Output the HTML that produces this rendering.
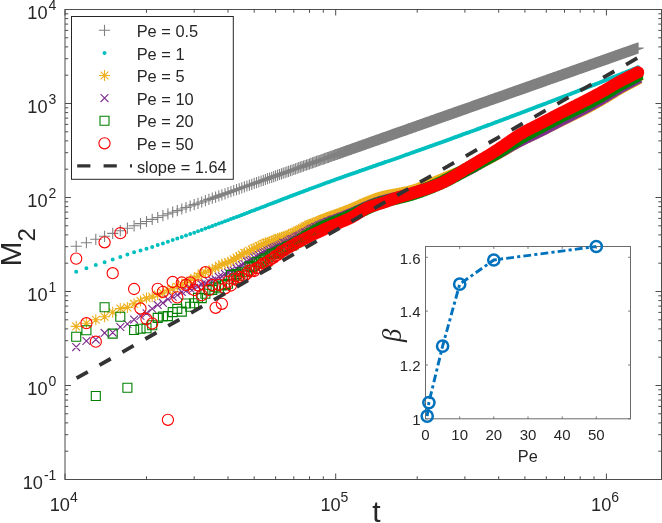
<!DOCTYPE html>
<html><head><meta charset="utf-8"><title>M2 vs t</title><style>html,body{margin:0;padding:0;background:#fff;width:662px;height:523px;overflow:hidden}svg{display:block;filter:blur(0.45px)}</style></head><body><svg width="662" height="523" viewBox="0 0 662 523"><defs><marker id="mb" markerUnits="userSpaceOnUse" markerWidth="16" markerHeight="16" refX="8" refY="8" overflow="visible"><circle cx="8" cy="8" r="5.6" stroke="#0072bd" stroke-width="2.5" fill="#fff" fill-opacity="0"/></marker></defs><rect x="0" y="0" width="662" height="523" fill="#fff"/><path fill="none" stroke="#808080" stroke-width="1.1" d="M70.6 246.3h11.2M76.2 240.7v11.2M80.8 242.7h11.2M86.4 237.1v11.2M90.2 239.3h11.2M95.8 233.7v11.2M99 236.3h11.2M104.6 230.7v11.2M107.1 233.4h11.2M112.7 227.8v11.2M114.7 230.7h11.2M120.3 225.1v11.2M121.8 228.2h11.2M127.4 222.6v11.2M128.5 225.8h11.2M134.1 220.2v11.2M134.9 223.6h11.2M140.5 218v11.2M140.9 221.5h11.2M146.5 215.9v11.2M146.6 219.4h11.2M152.2 213.8v11.2M152.1 217.5h11.2M157.7 211.9v11.2M157.3 215.7h11.2M162.9 210.1v11.2M162.3 213.9h11.2M167.9 208.3v11.2M167.1 212.2h11.2M172.7 206.6v11.2M171.7 210.6h11.2M177.3 205v11.2M176.2 209h11.2M181.8 203.4v11.2M180.4 207.5h11.2M186 201.9v11.2M184.6 206h11.2M190.2 200.4v11.2M188.6 204.6h11.2M194.2 199v11.2M192.4 203.3h11.2M198 197.7v11.2M196.1 202h11.2M201.7 196.4v11.2M199.8 200.7h11.2M205.4 195.1v11.2M203.3 199.4h11.2M208.9 193.8v11.2M206.7 198.2h11.2M212.3 192.6v11.2M210 197.1h11.2M215.6 191.5v11.2M213.2 195.9h11.2M218.8 190.3v11.2M216.3 194.8h11.2M221.9 189.2v11.2M219.4 193.8h11.2M225 188.2v11.2M222.4 192.7h11.2M228 187.1v11.2M225.3 191.7h11.2M230.9 186.1v11.2M228.1 190.7h11.2M233.7 185.1v11.2M230.9 189.7h11.2M236.5 184.1v11.2M233.6 188.8h11.2M239.2 183.2v11.2M236.2 187.8h11.2M241.8 182.2v11.2M238.8 186.9h11.2M244.4 181.3v11.2M241.3 186h11.2M246.9 180.4v11.2M243.8 185.1h11.2M249.4 179.5v11.2M246.2 184.3h11.2M251.8 178.7v11.2M248.6 183.4h11.2M254.2 177.8v11.2M250.9 182.6h11.2M256.5 177v11.2M253.2 181.8h11.2M258.8 176.2v11.2M255.5 181h11.2M261.1 175.4v11.2M257.7 180.3h11.2M263.3 174.7v11.2M259.8 179.5h11.2M265.4 173.9v11.2M261.9 178.7h11.2M267.5 173.1v11.2M264 178h11.2M269.6 172.4v11.2M266.1 177.3h11.2M271.7 171.7v11.2M268.1 176.6h11.2M273.7 171v11.2M270 175.9h11.2M275.6 170.3v11.2M272 175.2h11.2M277.6 169.6v11.2M273.9 174.5h11.2M279.5 168.9v11.2M275.8 173.9h11.2M281.4 168.3v11.2M277.6 173.2h11.2M283.2 167.6v11.2M279.5 172.6h11.2M285.1 167v11.2M281.3 171.9h11.2M286.9 166.3v11.2M283 171.3h11.2M288.6 165.7v11.2M284.8 170.7h11.2M290.4 165.1v11.2M286.5 170.1h11.2M292.1 164.5v11.2M288.2 169.5h11.2M293.8 163.9v11.2M289.8 168.9h11.2M295.4 163.3v11.2M291.5 168.3h11.2M297.1 162.7v11.2M293.1 167.7h11.2M298.7 162.1v11.2M294.7 167.2h11.2M300.3 161.6v11.2M296.3 166.6h11.2M301.9 161v11.2M297.8 166.1h11.2M303.4 160.5v11.2M299.4 165.5h11.2M305 159.9v11.2M300.9 165h11.2M306.5 159.4v11.2M302.4 164.5h11.2M308 158.9v11.2M303.9 164h11.2M309.5 158.4v11.2M305.3 163.4h11.2M310.9 157.8v11.2M306.8 162.9h11.2M312.4 157.3v11.2M308.2 162.4h11.2M313.8 156.8v11.2M309.6 161.9h11.2M315.2 156.3v11.2M311 161.4h11.2M316.6 155.8v11.2M312.4 160.9h11.2M318 155.3v11.2M313.7 160.5h11.2M319.3 154.9v11.2M315.1 160h11.2M320.7 154.4v11.2M316.4 159.5h11.2M322 153.9v11.2M317.7 159.1h11.2M323.3 153.5v11.2M319 158.6h11.2M324.6 153v11.2M320.3 158.2h11.2M325.9 152.6v11.2M321.6 157.7h11.2M327.2 152.1v11.2M322.8 157.3h11.2M328.4 151.7v11.2M324.1 156.8h11.2M329.7 151.2v11.2M325.3 156.4h11.2M330.9 150.8v11.2M326.5 156h11.2M332.1 150.4v11.2M327.7 155.5h11.2M333.3 149.9v11.2M328.9 155.1h11.2M334.5 149.5v11.2M330.1 154.7h11.2M335.7 149.1v11.2M331.3 154.3h11.2M336.9 148.7v11.2M332.4 153.9h11.2M338 148.3v11.2M333.6 153.5h11.2M339.2 147.9v11.2M334.7 153.1h11.2M340.3 147.5v11.2M335.8 152.7h11.2M341.4 147.1v11.2M337 152.3h11.2M342.6 146.7v11.2M338.1 151.9h11.2M343.7 146.3v11.2M339.1 151.5h11.2M344.7 145.9v11.2M340.2 151.1h11.2M345.8 145.5v11.2M341.3 150.7h11.2M346.9 145.1v11.2M342.4 150.4h11.2M348 144.8v11.2M343.4 150h11.2M349 144.4v11.2M344.5 149.6h11.2M350.1 144v11.2M345.5 149.3h11.2M351.1 143.7v11.2M346.5 148.9h11.2M352.1 143.3v11.2M347.5 148.5h11.2M353.1 142.9v11.2M348.6 148.2h11.2M354.2 142.6v11.2M349.6 147.8h11.2M355.2 142.2v11.2M350.6 147.5h11.2M356.2 141.9v11.2M351.5 147.1h11.2M357.1 141.5v11.2M352.5 146.8h11.2M358.1 141.2v11.2M353.5 146.4h11.2M359.1 140.8v11.2M354.4 146.1h11.2M360 140.5v11.2M355.4 145.8h11.2M361 140.2v11.2M356.3 145.4h11.2M361.9 139.8v11.2M357.3 145.1h11.2M362.9 139.5v11.2M358.2 144.8h11.2M363.8 139.2v11.2M359.1 144.5h11.2M364.7 138.9v11.2M360 144.1h11.2M365.6 138.5v11.2M360.9 143.8h11.2M366.5 138.2v11.2M361.8 143.5h11.2M367.4 137.9v11.2M362.7 143.2h11.2M368.3 137.6v11.2M363.6 142.9h11.2M369.2 137.3v11.2M364.5 142.6h11.2M370.1 137v11.2M365.4 142.2h11.2M371 136.6v11.2M366.2 141.9h11.2M371.8 136.3v11.2M367.1 141.6h11.2M372.7 136v11.2M368 141.3h11.2M373.6 135.7v11.2M368.8 141h11.2M374.4 135.4v11.2M369.7 140.7h11.2M375.3 135.1v11.2M370.5 140.4h11.2M376.1 134.8v11.2M371.3 140.1h11.2M376.9 134.5v11.2M372.1 139.9h11.2M377.7 134.3v11.2M373 139.6h11.2M378.6 134v11.2M373.8 139.3h11.2M379.4 133.7v11.2M374.6 139h11.2M380.2 133.4v11.2M375.4 138.7h11.2M381 133.1v11.2M376.2 138.4h11.2M381.8 132.8v11.2M377 138.1h11.2M382.6 132.5v11.2M377.8 137.9h11.2M383.4 132.3v11.2M378.5 137.6h11.2M384.1 132v11.2M379.3 137.3h11.2M384.9 131.7v11.2M380.1 137.1h11.2M385.7 131.5v11.2M380.9 136.8h11.2M386.5 131.2v11.2M381.6 136.5h11.2M387.2 130.9v11.2M382.4 136.2h11.2M388 130.6v11.2M383.1 136h11.2M388.7 130.4v11.2M383.9 135.7h11.2M389.5 130.1v11.2M384.6 135.5h11.2M390.2 129.9v11.2M385.4 135.2h11.2M391 129.6v11.2M386.1 134.9h11.2M391.7 129.3v11.2M386.8 134.7h11.2M392.4 129.1v11.2M387.5 134.4h11.2M393.1 128.8v11.2M388.3 134.2h11.2M393.9 128.6v11.2M389 133.9h11.2M394.6 128.3v11.2M389.7 133.7h11.2M395.3 128.1v11.2M390.4 133.4h11.2M396 127.8v11.2M391.1 133.2h11.2M396.7 127.6v11.2M391.8 132.9h11.2M397.4 127.3v11.2M392.5 132.7h11.2M398.1 127.1v11.2M393.2 132.4h11.2M398.8 126.8v11.2M393.9 132.2h11.2M399.5 126.6v11.2M394.5 132h11.2M400.1 126.4v11.2M395.2 131.7h11.2M400.8 126.1v11.2M395.9 131.5h11.2M401.5 125.9v11.2M396.6 131.2h11.2M402.2 125.6v11.2M397.2 131h11.2M402.8 125.4v11.2M397.9 130.8h11.2M403.5 125.2v11.2M398.5 130.5h11.2M404.1 124.9v11.2M399.2 130.3h11.2M404.8 124.7v11.2M399.9 130.1h11.2M405.5 124.5v11.2M400.5 129.8h11.2M406.1 124.2v11.2M401.1 129.6h11.2M406.7 124v11.2M401.8 129.4h11.2M407.4 123.8v11.2M402.4 129.2h11.2M408 123.6v11.2M403.1 128.9h11.2M408.7 123.3v11.2M403.7 128.7h11.2M409.3 123.1v11.2M404.3 128.5h11.2M409.9 122.9v11.2M404.9 128.3h11.2M410.5 122.7v11.2M405.6 128.1h11.2M411.2 122.5v11.2M406.2 127.8h11.2M411.8 122.2v11.2M406.8 127.6h11.2M412.4 122v11.2M407.4 127.4h11.2M413 121.8v11.2M408 127.2h11.2M413.6 121.6v11.2M408.6 127h11.2M414.2 121.4v11.2M409.2 126.8h11.2M414.8 121.2v11.2M409.8 126.6h11.2M415.4 121v11.2M410.4 126.4h11.2M416 120.8v11.2M411 126.1h11.2M416.6 120.5v11.2M411.6 125.9h11.2M417.2 120.3v11.2M412.2 125.7h11.2M417.8 120.1v11.2M412.8 125.5h11.2M418.4 119.9v11.2M413.3 125.3h11.2M418.9 119.7v11.2M413.9 125.1h11.2M419.5 119.5v11.2M414.5 124.9h11.2M420.1 119.3v11.2M415.1 124.7h11.2M420.7 119.1v11.2M415.6 124.5h11.2M421.2 118.9v11.2M416.2 124.3h11.2M421.8 118.7v11.2M416.8 124.1h11.2M422.4 118.5v11.2M417.3 123.9h11.2M422.9 118.3v11.2M417.9 123.7h11.2M423.5 118.1v11.2M418.4 123.5h11.2M424 117.9v11.2M419 123.3h11.2M424.6 117.7v11.2M419.5 123.1h11.2M425.1 117.5v11.2M420.1 122.9h11.2M425.7 117.3v11.2M420.6 122.7h11.2M426.2 117.1v11.2M421.2 122.6h11.2M426.8 117v11.2M421.7 122.4h11.2M427.3 116.8v11.2M422.3 122.2h11.2M427.9 116.6v11.2M422.8 122h11.2M428.4 116.4v11.2M423.3 121.8h11.2M428.9 116.2v11.2M423.9 121.6h11.2M429.5 116v11.2M424.4 121.4h11.2M430 115.8v11.2M424.9 121.2h11.2M430.5 115.6v11.2M425.4 121.1h11.2M431 115.5v11.2M426 120.9h11.2M431.6 115.3v11.2M426.5 120.7h11.2M432.1 115.1v11.2M427 120.5h11.2M432.6 114.9v11.2M427.5 120.3h11.2M433.1 114.7v11.2M428 120.1h11.2M433.6 114.5v11.2M428.5 120h11.2M434.1 114.4v11.2M429 119.8h11.2M434.6 114.2v11.2M429.5 119.6h11.2M435.1 114v11.2M430 119.4h11.2M435.6 113.8v11.2M430.5 119.2h11.2M436.1 113.6v11.2M431 119.1h11.2M436.6 113.5v11.2M431.5 118.9h11.2M437.1 113.3v11.2M432 118.7h11.2M437.6 113.1v11.2M432.5 118.5h11.2M438.1 112.9v11.2M433 118.4h11.2M438.6 112.8v11.2M433.5 118.2h11.2M439.1 112.6v11.2M434 118h11.2M439.6 112.4v11.2M434.5 117.9h11.2M440.1 112.3v11.2M435 117.7h11.2M440.6 112.1v11.2M435.4 117.5h11.2M441 111.9v11.2M435.9 117.3h11.2M441.5 111.7v11.2M436.4 117.2h11.2M442 111.6v11.2M436.9 117h11.2M442.5 111.4v11.2M437.4 116.8h11.2M443 111.2v11.2M437.8 116.7h11.2M443.4 111.1v11.2M438.3 116.5h11.2M443.9 110.9v11.2M438.8 116.3h11.2M444.4 110.7v11.2M439.2 116.2h11.2M444.8 110.6v11.2M439.7 116h11.2M445.3 110.4v11.2M440.2 115.9h11.2M445.8 110.3v11.2M440.6 115.7h11.2M446.2 110.1v11.2M441.1 115.5h11.2M446.7 109.9v11.2M441.5 115.4h11.2M447.1 109.8v11.2M442 115.2h11.2M447.6 109.6v11.2M442.4 115.1h11.2M448 109.5v11.2M442.9 114.9h11.2M448.5 109.3v11.2M443.3 114.7h11.2M448.9 109.1v11.2M443.8 114.6h11.2M449.4 109v11.2M444.2 114.4h11.2M449.8 108.8v11.2M444.7 114.3h11.2M450.3 108.7v11.2M445.1 114.1h11.2M450.7 108.5v11.2M445.6 114h11.2M451.2 108.4v11.2M446 113.8h11.2M451.6 108.2v11.2M446.4 113.6h11.2M452 108v11.2M446.9 113.5h11.2M452.5 107.9v11.2M447.3 113.3h11.2M452.9 107.7v11.2M447.7 113.2h11.2M453.3 107.6v11.2M448.2 113h11.2M453.8 107.4v11.2M448.6 112.9h11.2M454.2 107.3v11.2M449 112.7h11.2M454.6 107.1v11.2M449.5 112.6h11.2M455.1 107v11.2M449.9 112.4h11.2M455.5 106.8v11.2M450.3 112.3h11.2M455.9 106.7v11.2M450.7 112.1h11.2M456.3 106.5v11.2M451.1 112h11.2M456.7 106.4v11.2M451.6 111.8h11.2M457.2 106.2v11.2M452 111.7h11.2M457.6 106.1v11.2M452.4 111.5h11.2M458 105.9v11.2M452.8 111.4h11.2M458.4 105.8v11.2M453.2 111.2h11.2M458.8 105.6v11.2M453.6 111.1h11.2M459.2 105.5v11.2M454 111h11.2M459.6 105.4v11.2M454.5 110.8h11.2M460.1 105.2v11.2M454.9 110.7h11.2M460.5 105.1v11.2M455.3 110.5h11.2M460.9 104.9v11.2M455.7 110.4h11.2M461.3 104.8v11.2M456.1 110.2h11.2M461.7 104.6v11.2M456.5 110.1h11.2M462.1 104.5v11.2M456.9 110h11.2M462.5 104.4v11.2M457.7 109.7h11.2M463.3 104.1v11.2M458.5 109.4h11.2M464.1 103.8v11.2M459.3 109.1h11.2M464.9 103.5v11.2M460 108.8h11.2M465.6 103.2v11.2M460.8 108.6h11.2M466.4 103v11.2M461.6 108.3h11.2M467.2 102.7v11.2M462.4 108h11.2M468 102.4v11.2M463.1 107.8h11.2M468.7 102.2v11.2M463.9 107.5h11.2M469.5 101.9v11.2M464.6 107.2h11.2M470.2 101.6v11.2M465.4 107h11.2M471 101.4v11.2M466.1 106.7h11.2M471.7 101.1v11.2M466.8 106.4h11.2M472.4 100.8v11.2M467.6 106.2h11.2M473.2 100.6v11.2M468.3 105.9h11.2M473.9 100.3v11.2M469 105.7h11.2M474.6 100.1v11.2M469.7 105.4h11.2M475.3 99.8v11.2M470.5 105.2h11.2M476.1 99.6v11.2M471.2 104.9h11.2M476.8 99.3v11.2M471.9 104.7h11.2M477.5 99.1v11.2M472.6 104.4h11.2M478.2 98.8v11.2M473.3 104.2h11.2M478.9 98.6v11.2M474 103.9h11.2M479.6 98.3v11.2M474.7 103.7h11.2M480.3 98.1v11.2M475.3 103.4h11.2M480.9 97.8v11.2M476 103.2h11.2M481.6 97.6v11.2M476.7 103h11.2M482.3 97.4v11.2M477.4 102.7h11.2M483 97.1v11.2M478 102.5h11.2M483.6 96.9v11.2M478.7 102.2h11.2M484.3 96.6v11.2M479.4 102h11.2M485 96.4v11.2M480 101.8h11.2M485.6 96.2v11.2M480.7 101.6h11.2M486.3 96v11.2M481.3 101.3h11.2M486.9 95.7v11.2M482 101.1h11.2M487.6 95.5v11.2M482.6 100.9h11.2M488.2 95.3v11.2M483.3 100.6h11.2M488.9 95v11.2M483.9 100.4h11.2M489.5 94.8v11.2M484.5 100.2h11.2M490.1 94.6v11.2M485.2 100h11.2M490.8 94.4v11.2M485.8 99.7h11.2M491.4 94.1v11.2M486.4 99.5h11.2M492 93.9v11.2M487 99.3h11.2M492.6 93.7v11.2M487.7 99.1h11.2M493.3 93.5v11.2M488.3 98.9h11.2M493.9 93.3v11.2M488.9 98.7h11.2M494.5 93.1v11.2M489.5 98.4h11.2M495.1 92.8v11.2M490.1 98.2h11.2M495.7 92.6v11.2M490.7 98h11.2M496.3 92.4v11.2M491.3 97.8h11.2M496.9 92.2v11.2M491.9 97.6h11.2M497.5 92v11.2M492.5 97.4h11.2M498.1 91.8v11.2M493.1 97.2h11.2M498.7 91.6v11.2M493.7 97h11.2M499.3 91.4v11.2M494.2 96.8h11.2M499.8 91.2v11.2M494.8 96.6h11.2M500.4 91v11.2M495.4 96.4h11.2M501 90.8v11.2M496 96.2h11.2M501.6 90.6v11.2M496.6 96h11.2M502.2 90.4v11.2M497.1 95.8h11.2M502.7 90.2v11.2M497.7 95.6h11.2M503.3 90v11.2M498.3 95.4h11.2M503.9 89.8v11.2M498.8 95.2h11.2M504.4 89.6v11.2M499.4 95h11.2M505 89.4v11.2M499.9 94.8h11.2M505.5 89.2v11.2M500.5 94.6h11.2M506.1 89v11.2M501 94.4h11.2M506.6 88.8v11.2M501.6 94.2h11.2M507.2 88.6v11.2M502.1 94h11.2M507.7 88.4v11.2M502.7 93.8h11.2M508.3 88.2v11.2M503.2 93.6h11.2M508.8 88v11.2M503.7 93.4h11.2M509.3 87.8v11.2M504.3 93.2h11.2M509.9 87.6v11.2M504.8 93h11.2M510.4 87.4v11.2M505.3 92.9h11.2M510.9 87.3v11.2M505.9 92.7h11.2M511.5 87.1v11.2M506.4 92.5h11.2M512 86.9v11.2M506.9 92.3h11.2M512.5 86.7v11.2M507.4 92.1h11.2M513 86.5v11.2M508 91.9h11.2M513.6 86.3v11.2M508.5 91.7h11.2M514.1 86.1v11.2M509 91.6h11.2M514.6 86v11.2M509.5 91.4h11.2M515.1 85.8v11.2M510 91.2h11.2M515.6 85.6v11.2M510.5 91h11.2M516.1 85.4v11.2M511 90.8h11.2M516.6 85.2v11.2M511.5 90.7h11.2M517.1 85.1v11.2M512 90.5h11.2M517.6 84.9v11.2M512.5 90.3h11.2M518.1 84.7v11.2M513 90.1h11.2M518.6 84.5v11.2M513.5 90h11.2M519.1 84.4v11.2M514 89.8h11.2M519.6 84.2v11.2M514.5 89.6h11.2M520.1 84v11.2M515 89.4h11.2M520.6 83.8v11.2M515.5 89.3h11.2M521.1 83.7v11.2M516 89.1h11.2M521.6 83.5v11.2M516.5 88.9h11.2M522.1 83.3v11.2M516.9 88.8h11.2M522.5 83.2v11.2M517.4 88.6h11.2M523 83v11.2M517.9 88.4h11.2M523.5 82.8v11.2M518.4 88.3h11.2M524 82.7v11.2M518.8 88.1h11.2M524.4 82.5v11.2M519.3 87.9h11.2M524.9 82.3v11.2M519.8 87.8h11.2M525.4 82.2v11.2M520.2 87.6h11.2M525.8 82v11.2M520.7 87.4h11.2M526.3 81.8v11.2M521.2 87.3h11.2M526.8 81.7v11.2M521.6 87.1h11.2M527.2 81.5v11.2M522.1 86.9h11.2M527.7 81.3v11.2M522.6 86.8h11.2M528.2 81.2v11.2M523 86.6h11.2M528.6 81v11.2M523.5 86.5h11.2M529.1 80.9v11.2M523.9 86.3h11.2M529.5 80.7v11.2M524.4 86.1h11.2M530 80.5v11.2M524.8 86h11.2M530.4 80.4v11.2M525.3 85.8h11.2M530.9 80.2v11.2M525.7 85.7h11.2M531.3 80.1v11.2M526.2 85.5h11.2M531.8 79.9v11.2M526.6 85.4h11.2M532.2 79.8v11.2M527 85.2h11.2M532.6 79.6v11.2M527.5 85h11.2M533.1 79.4v11.2M527.9 84.9h11.2M533.5 79.3v11.2M528.4 84.7h11.2M534 79.1v11.2M528.8 84.6h11.2M534.4 79v11.2M529.2 84.4h11.2M534.8 78.8v11.2M529.7 84.3h11.2M535.3 78.7v11.2M530.1 84.1h11.2M535.7 78.5v11.2M530.5 84h11.2M536.1 78.4v11.2M530.9 83.8h11.2M536.5 78.2v11.2M531.4 83.7h11.2M537 78.1v11.2M531.8 83.5h11.2M537.4 77.9v11.2M532.2 83.4h11.2M537.8 77.8v11.2M532.6 83.2h11.2M538.2 77.6v11.2M533.1 83.1h11.2M538.7 77.5v11.2M533.5 82.9h11.2M539.1 77.3v11.2M533.9 82.8h11.2M539.5 77.2v11.2M534.3 82.6h11.2M539.9 77v11.2M534.7 82.5h11.2M540.3 76.9v11.2M535.1 82.3h11.2M540.7 76.7v11.2M535.5 82.2h11.2M541.1 76.6v11.2M535.9 82.1h11.2M541.5 76.5v11.2M536.4 81.9h11.2M542 76.3v11.2M536.8 81.8h11.2M542.4 76.2v11.2M537.2 81.6h11.2M542.8 76v11.2M537.6 81.5h11.2M543.2 75.9v11.2M538 81.3h11.2M543.6 75.7v11.2M538.4 81.2h11.2M544 75.6v11.2M539 81h11.2M544.6 75.4v11.2M539.6 80.8h11.2M545.2 75.2v11.2M540.2 80.6h11.2M545.8 75v11.2M540.7 80.4h11.2M546.3 74.8v11.2M541.3 80.2h11.2M546.9 74.6v11.2M541.9 79.9h11.2M547.5 74.3v11.2M542.5 79.7h11.2M548.1 74.1v11.2M543.1 79.5h11.2M548.7 73.9v11.2M543.6 79.3h11.2M549.2 73.7v11.2M544.2 79.1h11.2M549.8 73.5v11.2M544.8 78.9h11.2M550.4 73.3v11.2M545.4 78.7h11.2M551 73.1v11.2M545.9 78.5h11.2M551.5 72.9v11.2M546.5 78.3h11.2M552.1 72.7v11.2M547 78.1h11.2M552.6 72.5v11.2M547.6 77.9h11.2M553.2 72.3v11.2M548.1 77.7h11.2M553.7 72.1v11.2M548.7 77.6h11.2M554.3 72v11.2M549.2 77.4h11.2M554.8 71.8v11.2M549.8 77.2h11.2M555.4 71.6v11.2M550.3 77h11.2M555.9 71.4v11.2M550.9 76.8h11.2M556.5 71.2v11.2M551.4 76.6h11.2M557 71v11.2M552 76.4h11.2M557.6 70.8v11.2M552.5 76.2h11.2M558.1 70.6v11.2M553 76h11.2M558.6 70.4v11.2M553.5 75.8h11.2M559.1 70.2v11.2M554.1 75.7h11.2M559.7 70.1v11.2M554.6 75.5h11.2M560.2 69.9v11.2M555.1 75.3h11.2M560.7 69.7v11.2M555.6 75.1h11.2M561.2 69.5v11.2M556.1 74.9h11.2M561.7 69.3v11.2M556.7 74.7h11.2M562.3 69.1v11.2M557.2 74.6h11.2M562.8 69v11.2M557.7 74.4h11.2M563.3 68.8v11.2M558.2 74.2h11.2M563.8 68.6v11.2M558.7 74h11.2M564.3 68.4v11.2M559.2 73.8h11.2M564.8 68.2v11.2M559.7 73.7h11.2M565.3 68.1v11.2M560.2 73.5h11.2M565.8 67.9v11.2M560.7 73.3h11.2M566.3 67.7v11.2M561.2 73.1h11.2M566.8 67.5v11.2M561.7 73h11.2M567.3 67.4v11.2M562.2 72.8h11.2M567.8 67.2v11.2M562.7 72.6h11.2M568.3 67v11.2M563.2 72.5h11.2M568.8 66.9v11.2M563.6 72.3h11.2M569.2 66.7v11.2M564.1 72.1h11.2M569.7 66.5v11.2M564.6 71.9h11.2M570.2 66.3v11.2M565.1 71.8h11.2M570.7 66.2v11.2M565.6 71.6h11.2M571.2 66v11.2M566 71.4h11.2M571.6 65.8v11.2M566.5 71.3h11.2M572.1 65.7v11.2M567 71.1h11.2M572.6 65.5v11.2M567.4 70.9h11.2M573 65.3v11.2M567.9 70.8h11.2M573.5 65.2v11.2M568.4 70.6h11.2M574 65v11.2M568.8 70.4h11.2M574.4 64.8v11.2M569.3 70.3h11.2M574.9 64.7v11.2M569.8 70.1h11.2M575.4 64.5v11.2M570.2 70h11.2M575.8 64.4v11.2M570.7 69.8h11.2M576.3 64.2v11.2M571.1 69.6h11.2M576.7 64v11.2M571.6 69.5h11.2M577.2 63.9v11.2M572 69.3h11.2M577.6 63.7v11.2M572.5 69.2h11.2M578.1 63.6v11.2M572.9 69h11.2M578.5 63.4v11.2M573.4 68.8h11.2M579 63.2v11.2M573.8 68.7h11.2M579.4 63.1v11.2M574.3 68.5h11.2M579.9 62.9v11.2M574.7 68.4h11.2M580.3 62.8v11.2M575.2 68.2h11.2M580.8 62.6v11.2M575.6 68.1h11.2M581.2 62.5v11.2M576 67.9h11.2M581.6 62.3v11.2M576.5 67.8h11.2M582.1 62.2v11.2M576.9 67.6h11.2M582.5 62v11.2M577.3 67.5h11.2M582.9 61.9v11.2M577.8 67.3h11.2M583.4 61.7v11.2M578.2 67.1h11.2M583.8 61.5v11.2M578.6 67h11.2M584.2 61.4v11.2M579 66.8h11.2M584.6 61.2v11.2M579.5 66.7h11.2M585.1 61.1v11.2M579.9 66.6h11.2M585.5 61v11.2M580.3 66.4h11.2M585.9 60.8v11.2M580.7 66.3h11.2M586.3 60.7v11.2M581.1 66.1h11.2M586.7 60.5v11.2M581.6 66h11.2M587.2 60.4v11.2M582 65.8h11.2M587.6 60.2v11.2M582.4 65.7h11.2M588 60.1v11.2M582.8 65.5h11.2M588.4 59.9v11.2M583.2 65.4h11.2M588.8 59.8v11.2M583.6 65.2h11.2M589.2 59.6v11.2M584 65.1h11.2M589.6 59.5v11.2M584.4 64.9h11.2M590 59.3v11.2M584.8 64.8h11.2M590.4 59.2v11.2M585.2 64.7h11.2M590.8 59.1v11.2M585.6 64.5h11.2M591.2 58.9v11.2M586 64.4h11.2M591.6 58.8v11.2M586.6 64.2h11.2M592.2 58.6v11.2M587.1 64h11.2M592.7 58.4v11.2M587.6 63.8h11.2M593.2 58.2v11.2M588.2 63.6h11.2M593.8 58v11.2M588.7 63.4h11.2M594.3 57.8v11.2M589.2 63.3h11.2M594.8 57.7v11.2M589.7 63.1h11.2M595.3 57.5v11.2M590.2 62.9h11.2M595.8 57.3v11.2M590.7 62.7h11.2M596.3 57.1v11.2M591.3 62.5h11.2M596.9 56.9v11.2M591.8 62.4h11.2M597.4 56.8v11.2M592.3 62.2h11.2M597.9 56.6v11.2M592.8 62h11.2M598.4 56.4v11.2M593.3 61.8h11.2M598.9 56.2v11.2M593.8 61.6h11.2M599.4 56v11.2M594.3 61.5h11.2M599.9 55.9v11.2M594.8 61.3h11.2M600.4 55.7v11.2M595.3 61.1h11.2M600.9 55.5v11.2M595.8 60.9h11.2M601.4 55.3v11.2M596.2 60.8h11.2M601.8 55.2v11.2M596.7 60.6h11.2M602.3 55v11.2M597.2 60.4h11.2M602.8 54.8v11.2M597.7 60.3h11.2M603.3 54.7v11.2M598.2 60.1h11.2M603.8 54.5v11.2M598.7 59.9h11.2M604.3 54.3v11.2M599.1 59.8h11.2M604.7 54.2v11.2M599.6 59.6h11.2M605.2 54v11.2M600.1 59.4h11.2M605.7 53.8v11.2M600.6 59.3h11.2M606.2 53.7v11.2M601 59.1h11.2M606.6 53.5v11.2M601.5 58.9h11.2M607.1 53.3v11.2M602 58.8h11.2M607.6 53.2v11.2M602.4 58.6h11.2M608 53v11.2M602.9 58.4h11.2M608.5 52.8v11.2M603.4 58.3h11.2M609 52.7v11.2M603.8 58.1h11.2M609.4 52.5v11.2M604.3 57.9h11.2M609.9 52.3v11.2M604.7 57.8h11.2M610.3 52.2v11.2M605.2 57.6h11.2M610.8 52v11.2M605.6 57.5h11.2M611.2 51.9v11.2M606.1 57.3h11.2M611.7 51.7v11.2M606.5 57.1h11.2M612.1 51.5v11.2M607 57h11.2M612.6 51.4v11.2M607.4 56.8h11.2M613 51.2v11.2M607.9 56.7h11.2M613.5 51.1v11.2M608.3 56.5h11.2M613.9 50.9v11.2M608.8 56.4h11.2M614.4 50.8v11.2M609.2 56.2h11.2M614.8 50.6v11.2M609.6 56.1h11.2M615.2 50.5v11.2M610.1 55.9h11.2M615.7 50.3v11.2M610.5 55.7h11.2M616.1 50.1v11.2M610.9 55.6h11.2M616.5 50v11.2M611.4 55.4h11.2M617 49.8v11.2M611.8 55.3h11.2M617.4 49.7v11.2M612.2 55.1h11.2M617.8 49.5v11.2M612.6 55h11.2M618.2 49.4v11.2M613.1 54.8h11.2M618.7 49.2v11.2M613.5 54.7h11.2M619.1 49.1v11.2M613.9 54.5h11.2M619.5 48.9v11.2M614.3 54.4h11.2M619.9 48.8v11.2M614.8 54.2h11.2M620.4 48.6v11.2M615.2 54.1h11.2M620.8 48.5v11.2M615.6 54h11.2M621.2 48.4v11.2M616 53.8h11.2M621.6 48.2v11.2M616.4 53.7h11.2M622 48.1v11.2M616.8 53.5h11.2M622.4 47.9v11.2M617.2 53.4h11.2M622.8 47.8v11.2M617.6 53.2h11.2M623.2 47.6v11.2M618 53.1h11.2M623.6 47.5v11.2M618.5 52.9h11.2M624.1 47.3v11.2M618.9 52.8h11.2M624.5 47.2v11.2M619.3 52.7h11.2M624.9 47.1v11.2M619.7 52.5h11.2M625.3 46.9v11.2M620.2 52.3h11.2M625.8 46.7v11.2M620.7 52.2h11.2M626.3 46.6v11.2M621.2 52h11.2M626.8 46.4v11.2M621.6 51.8h11.2M627.2 46.2v11.2M622.1 51.6h11.2M627.7 46v11.2M622.6 51.5h11.2M628.2 45.9v11.2M623.1 51.3h11.2M628.7 45.7v11.2M623.6 51.1h11.2M629.2 45.5v11.2M624.1 51h11.2M629.7 45.4v11.2M624.6 50.8h11.2M630.2 45.2v11.2M625 50.6h11.2M630.6 45v11.2M625.5 50.4h11.2M631.1 44.8v11.2M626 50.3h11.2M631.6 44.7v11.2M626.5 50.1h11.2M632.1 44.5v11.2M626.9 49.9h11.2M632.5 44.3v11.2M627.4 49.8h11.2M633 44.2v11.2M627.9 49.6h11.2M633.5 44v11.2M628.3 49.4h11.2M633.9 43.8v11.2M628.8 49.3h11.2M634.4 43.7v11.2M629.3 49.1h11.2M634.9 43.5v11.2M629.7 49h11.2M635.3 43.4v11.2M630.2 48.8h11.2M635.8 43.2v11.2M630.6 48.6h11.2M636.2 43v11.2M631.1 48.5h11.2M636.7 42.9v11.2M631.6 48.3h11.2M637.2 42.7v11.2M632 48.2h11.2M637.6 42.6v11.2M632.5 48h11.2M638.1 42.4v11.2"/><path fill="none" stroke="#00bfbf" stroke-width="4.0" stroke-linecap="round" d="M76.2 271.8h0M86.4 268.2h0M95.8 265h0M104.6 262.2h0M112.7 259.5h0M120.3 256.9h0M127.4 254.5h0M134.1 252.3h0M140.5 250.5h0M146.5 248.7h0M152.2 246.9h0M157.7 245.1h0M162.9 243.4h0M167.9 241.8h0M172.7 240.1h0M177.3 238.6h0M181.8 237h0M186 235.5h0M190.2 234.1h0M194.2 232.7h0M198 231.3h0M201.7 229.9h0M205.4 228.6h0M208.9 227.3h0M212.3 226.1h0M215.6 224.8h0M218.8 223.6h0M221.9 222.4h0M225 221.3h0M228 220.2h0M230.9 219.1h0M233.7 218h0M236.5 217h0M239.2 215.9h0M241.8 214.9h0M244.4 213.9h0M246.9 213h0M249.4 212h0M251.8 211.1h0M254.2 210.2h0M256.5 209.3h0M258.8 208.4h0M261.1 207.5h0M263.3 206.7h0M265.4 205.9h0M267.5 205.1h0M269.6 204.3h0M271.7 203.5h0M273.7 202.7h0M275.6 201.9h0M277.6 201.2h0M279.5 200.5h0M281.4 199.7h0M283.2 199h0M285.1 198.3h0M286.9 197.7h0M288.6 197h0M290.4 196.3h0M292.1 195.7h0M293.8 195h0M295.4 194.4h0M297.1 193.8h0M298.7 193.2h0M300.3 192.6h0M301.9 192h0M303.4 191.4h0M305 190.8h0M306.5 190.2h0M308 189.7h0M309.5 189.1h0M310.9 188.6h0M312.4 188h0M313.8 187.5h0M315.2 187h0M316.6 186.5h0M318 186h0M319.3 185.5h0M320.7 185h0M322 184.5h0M323.3 184h0M324.6 183.5h0M325.9 183.1h0M327.2 182.6h0M328.4 182.2h0M329.7 181.7h0M330.9 181.3h0M332.1 180.8h0M333.3 180.4h0M334.5 180h0M335.7 179.6h0M336.9 179.1h0M338 178.7h0M339.2 178.3h0M340.3 177.9h0M341.4 177.5h0M342.6 177.1h0M343.7 176.7h0M344.7 176.3h0M345.8 176h0M346.9 175.6h0M348 175.2h0M349 174.8h0M350.1 174.5h0M351.1 174.1h0M352.1 173.8h0M353.1 173.4h0M354.2 173h0M355.2 172.7h0M356.2 172.4h0M357.1 172h0M358.1 171.7h0M359.1 171.3h0M360 171h0M361 170.7h0M361.9 170.3h0M362.9 170h0M363.8 169.7h0M364.7 169.4h0M365.6 169h0M366.5 168.7h0M367.4 168.4h0M368.3 168.1h0M369.2 167.8h0M370.1 167.5h0M371 167.2h0M371.8 166.9h0M372.7 166.6h0M373.6 166.3h0M374.4 166h0M375.3 165.7h0M376.1 165.4h0M376.9 165.1h0M377.7 164.8h0M378.6 164.5h0M379.4 164.3h0M380.2 164h0M381 163.7h0M381.8 163.4h0M382.6 163.1h0M383.4 162.9h0M384.1 162.6h0M384.9 162.3h0M385.7 162h0M386.5 161.8h0M387.2 161.5h0M388 161.2h0M388.7 161h0M389.5 160.7h0M390.2 160.5h0M391 160.2h0M391.7 159.9h0M392.4 159.7h0M393.1 159.4h0M393.9 159.2h0M394.6 158.9h0M395.3 158.7h0M396 158.4h0M396.7 158.2h0M397.4 157.9h0M398.1 157.7h0M398.8 157.4h0M399.5 157.2h0M400.1 157h0M400.8 156.7h0M401.5 156.5h0M402.2 156.2h0M402.8 156h0M403.5 155.8h0M404.1 155.5h0M404.8 155.3h0M405.5 155.1h0M406.1 154.8h0M406.7 154.6h0M407.4 154.4h0M408 154.2h0M408.7 153.9h0M409.3 153.7h0M409.9 153.5h0M410.5 153.3h0M411.2 153h0M411.8 152.8h0M412.4 152.6h0M413 152.4h0M413.6 152.2h0M414.2 152h0M414.8 151.7h0M415.4 151.5h0M416 151.3h0M416.6 151.1h0M417.2 150.9h0M417.8 150.7h0M418.4 150.5h0M418.9 150.3h0M419.5 150.1h0M420.1 149.9h0M420.7 149.7h0M421.2 149.5h0M421.8 149.3h0M422.4 149.1h0M422.9 148.9h0M423.5 148.7h0M424 148.5h0M424.6 148.3h0M425.1 148.1h0M425.7 147.9h0M426.2 147.7h0M426.8 147.5h0M427.3 147.3h0M427.9 147.1h0M428.4 146.9h0M428.9 146.7h0M429.5 146.5h0M430 146.3h0M430.5 146.2h0M431 146h0M431.6 145.8h0M432.1 145.6h0M432.6 145.4h0M433.1 145.2h0M433.6 145h0M434.1 144.9h0M434.6 144.7h0M435.1 144.5h0M435.6 144.3h0M436.1 144.1h0M436.6 144h0M437.1 143.8h0M437.6 143.6h0M438.1 143.4h0M438.6 143.3h0M439.1 143.1h0M439.6 142.9h0M440.1 142.7h0M440.6 142.6h0M441 142.4h0M441.5 142.2h0M442 142h0M442.5 141.9h0M443 141.7h0M443.4 141.5h0M443.9 141.4h0M444.4 141.2h0M444.8 141h0M445.3 140.9h0M445.8 140.7h0M446.2 140.5h0M446.7 140.4h0M447.1 140.2h0M447.6 140h0M448 139.9h0M448.5 139.7h0M448.9 139.5h0M449.4 139.4h0M449.8 139.2h0M450.3 139.1h0M450.7 138.9h0M451.2 138.7h0M451.6 138.6h0M452 138.4h0M452.5 138.3h0M452.9 138.1h0M453.3 138h0M453.8 137.8h0M454.2 137.6h0M454.6 137.5h0M455.1 137.3h0M455.5 137.2h0M455.9 137h0M456.3 136.9h0M456.7 136.7h0M457.2 136.6h0M457.6 136.4h0M458 136.3h0M458.4 136.1h0M458.8 136h0M459.2 135.8h0M459.6 135.7h0M460.1 135.5h0M460.5 135.4h0M460.9 135.2h0M461.3 135.1h0M461.7 134.9h0M462.1 134.8h0M462.5 134.6h0M463.3 134.3h0M464.1 134.1h0M464.9 133.8h0M465.6 133.5h0M466.4 133.2h0M467.2 132.9h0M468 132.6h0M468.7 132.4h0M469.5 132.1h0M470.2 131.8h0M471 131.5h0M471.7 131.3h0M472.4 131h0M473.2 130.7h0M473.9 130.5h0M474.6 130.2h0M475.3 129.9h0M476.1 129.7h0M476.8 129.4h0M477.5 129.1h0M478.2 128.9h0M478.9 128.6h0M479.6 128.4h0M480.3 128.1h0M480.9 127.8h0M481.6 127.6h0M482.3 127.3h0M483 127.1h0M483.6 126.8h0M484.3 126.6h0M485 126.4h0M485.6 126.1h0M486.3 125.9h0M486.9 125.6h0M487.6 125.4h0M488.2 125.1h0M488.9 124.9h0M489.5 124.7h0M490.1 124.4h0M490.8 124.2h0M491.4 124h0M492 123.7h0M492.6 123.5h0M493.3 123.3h0M493.9 123h0M494.5 122.8h0M495.1 122.6h0M495.7 122.4h0M496.3 122.1h0M496.9 121.9h0M497.5 121.7h0M498.1 121.5h0M498.7 121.2h0M499.3 121h0M499.8 120.8h0M500.4 120.6h0M501 120.4h0M501.6 120.2h0M502.2 119.9h0M502.7 119.7h0M503.3 119.5h0M503.9 119.3h0M504.4 119.1h0M505 118.9h0M505.5 118.7h0M506.1 118.5h0M506.6 118.3h0M507.2 118.1h0M507.7 117.9h0M508.3 117.7h0M508.8 117.4h0M509.3 117.2h0M509.9 117h0M510.4 116.8h0M510.9 116.6h0M511.5 116.4h0M512 116.2h0M512.5 116.1h0M513 115.9h0M513.6 115.7h0M514.1 115.5h0M514.6 115.3h0M515.1 115.1h0M515.6 114.9h0M516.1 114.7h0M516.6 114.5h0M517.1 114.3h0M517.6 114.1h0M518.1 113.9h0M518.6 113.8h0M519.1 113.6h0M519.6 113.4h0M520.1 113.2h0M520.6 113h0M521.1 112.8h0M521.6 112.6h0M522.1 112.5h0M522.5 112.3h0M523 112.1h0M523.5 111.9h0M524 111.7h0M524.4 111.6h0M524.9 111.4h0M525.4 111.2h0M525.8 111h0M526.3 110.8h0M526.8 110.7h0M527.2 110.5h0M527.7 110.3h0M528.2 110.1h0M528.6 110h0M529.1 109.8h0M529.5 109.6h0M530 109.5h0M530.4 109.3h0M530.9 109.1h0M531.3 109h0M531.8 108.8h0M532.2 108.6h0M532.6 108.4h0M533.1 108.3h0M533.5 108.1h0M534 107.9h0M534.4 107.8h0M534.8 107.6h0M535.3 107.5h0M535.7 107.3h0M536.1 107.1h0M536.5 107h0M537 106.8h0M537.4 106.6h0M537.8 106.5h0M538.2 106.3h0M538.7 106.2h0M539.1 106h0M539.5 105.8h0M539.9 105.7h0M540.3 105.5h0M540.7 105.4h0M541.1 105.2h0M541.5 105.1h0M542 104.9h0M542.4 104.7h0M542.8 104.6h0M543.2 104.4h0M543.6 104.3h0M544 104.1h0M544.6 103.9h0M545.2 103.7h0M545.8 103.5h0M546.3 103.2h0M546.9 103h0M547.5 102.8h0M548.1 102.6h0M548.7 102.3h0M549.2 102.1h0M549.8 101.9h0M550.4 101.7h0M551 101.5h0M551.5 101.2h0M552.1 101h0M552.6 100.8h0M553.2 100.6h0M553.7 100.4h0M554.3 100.2h0M554.8 100h0M555.4 99.8h0M555.9 99.5h0M556.5 99.3h0M557 99.1h0M557.6 98.9h0M558.1 98.7h0M558.6 98.5h0M559.1 98.3h0M559.7 98.1h0M560.2 97.9h0M560.7 97.7h0M561.2 97.5h0M561.7 97.3h0M562.3 97.1h0M562.8 96.9h0M563.3 96.7h0M563.8 96.5h0M564.3 96.3h0M564.8 96.1h0M565.3 95.9h0M565.8 95.7h0M566.3 95.6h0M566.8 95.4h0M567.3 95.2h0M567.8 95h0M568.3 94.8h0M568.8 94.6h0M569.2 94.4h0M569.7 94.2h0M570.2 94h0M570.7 93.9h0M571.2 93.7h0M571.6 93.5h0M572.1 93.3h0M572.6 93.1h0M573 92.9h0M573.5 92.8h0M574 92.6h0M574.4 92.4h0M574.9 92.2h0M575.4 92h0M575.8 91.9h0M576.3 91.7h0M576.7 91.5h0M577.2 91.3h0M577.6 91.2h0M578.1 91h0M578.5 90.8h0M579 90.6h0M579.4 90.5h0M579.9 90.3h0M580.3 90.1h0M580.8 90h0M581.2 89.8h0M581.6 89.6h0M582.1 89.4h0M582.5 89.3h0M582.9 89.1h0M583.4 88.9h0M583.8 88.8h0M584.2 88.6h0M584.6 88.4h0M585.1 88.3h0M585.5 88.1h0M585.9 87.9h0M586.3 87.8h0M586.7 87.6h0M587.2 87.5h0M587.6 87.3h0M588 87.1h0M588.4 87h0M588.8 86.8h0M589.2 86.6h0M589.6 86.5h0M590 86.3h0M590.4 86.2h0M590.8 86h0M591.2 85.9h0M591.6 85.7h0M592.2 85.5h0M592.7 85.3h0M593.2 85.1h0M593.8 84.9h0M594.3 84.7h0M594.8 84.5h0M595.3 84.3h0M595.8 84.1h0M596.3 83.9h0M596.9 83.7h0M597.4 83.5h0M597.9 83.3h0M598.4 83.1h0M598.9 82.9h0M599.4 82.7h0M599.9 82.5h0M600.4 82.3h0M600.9 82.1h0M601.4 81.9h0M601.8 81.7h0M602.3 81.5h0M602.8 81.3h0M603.3 81.1h0M603.8 80.9h0M604.3 80.7h0M604.7 80.5h0M605.2 80.4h0M605.7 80.2h0M606.2 80h0M606.6 79.8h0M607.1 79.6h0M607.6 79.4h0M608 79.2h0M608.5 79.1h0M609 78.9h0M609.4 78.7h0M609.9 78.5h0M610.3 78.3h0M610.8 78.2h0M611.2 78h0M611.7 77.8h0M612.1 77.6h0M612.6 77.4h0M613 77.3h0M613.5 77.1h0M613.9 76.9h0M614.4 76.7h0M614.8 76.6h0M615.2 76.4h0M615.7 76.2h0M616.1 76.1h0M616.5 75.9h0M617 75.7h0M617.4 75.5h0M617.8 75.4h0M618.2 75.2h0M618.7 75h0M619.1 74.9h0M619.5 74.7h0M619.9 74.5h0M620.4 74.4h0M620.8 74.2h0M621.2 74h0M621.6 73.9h0M622 73.7h0M622.4 73.5h0M622.8 73.4h0M623.2 73.2h0M623.6 73.1h0M624.1 72.9h0M624.5 72.7h0M624.9 72.6h0M625.3 72.4h0M625.8 72.2h0M626.3 72h0M626.8 71.8h0M627.2 71.6h0M627.7 71.4h0M628.2 71.2h0M628.7 71h0M629.2 70.8h0M629.7 70.6h0M630.2 70.4h0M630.6 70.3h0M631.1 70.1h0M631.6 69.9h0M632.1 69.7h0M632.5 69.5h0M633 69.3h0M633.5 69.1h0M633.9 68.9h0M634.4 68.7h0M634.9 68.6h0M635.3 68.4h0M635.8 68.2h0M636.2 68h0M636.7 67.8h0M637.2 67.6h0M637.6 67.5h0M638.1 67.3h0"/><path fill="none" stroke="#edb120" stroke-width="1.1" d="M70.7 326.4h11M76.2 320.9v11M72.3 322.5l7.8 7.8M72.3 330.3l7.8-7.8M80.9 323.3h11M86.4 317.8v11M82.5 319.4l7.8 7.8M82.5 327.2l7.8-7.8M90.3 319.8h11M95.8 314.3v11M91.9 315.9l7.8 7.8M91.9 323.7l7.8-7.8M99.1 316.8h11M104.6 311.3v11M100.7 312.9l7.8 7.8M100.7 320.7l7.8-7.8M107.2 312.2h11M112.7 306.7v11M108.8 308.3l7.8 7.8M108.8 316.1l7.8-7.8M114.8 308.6h11M120.3 303.1v11M116.4 304.7l7.8 7.8M116.4 312.5l7.8-7.8M121.9 307.4h11M127.4 301.9v11M123.5 303.5l7.8 7.8M123.5 311.3l7.8-7.8M128.6 303.9h11M134.1 298.4v11M130.2 300l7.8 7.8M130.2 307.8l7.8-7.8M135 300.9h11M140.5 295.4v11M136.6 297l7.8 7.8M136.6 304.8l7.8-7.8M141 298.1h11M146.5 292.6v11M142.6 294.2l7.8 7.8M142.6 302l7.8-7.8M146.7 296.7h11M152.2 291.2v11M148.3 292.8l7.8 7.8M148.3 300.6l7.8-7.8M152.2 294.6h11M157.7 289.1v11M153.8 290.7l7.8 7.8M153.8 298.5l7.8-7.8M157.4 293h11M162.9 287.5v11M159 289.1l7.8 7.8M159 296.9l7.8-7.8M162.4 290.1h11M167.9 284.6v11M164 286.2l7.8 7.8M164 294l7.8-7.8M167.2 288.8h11M172.7 283.3v11M168.8 284.9l7.8 7.8M168.8 292.7l7.8-7.8M171.8 286.7h11M177.3 281.2v11M173.4 282.8l7.8 7.8M173.4 290.6l7.8-7.8M176.3 284.3h11M181.8 278.8v11M177.9 280.4l7.8 7.8M177.9 288.2l7.8-7.8M180.5 282.9h11M186 277.4v11M182.1 279l7.8 7.8M182.1 286.8l7.8-7.8M184.7 280.5h11M190.2 275v11M186.3 276.6l7.8 7.8M186.3 284.4l7.8-7.8M188.7 278h11M194.2 272.5v11M190.3 274.1l7.8 7.8M190.3 281.9l7.8-7.8M192.5 276.1h11M198 270.6v11M194.1 272.2l7.8 7.8M194.1 280l7.8-7.8M196.2 273.4h11M201.7 267.9v11M197.8 269.5l7.8 7.8M197.8 277.3l7.8-7.8M199.9 272.3h11M205.4 266.8v11M201.5 268.4l7.8 7.8M201.5 276.2l7.8-7.8M203.4 270.8h11M208.9 265.3v11M205 266.9l7.8 7.8M205 274.7l7.8-7.8M206.8 269.2h11M212.3 263.7v11M208.4 265.3l7.8 7.8M208.4 273.1l7.8-7.8M210.1 268.1h11M215.6 262.6v11M211.7 264.2l7.8 7.8M211.7 272l7.8-7.8M213.3 265.8h11M218.8 260.3v11M214.9 261.9l7.8 7.8M214.9 269.7l7.8-7.8M216.4 264.3h11M221.9 258.8v11M218 260.4l7.8 7.8M218 268.2l7.8-7.8M219.5 263.6h11M225 258.1v11M221.1 259.7l7.8 7.8M221.1 267.5l7.8-7.8M222.5 262.2h11M228 256.7v11M224.1 258.3l7.8 7.8M224.1 266.1l7.8-7.8M225.4 261.4h11M230.9 255.9v11M227 257.5l7.8 7.8M227 265.3l7.8-7.8M228.2 259.4h11M233.7 253.9v11M229.8 255.5l7.8 7.8M229.8 263.3l7.8-7.8M231 257.5h11M236.5 252v11M232.6 253.6l7.8 7.8M232.6 261.4l7.8-7.8M233.7 256.6h11M239.2 251.1v11M235.3 252.7l7.8 7.8M235.3 260.5l7.8-7.8M236.3 254.6h11M241.8 249.1v11M237.9 250.7l7.8 7.8M237.9 258.5l7.8-7.8M238.9 252.9h11M244.4 247.4v11M240.5 249l7.8 7.8M240.5 256.8l7.8-7.8M241.4 252.9h11M246.9 247.4v11M243 249l7.8 7.8M243 256.8l7.8-7.8M243.9 250.8h11M249.4 245.3v11M245.5 246.9l7.8 7.8M245.5 254.7l7.8-7.8M246.3 249.6h11M251.8 244.1v11M247.9 245.7l7.8 7.8M247.9 253.5l7.8-7.8M248.7 248.3h11M254.2 242.8v11M250.3 244.4l7.8 7.8M250.3 252.2l7.8-7.8M251 247.6h11M256.5 242.1v11M252.6 243.7l7.8 7.8M252.6 251.5l7.8-7.8M253.3 246h11M258.8 240.5v11M254.9 242.1l7.8 7.8M254.9 249.9l7.8-7.8M255.6 245.3h11M261.1 239.8v11M257.2 241.4l7.8 7.8M257.2 249.2l7.8-7.8M257.8 243.7h11M263.3 238.2v11M259.4 239.8l7.8 7.8M259.4 247.6l7.8-7.8M259.9 242.7h11M265.4 237.2v11M261.5 238.8l7.8 7.8M261.5 246.6l7.8-7.8M262 242.7h11M267.5 237.2v11M263.6 238.8l7.8 7.8M263.6 246.6l7.8-7.8M264.1 241.9h11M269.6 236.4v11M265.7 238l7.8 7.8M265.7 245.8l7.8-7.8M266.2 240.9h11M271.7 235.4v11M267.8 237l7.8 7.8M267.8 244.8l7.8-7.8M268.2 240.1h11M273.7 234.6v11M269.8 236.2l7.8 7.8M269.8 244l7.8-7.8M270.1 239.3h11M275.6 233.8v11M271.7 235.4l7.8 7.8M271.7 243.2l7.8-7.8M272.1 238.4h11M277.6 232.9v11M273.7 234.5l7.8 7.8M273.7 242.3l7.8-7.8M274 238.3h11M279.5 232.8v11M275.6 234.4l7.8 7.8M275.6 242.2l7.8-7.8M275.9 237.4h11M281.4 231.9v11M277.5 233.5l7.8 7.8M277.5 241.3l7.8-7.8M277.7 236.6h11M283.2 231.1v11M279.3 232.7l7.8 7.8M279.3 240.5l7.8-7.8M279.6 235.9h11M285.1 230.4v11M281.2 232l7.8 7.8M281.2 239.8l7.8-7.8M281.4 235.4h11M286.9 229.9v11M283 231.5l7.8 7.8M283 239.3l7.8-7.8M283.1 234.5h11M288.6 229v11M284.7 230.6l7.8 7.8M284.7 238.4l7.8-7.8M284.9 233.9h11M290.4 228.4v11M286.5 230l7.8 7.8M286.5 237.8l7.8-7.8M286.6 232.7h11M292.1 227.2v11M288.2 228.8l7.8 7.8M288.2 236.6l7.8-7.8M288.3 232.3h11M293.8 226.8v11M289.9 228.4l7.8 7.8M289.9 236.2l7.8-7.8M289.9 231.9h11M295.4 226.4v11M291.5 228l7.8 7.8M291.5 235.8l7.8-7.8M291.6 230.5h11M297.1 225v11M293.2 226.6l7.8 7.8M293.2 234.4l7.8-7.8M293.2 229.7h11M298.7 224.2v11M294.8 225.8l7.8 7.8M294.8 233.6l7.8-7.8M294.8 229.1h11M300.3 223.6v11M296.4 225.2l7.8 7.8M296.4 233l7.8-7.8M296.4 228.3h11M301.9 222.8v11M298 224.4l7.8 7.8M298 232.2l7.8-7.8M297.9 227.4h11M303.4 221.9v11M299.5 223.5l7.8 7.8M299.5 231.3l7.8-7.8M299.5 226.2h11M305 220.7v11M301.1 222.3l7.8 7.8M301.1 230.1l7.8-7.8M301 225.9h11M306.5 220.4v11M302.6 222l7.8 7.8M302.6 229.8l7.8-7.8M302.5 224.9h11M308 219.4v11M304.1 221l7.8 7.8M304.1 228.8l7.8-7.8M304 224.3h11M309.5 218.8v11M305.6 220.4l7.8 7.8M305.6 228.2l7.8-7.8M305.4 223.9h11M310.9 218.4v11M307 220l7.8 7.8M307 227.8l7.8-7.8M306.9 223.2h11M312.4 217.7v11M308.5 219.3l7.8 7.8M308.5 227.1l7.8-7.8M308.3 222.8h11M313.8 217.3v11M309.9 218.9l7.8 7.8M309.9 226.7l7.8-7.8M309.7 222.7h11M315.2 217.2v11M311.3 218.8l7.8 7.8M311.3 226.6l7.8-7.8M311.1 221.8h11M316.6 216.3v11M312.7 217.9l7.8 7.8M312.7 225.7l7.8-7.8M312.5 221.3h11M318 215.8v11M314.1 217.4l7.8 7.8M314.1 225.2l7.8-7.8M313.8 220.5h11M319.3 215v11M315.4 216.6l7.8 7.8M315.4 224.4l7.8-7.8M315.2 220h11M320.7 214.5v11M316.8 216.1l7.8 7.8M316.8 223.9l7.8-7.8M316.5 219.4h11M322 213.9v11M318.1 215.5l7.8 7.8M318.1 223.3l7.8-7.8M317.8 219h11M323.3 213.5v11M319.4 215.1l7.8 7.8M319.4 222.9l7.8-7.8M319.1 218.4h11M324.6 212.9v11M320.7 214.5l7.8 7.8M320.7 222.3l7.8-7.8M320.4 218h11M325.9 212.5v11M322 214.1l7.8 7.8M322 221.9l7.8-7.8M321.7 217.6h11M327.2 212.1v11M323.3 213.7l7.8 7.8M323.3 221.5l7.8-7.8M322.9 217h11M328.4 211.5v11M324.5 213.1l7.8 7.8M324.5 220.9l7.8-7.8M324.2 216.4h11M329.7 210.9v11M325.8 212.5l7.8 7.8M325.8 220.3l7.8-7.8M325.4 216h11M330.9 210.5v11M327 212.1l7.8 7.8M327 219.9l7.8-7.8M326.6 215.8h11M332.1 210.3v11M328.2 211.9l7.8 7.8M328.2 219.7l7.8-7.8M327.8 215.3h11M333.3 209.8v11M329.4 211.4l7.8 7.8M329.4 219.2l7.8-7.8M329 215h11M334.5 209.5v11M330.6 211.1l7.8 7.8M330.6 218.9l7.8-7.8M330.2 214.5h11M335.7 209v11M331.8 210.6l7.8 7.8M331.8 218.4l7.8-7.8M331.4 213.9h11M336.9 208.4v11M333 210l7.8 7.8M333 217.8l7.8-7.8M332.5 213.7h11M338 208.2v11M334.1 209.8l7.8 7.8M334.1 217.6l7.8-7.8M333.7 213h11M339.2 207.5v11M335.3 209.1l7.8 7.8M335.3 216.9l7.8-7.8M334.8 213h11M340.3 207.5v11M336.4 209.1l7.8 7.8M336.4 216.9l7.8-7.8M335.9 212.5h11M341.4 207v11M337.5 208.6l7.8 7.8M337.5 216.4l7.8-7.8M337.1 211.9h11M342.6 206.4v11M338.7 208l7.8 7.8M338.7 215.8l7.8-7.8M338.2 211.4h11M343.7 205.9v11M339.8 207.5l7.8 7.8M339.8 215.3l7.8-7.8M339.2 211.2h11M344.7 205.7v11M340.8 207.3l7.8 7.8M340.8 215.1l7.8-7.8M340.3 210.5h11M345.8 205v11M341.9 206.6l7.8 7.8M341.9 214.4l7.8-7.8M341.4 210.2h11M346.9 204.7v11M343 206.3l7.8 7.8M343 214.1l7.8-7.8M342.5 210h11M348 204.5v11M344.1 206.1l7.8 7.8M344.1 213.9l7.8-7.8M343.5 209.5h11M349 204v11M345.1 205.6l7.8 7.8M345.1 213.4l7.8-7.8M344.6 209h11M350.1 203.5v11M346.2 205.1l7.8 7.8M346.2 212.9l7.8-7.8M345.6 208.8h11M351.1 203.3v11M347.2 204.9l7.8 7.8M347.2 212.7l7.8-7.8M346.6 208.1h11M352.1 202.6v11M348.2 204.2l7.8 7.8M348.2 212l7.8-7.8M347.6 207.8h11M353.1 202.3v11M349.2 203.9l7.8 7.8M349.2 211.7l7.8-7.8M348.7 207.3h11M354.2 201.8v11M350.3 203.4l7.8 7.8M350.3 211.2l7.8-7.8M349.7 206.9h11M355.2 201.4v11M351.3 203l7.8 7.8M351.3 210.8l7.8-7.8M350.7 206.6h11M356.2 201.1v11M352.3 202.7l7.8 7.8M352.3 210.5l7.8-7.8M351.6 206h11M357.1 200.5v11M353.2 202.1l7.8 7.8M353.2 209.9l7.8-7.8M352.6 205.8h11M358.1 200.3v11M354.2 201.9l7.8 7.8M354.2 209.7l7.8-7.8M353.6 205.2h11M359.1 199.7v11M355.2 201.3l7.8 7.8M355.2 209.1l7.8-7.8M354.5 205h11M360 199.5v11M356.1 201.1l7.8 7.8M356.1 208.9l7.8-7.8M355.5 204.3h11M361 198.8v11M357.1 200.4l7.8 7.8M357.1 208.2l7.8-7.8M356.4 204h11M361.9 198.5v11M358 200.1l7.8 7.8M358 207.9l7.8-7.8M357.4 203.4h11M362.9 197.9v11M359 199.5l7.8 7.8M359 207.3l7.8-7.8M358.3 203h11M363.8 197.5v11M359.9 199.1l7.8 7.8M359.9 206.9l7.8-7.8M359.2 202.7h11M364.7 197.2v11M360.8 198.8l7.8 7.8M360.8 206.6l7.8-7.8M360.1 202.4h11M365.6 196.9v11M361.7 198.5l7.8 7.8M361.7 206.3l7.8-7.8M361 201.8h11M366.5 196.3v11M362.6 197.9l7.8 7.8M362.6 205.7l7.8-7.8M361.9 201.7h11M367.4 196.2v11M363.5 197.8l7.8 7.8M363.5 205.6l7.8-7.8M362.8 201.1h11M368.3 195.6v11M364.4 197.2l7.8 7.8M364.4 205l7.8-7.8M363.7 200.9h11M369.2 195.4v11M365.3 197l7.8 7.8M365.3 204.8l7.8-7.8M364.6 200.5h11M370.1 195v11M366.2 196.6l7.8 7.8M366.2 204.4l7.8-7.8M365.5 200.2h11M371 194.7v11M367.1 196.3l7.8 7.8M367.1 204.1l7.8-7.8M366.3 199.7h11M371.8 194.2v11M367.9 195.8l7.8 7.8M367.9 203.6l7.8-7.8M367.2 199.6h11M372.7 194.1v11M368.8 195.7l7.8 7.8M368.8 203.5l7.8-7.8M368.1 199.2h11M373.6 193.7v11M369.7 195.3l7.8 7.8M369.7 203.1l7.8-7.8M368.9 198.8h11M374.4 193.3v11M370.5 194.9l7.8 7.8M370.5 202.7l7.8-7.8M369.8 198.5h11M375.3 193v11M371.4 194.6l7.8 7.8M371.4 202.4l7.8-7.8M370.6 198.2h11M376.1 192.7v11M372.2 194.3l7.8 7.8M372.2 202.1l7.8-7.8M371.4 197.9h11M376.9 192.4v11M373 194l7.8 7.8M373 201.8l7.8-7.8M372.2 197.8h11M377.7 192.3v11M373.8 193.9l7.8 7.8M373.8 201.7l7.8-7.8M373.1 197.5h11M378.6 192v11M374.7 193.6l7.8 7.8M374.7 201.4l7.8-7.8M373.9 197.2h11M379.4 191.7v11M375.5 193.3l7.8 7.8M375.5 201.1l7.8-7.8M374.7 197h11M380.2 191.5v11M376.3 193.1l7.8 7.8M376.3 200.9l7.8-7.8M375.5 196.9h11M381 191.4v11M377.1 193l7.8 7.8M377.1 200.8l7.8-7.8M376.3 196.6h11M381.8 191.1v11M377.9 192.7l7.8 7.8M377.9 200.5l7.8-7.8M377.1 196.4h11M382.6 190.9v11M378.7 192.5l7.8 7.8M378.7 200.3l7.8-7.8M377.9 196.3h11M383.4 190.8v11M379.5 192.4l7.8 7.8M379.5 200.2l7.8-7.8M378.6 196.1h11M384.1 190.6v11M380.2 192.2l7.8 7.8M380.2 200l7.8-7.8M379.4 195.9h11M384.9 190.4v11M381 192l7.8 7.8M381 199.8l7.8-7.8M380.2 195.7h11M385.7 190.2v11M381.8 191.8l7.8 7.8M381.8 199.6l7.8-7.8M381 195.5h11M386.5 190v11M382.6 191.6l7.8 7.8M382.6 199.4l7.8-7.8M381.7 195.3h11M387.2 189.8v11M383.3 191.4l7.8 7.8M383.3 199.2l7.8-7.8M382.5 195.2h11M388 189.7v11M384.1 191.3l7.8 7.8M384.1 199.1l7.8-7.8M383.2 195.1h11M388.7 189.6v11M384.8 191.2l7.8 7.8M384.8 199l7.8-7.8M384 195h11M389.5 189.5v11M385.6 191.1l7.8 7.8M385.6 198.9l7.8-7.8M384.7 194.8h11M390.2 189.3v11M386.3 190.9l7.8 7.8M386.3 198.7l7.8-7.8M385.5 194.7h11M391 189.2v11M387.1 190.8l7.8 7.8M387.1 198.6l7.8-7.8M386.2 194.5h11M391.7 189v11M387.8 190.6l7.8 7.8M387.8 198.4l7.8-7.8M386.9 194.4h11M392.4 188.9v11M388.5 190.5l7.8 7.8M388.5 198.3l7.8-7.8M387.6 194.2h11M393.1 188.7v11M389.2 190.3l7.8 7.8M389.2 198.1l7.8-7.8M388.4 194.1h11M393.9 188.6v11M390 190.2l7.8 7.8M390 198l7.8-7.8M389.1 194h11M394.6 188.5v11M390.7 190.1l7.8 7.8M390.7 197.9l7.8-7.8M389.8 193.9h11M395.3 188.4v11M391.4 190l7.8 7.8M391.4 197.8l7.8-7.8M390.5 193.7h11M396 188.2v11M392.1 189.8l7.8 7.8M392.1 197.6l7.8-7.8M391.2 193.6h11M396.7 188.1v11M392.8 189.7l7.8 7.8M392.8 197.5l7.8-7.8M391.9 193.5h11M397.4 188v11M393.5 189.6l7.8 7.8M393.5 197.4l7.8-7.8M392.6 193.4h11M398.1 187.9v11M394.2 189.5l7.8 7.8M394.2 197.3l7.8-7.8M393.3 193.3h11M398.8 187.8v11M394.9 189.4l7.8 7.8M394.9 197.2l7.8-7.8M394 193.1h11M399.5 187.6v11M395.6 189.2l7.8 7.8M395.6 197l7.8-7.8M394.6 193h11M400.1 187.5v11M396.2 189.1l7.8 7.8M396.2 196.9l7.8-7.8M395.3 192.9h11M400.8 187.4v11M396.9 189l7.8 7.8M396.9 196.8l7.8-7.8M396 192.7h11M401.5 187.2v11M397.6 188.8l7.8 7.8M397.6 196.6l7.8-7.8M396.7 192.6h11M402.2 187.1v11M398.3 188.7l7.8 7.8M398.3 196.5l7.8-7.8M397.3 192.5h11M402.8 187v11M398.9 188.6l7.8 7.8M398.9 196.4l7.8-7.8M398 192.3h11M403.5 186.8v11M399.6 188.4l7.8 7.8M399.6 196.2l7.8-7.8M398.6 192.2h11M404.1 186.7v11M400.2 188.3l7.8 7.8M400.2 196.1l7.8-7.8M399.3 192.1h11M404.8 186.6v11M400.9 188.2l7.8 7.8M400.9 196l7.8-7.8M400 192h11M405.5 186.5v11M401.6 188.1l7.8 7.8M401.6 195.9l7.8-7.8M400.6 191.7h11M406.1 186.2v11M402.2 187.8l7.8 7.8M402.2 195.6l7.8-7.8M401.2 191.7h11M406.7 186.2v11M402.8 187.8l7.8 7.8M402.8 195.6l7.8-7.8M401.9 191.5h11M407.4 186v11M403.5 187.6l7.8 7.8M403.5 195.4l7.8-7.8M402.5 191.3h11M408 185.8v11M404.1 187.4l7.8 7.8M404.1 195.2l7.8-7.8M403.2 191.1h11M408.7 185.6v11M404.8 187.2l7.8 7.8M404.8 195l7.8-7.8M403.8 191h11M409.3 185.5v11M405.4 187.1l7.8 7.8M405.4 194.9l7.8-7.8M404.4 190.8h11M409.9 185.3v11M406 186.9l7.8 7.8M406 194.7l7.8-7.8M405 190.6h11M410.5 185.1v11M406.6 186.7l7.8 7.8M406.6 194.5l7.8-7.8M405.7 190.5h11M411.2 185v11M407.3 186.6l7.8 7.8M407.3 194.4l7.8-7.8M406.3 190.3h11M411.8 184.8v11M407.9 186.4l7.8 7.8M407.9 194.2l7.8-7.8M406.9 190.1h11M412.4 184.6v11M408.5 186.2l7.8 7.8M408.5 194l7.8-7.8M407.5 190h11M413 184.5v11M409.1 186.1l7.8 7.8M409.1 193.9l7.8-7.8M408.1 189.8h11M413.6 184.3v11M409.7 185.9l7.8 7.8M409.7 193.7l7.8-7.8M408.7 189.6h11M414.2 184.1v11M410.3 185.7l7.8 7.8M410.3 193.5l7.8-7.8M409.3 189.3h11M414.8 183.8v11M410.9 185.4l7.8 7.8M410.9 193.2l7.8-7.8M409.9 189.2h11M415.4 183.7v11M411.5 185.3l7.8 7.8M411.5 193.1l7.8-7.8M410.5 189h11M416 183.5v11M412.1 185.1l7.8 7.8M412.1 192.9l7.8-7.8M411.1 188.8h11M416.6 183.3v11M412.7 184.9l7.8 7.8M412.7 192.7l7.8-7.8M411.7 188.5h11M417.2 183v11M413.3 184.6l7.8 7.8M413.3 192.4l7.8-7.8M412.3 188.3h11M417.8 182.8v11M413.9 184.4l7.8 7.8M413.9 192.2l7.8-7.8M412.9 188.1h11M418.4 182.6v11M414.5 184.2l7.8 7.8M414.5 192l7.8-7.8M413.4 187.9h11M418.9 182.4v11M415 184l7.8 7.8M415 191.8l7.8-7.8M414 187.7h11M419.5 182.2v11M415.6 183.8l7.8 7.8M415.6 191.6l7.8-7.8M414.6 187.5h11M420.1 182v11M416.2 183.6l7.8 7.8M416.2 191.4l7.8-7.8M415.2 187.3h11M420.7 181.8v11M416.8 183.4l7.8 7.8M416.8 191.2l7.8-7.8M415.7 187h11M421.2 181.5v11M417.3 183.1l7.8 7.8M417.3 190.9l7.8-7.8M416.3 186.9h11M421.8 181.4v11M417.9 183l7.8 7.8M417.9 190.8l7.8-7.8M416.9 186.6h11M422.4 181.1v11M418.5 182.7l7.8 7.8M418.5 190.5l7.8-7.8M417.4 186.4h11M422.9 180.9v11M419 182.5l7.8 7.8M419 190.3l7.8-7.8M418 186.2h11M423.5 180.7v11M419.6 182.3l7.8 7.8M419.6 190.1l7.8-7.8M418.5 185.9h11M424 180.4v11M420.1 182l7.8 7.8M420.1 189.8l7.8-7.8M419.1 185.8h11M424.6 180.3v11M420.7 181.9l7.8 7.8M420.7 189.7l7.8-7.8M419.6 185.5h11M425.1 180v11M421.2 181.6l7.8 7.8M421.2 189.4l7.8-7.8M420.2 185.3h11M425.7 179.8v11M421.8 181.4l7.8 7.8M421.8 189.2l7.8-7.8M420.7 185.1h11M426.2 179.6v11M422.3 181.2l7.8 7.8M422.3 189l7.8-7.8M421.3 184.9h11M426.8 179.4v11M422.9 181l7.8 7.8M422.9 188.8l7.8-7.8M421.8 184.6h11M427.3 179.1v11M423.4 180.7l7.8 7.8M423.4 188.5l7.8-7.8M422.4 184.3h11M427.9 178.8v11M424 180.4l7.8 7.8M424 188.2l7.8-7.8M422.9 184.1h11M428.4 178.6v11M424.5 180.2l7.8 7.8M424.5 188l7.8-7.8M423.4 183.9h11M428.9 178.4v11M425 180l7.8 7.8M425 187.8l7.8-7.8M424 183.7h11M429.5 178.2v11M425.6 179.8l7.8 7.8M425.6 187.6l7.8-7.8M424.5 183.5h11M430 178v11M426.1 179.6l7.8 7.8M426.1 187.4l7.8-7.8M425 183.3h11M430.5 177.8v11M426.6 179.4l7.8 7.8M426.6 187.2l7.8-7.8M425.5 183.1h11M431 177.6v11M427.1 179.2l7.8 7.8M427.1 187l7.8-7.8M426.1 182.9h11M431.6 177.4v11M427.7 179l7.8 7.8M427.7 186.8l7.8-7.8M426.6 182.6h11M432.1 177.1v11M428.2 178.7l7.8 7.8M428.2 186.5l7.8-7.8M427.1 182.4h11M432.6 176.9v11M428.7 178.5l7.8 7.8M428.7 186.3l7.8-7.8M427.6 182.2h11M433.1 176.7v11M429.2 178.3l7.8 7.8M429.2 186.1l7.8-7.8M428.1 182h11M433.6 176.5v11M429.7 178.1l7.8 7.8M429.7 185.9l7.8-7.8M428.6 181.8h11M434.1 176.3v11M430.2 177.9l7.8 7.8M430.2 185.7l7.8-7.8M429.1 181.6h11M434.6 176.1v11M430.7 177.7l7.8 7.8M430.7 185.5l7.8-7.8M429.6 181.4h11M435.1 175.9v11M431.2 177.5l7.8 7.8M431.2 185.3l7.8-7.8M430.1 181.2h11M435.6 175.7v11M431.7 177.3l7.8 7.8M431.7 185.1l7.8-7.8M430.6 180.9h11M436.1 175.4v11M432.2 177l7.8 7.8M432.2 184.8l7.8-7.8M431.1 180.7h11M436.6 175.2v11M432.7 176.8l7.8 7.8M432.7 184.6l7.8-7.8M431.6 180.5h11M437.1 175v11M433.2 176.6l7.8 7.8M433.2 184.4l7.8-7.8M432.1 180.4h11M437.6 174.9v11M433.7 176.5l7.8 7.8M433.7 184.3l7.8-7.8M432.6 180.1h11M438.1 174.6v11M434.2 176.2l7.8 7.8M434.2 184l7.8-7.8M433.1 179.9h11M438.6 174.4v11M434.7 176l7.8 7.8M434.7 183.8l7.8-7.8M433.6 179.7h11M439.1 174.2v11M435.2 175.8l7.8 7.8M435.2 183.6l7.8-7.8M434.1 179.5h11M439.6 174v11M435.7 175.6l7.8 7.8M435.7 183.4l7.8-7.8M434.6 179.4h11M440.1 173.9v11M436.2 175.5l7.8 7.8M436.2 183.3l7.8-7.8M435.1 179.2h11M440.6 173.7v11M436.7 175.3l7.8 7.8M436.7 183.1l7.8-7.8M435.5 179h11M441 173.5v11M437.1 175.1l7.8 7.8M437.1 182.9l7.8-7.8M436 178.8h11M441.5 173.3v11M437.6 174.9l7.8 7.8M437.6 182.7l7.8-7.8M436.5 178.6h11M442 173.1v11M438.1 174.7l7.8 7.8M438.1 182.5l7.8-7.8M437 178.4h11M442.5 172.9v11M438.6 174.5l7.8 7.8M438.6 182.3l7.8-7.8M437.5 178.2h11M443 172.7v11M439.1 174.3l7.8 7.8M439.1 182.1l7.8-7.8M437.9 178h11M443.4 172.5v11M439.5 174.1l7.8 7.8M439.5 181.9l7.8-7.8M438.4 177.8h11M443.9 172.3v11M440 173.9l7.8 7.8M440 181.7l7.8-7.8M438.9 177.6h11M444.4 172.1v11M440.5 173.7l7.8 7.8M440.5 181.5l7.8-7.8M439.3 177.4h11M444.8 171.9v11M440.9 173.5l7.8 7.8M440.9 181.3l7.8-7.8M439.8 177.2h11M445.3 171.7v11M441.4 173.3l7.8 7.8M441.4 181.1l7.8-7.8M440.3 177h11M445.8 171.5v11M441.9 173.1l7.8 7.8M441.9 180.9l7.8-7.8M440.7 176.8h11M446.2 171.3v11M442.3 172.9l7.8 7.8M442.3 180.7l7.8-7.8M441.2 176.6h11M446.7 171.1v11M442.8 172.7l7.8 7.8M442.8 180.5l7.8-7.8M441.6 176.4h11M447.1 170.9v11M443.2 172.5l7.8 7.8M443.2 180.3l7.8-7.8M442.1 176.2h11M447.6 170.7v11M443.7 172.3l7.8 7.8M443.7 180.1l7.8-7.8M442.5 176h11M448 170.5v11M444.1 172.1l7.8 7.8M444.1 179.9l7.8-7.8M443 175.8h11M448.5 170.3v11M444.6 171.9l7.8 7.8M444.6 179.7l7.8-7.8M443.4 175.6h11M448.9 170.1v11M445 171.7l7.8 7.8M445 179.5l7.8-7.8M443.9 175.5h11M449.4 170v11M445.5 171.6l7.8 7.8M445.5 179.4l7.8-7.8M444.3 175.3h11M449.8 169.8v11M445.9 171.4l7.8 7.8M445.9 179.2l7.8-7.8M444.8 175.1h11M450.3 169.6v11M446.4 171.2l7.8 7.8M446.4 179l7.8-7.8M445.2 174.9h11M450.7 169.4v11M446.8 171l7.8 7.8M446.8 178.8l7.8-7.8M445.7 174.7h11M451.2 169.2v11M447.3 170.8l7.8 7.8M447.3 178.6l7.8-7.8M446.1 174.6h11M451.6 169.1v11M447.7 170.7l7.8 7.8M447.7 178.5l7.8-7.8M446.5 174.4h11M452 168.9v11M448.1 170.5l7.8 7.8M448.1 178.3l7.8-7.8M447 174.2h11M452.5 168.7v11M448.6 170.3l7.8 7.8M448.6 178.1l7.8-7.8M447.4 174.1h11M452.9 168.6v11M449 170.2l7.8 7.8M449 178l7.8-7.8M447.8 173.9h11M453.3 168.4v11M449.4 170l7.8 7.8M449.4 177.8l7.8-7.8M448.3 173.7h11M453.8 168.2v11M449.9 169.8l7.8 7.8M449.9 177.6l7.8-7.8M448.7 173.6h11M454.2 168.1v11M450.3 169.7l7.8 7.8M450.3 177.5l7.8-7.8M449.1 173.4h11M454.6 167.9v11M450.7 169.5l7.8 7.8M450.7 177.3l7.8-7.8M449.6 173.3h11M455.1 167.8v11M451.2 169.4l7.8 7.8M451.2 177.2l7.8-7.8M450 173.1h11M455.5 167.6v11M451.6 169.2l7.8 7.8M451.6 177l7.8-7.8M450.4 173h11M455.9 167.5v11M452 169.1l7.8 7.8M452 176.9l7.8-7.8M450.8 172.9h11M456.3 167.4v11M452.4 169l7.8 7.8M452.4 176.8l7.8-7.8M451.2 172.7h11M456.7 167.2v11M452.8 168.8l7.8 7.8M452.8 176.6l7.8-7.8M451.7 172.6h11M457.2 167.1v11M453.3 168.7l7.8 7.8M453.3 176.5l7.8-7.8M452.1 172.5h11M457.6 167v11M453.7 168.6l7.8 7.8M453.7 176.4l7.8-7.8M452.5 172.4h11M458 166.9v11M454.1 168.5l7.8 7.8M454.1 176.3l7.8-7.8M452.9 172.3h11M458.4 166.8v11M454.5 168.4l7.8 7.8M454.5 176.2l7.8-7.8M453.3 172.1h11M458.8 166.6v11M454.9 168.2l7.8 7.8M454.9 176l7.8-7.8M453.7 172h11M459.2 166.5v11M455.3 168.1l7.8 7.8M455.3 175.9l7.8-7.8M454.1 171.9h11M459.6 166.4v11M455.7 168l7.8 7.8M455.7 175.8l7.8-7.8M454.6 171.8h11M460.1 166.3v11M456.2 167.9l7.8 7.8M456.2 175.7l7.8-7.8M455 171.7h11M460.5 166.2v11M456.6 167.8l7.8 7.8M456.6 175.6l7.8-7.8M455.4 171.6h11M460.9 166.1v11M457 167.7l7.8 7.8M457 175.5l7.8-7.8M455.8 171.5h11M461.3 166v11M457.4 167.6l7.8 7.8M457.4 175.4l7.8-7.8M456.2 171.4h11M461.7 165.9v11M457.8 167.5l7.8 7.8M457.8 175.3l7.8-7.8M456.6 171.3h11M462.1 165.8v11M458.2 167.4l7.8 7.8M458.2 175.2l7.8-7.8M457 171.2h11M462.5 165.7v11M458.6 167.3l7.8 7.8M458.6 175.1l7.8-7.8M457.8 171h11M463.3 165.5v11M459.4 167.1l7.8 7.8M459.4 174.9l7.8-7.8M458.6 170.8h11M464.1 165.3v11M460.2 166.9l7.8 7.8M460.2 174.7l7.8-7.8M459.4 170.6h11M464.9 165.1v11M461 166.7l7.8 7.8M461 174.5l7.8-7.8M460.1 170.3h11M465.6 164.8v11M461.7 166.4l7.8 7.8M461.7 174.2l7.8-7.8M460.9 170.1h11M466.4 164.6v11M462.5 166.2l7.8 7.8M462.5 174l7.8-7.8M461.7 169.9h11M467.2 164.4v11M463.3 166l7.8 7.8M463.3 173.8l7.8-7.8M462.5 169.6h11M468 164.1v11M464.1 165.7l7.8 7.8M464.1 173.5l7.8-7.8M463.2 169.4h11M468.7 163.9v11M464.8 165.5l7.8 7.8M464.8 173.3l7.8-7.8M464 169.1h11M469.5 163.6v11M465.6 165.2l7.8 7.8M465.6 173l7.8-7.8M464.7 168.8h11M470.2 163.3v11M466.3 164.9l7.8 7.8M466.3 172.7l7.8-7.8M465.5 168.5h11M471 163v11M467.1 164.6l7.8 7.8M467.1 172.4l7.8-7.8M466.2 168.2h11M471.7 162.7v11M467.8 164.3l7.8 7.8M467.8 172.1l7.8-7.8M466.9 167.8h11M472.4 162.3v11M468.5 163.9l7.8 7.8M468.5 171.7l7.8-7.8M467.7 167.4h11M473.2 161.9v11M469.3 163.5l7.8 7.8M469.3 171.3l7.8-7.8M468.4 167.1h11M473.9 161.6v11M470 163.2l7.8 7.8M470 171l7.8-7.8M469.1 166.7h11M474.6 161.2v11M470.7 162.8l7.8 7.8M470.7 170.6l7.8-7.8M469.8 166.2h11M475.3 160.7v11M471.4 162.3l7.8 7.8M471.4 170.1l7.8-7.8M470.6 165.8h11M476.1 160.3v11M472.2 161.9l7.8 7.8M472.2 169.7l7.8-7.8M471.3 165.4h11M476.8 159.9v11M472.9 161.5l7.8 7.8M472.9 169.3l7.8-7.8M472 165h11M477.5 159.5v11M473.6 161.1l7.8 7.8M473.6 168.9l7.8-7.8M472.7 164.6h11M478.2 159.1v11M474.3 160.7l7.8 7.8M474.3 168.5l7.8-7.8M473.4 164.3h11M478.9 158.8v11M475 160.4l7.8 7.8M475 168.2l7.8-7.8M474.1 163.9h11M479.6 158.4v11M475.7 160l7.8 7.8M475.7 167.8l7.8-7.8M474.8 163.5h11M480.3 158v11M476.4 159.6l7.8 7.8M476.4 167.4l7.8-7.8M475.4 163.2h11M480.9 157.7v11M477 159.3l7.8 7.8M477 167.1l7.8-7.8M476.1 162.8h11M481.6 157.3v11M477.7 158.9l7.8 7.8M477.7 166.7l7.8-7.8M476.8 162.5h11M482.3 157v11M478.4 158.6l7.8 7.8M478.4 166.4l7.8-7.8M477.5 162.1h11M483 156.6v11M479.1 158.2l7.8 7.8M479.1 166l7.8-7.8M478.1 161.8h11M483.6 156.3v11M479.7 157.9l7.8 7.8M479.7 165.7l7.8-7.8M478.8 161.4h11M484.3 155.9v11M480.4 157.5l7.8 7.8M480.4 165.3l7.8-7.8M479.5 161.1h11M485 155.6v11M481.1 157.2l7.8 7.8M481.1 165l7.8-7.8M480.1 160.8h11M485.6 155.3v11M481.7 156.9l7.8 7.8M481.7 164.7l7.8-7.8M480.8 160.4h11M486.3 154.9v11M482.4 156.5l7.8 7.8M482.4 164.3l7.8-7.8M481.4 160.1h11M486.9 154.6v11M483 156.2l7.8 7.8M483 164l7.8-7.8M482.1 159.8h11M487.6 154.3v11M483.7 155.9l7.8 7.8M483.7 163.7l7.8-7.8M482.7 159.4h11M488.2 153.9v11M484.3 155.5l7.8 7.8M484.3 163.3l7.8-7.8M483.4 159.1h11M488.9 153.6v11M485 155.2l7.8 7.8M485 163l7.8-7.8M484 158.8h11M489.5 153.3v11M485.6 154.9l7.8 7.8M485.6 162.7l7.8-7.8M484.6 158.4h11M490.1 152.9v11M486.2 154.5l7.8 7.8M486.2 162.3l7.8-7.8M485.3 158.1h11M490.8 152.6v11M486.9 154.2l7.8 7.8M486.9 162l7.8-7.8M485.9 157.8h11M491.4 152.3v11M487.5 153.9l7.8 7.8M487.5 161.7l7.8-7.8M486.5 157.4h11M492 151.9v11M488.1 153.5l7.8 7.8M488.1 161.3l7.8-7.8M487.1 157.1h11M492.6 151.6v11M488.7 153.2l7.8 7.8M488.7 161l7.8-7.8M487.8 156.7h11M493.3 151.2v11M489.4 152.8l7.8 7.8M489.4 160.6l7.8-7.8M488.4 156.4h11M493.9 150.9v11M490 152.5l7.8 7.8M490 160.3l7.8-7.8M489 156.1h11M494.5 150.6v11M490.6 152.2l7.8 7.8M490.6 160l7.8-7.8M489.6 155.7h11M495.1 150.2v11M491.2 151.8l7.8 7.8M491.2 159.6l7.8-7.8M490.2 155.4h11M495.7 149.9v11M491.8 151.5l7.8 7.8M491.8 159.3l7.8-7.8M490.8 155.1h11M496.3 149.6v11M492.4 151.2l7.8 7.8M492.4 159l7.8-7.8M491.4 154.7h11M496.9 149.2v11M493 150.8l7.8 7.8M493 158.6l7.8-7.8M492 154.4h11M497.5 148.9v11M493.6 150.5l7.8 7.8M493.6 158.3l7.8-7.8M492.6 154.1h11M498.1 148.6v11M494.2 150.2l7.8 7.8M494.2 158l7.8-7.8M493.2 153.7h11M498.7 148.2v11M494.8 149.8l7.8 7.8M494.8 157.6l7.8-7.8M493.8 153.4h11M499.3 147.9v11M495.4 149.5l7.8 7.8M495.4 157.3l7.8-7.8M494.3 153.1h11M499.8 147.6v11M495.9 149.2l7.8 7.8M495.9 157l7.8-7.8M494.9 152.8h11M500.4 147.3v11M496.5 148.9l7.8 7.8M496.5 156.7l7.8-7.8M495.5 152.4h11M501 146.9v11M497.1 148.5l7.8 7.8M497.1 156.3l7.8-7.8M496.1 152.1h11M501.6 146.6v11M497.7 148.2l7.8 7.8M497.7 156l7.8-7.8M496.7 151.7h11M502.2 146.2v11M498.3 147.8l7.8 7.8M498.3 155.6l7.8-7.8M497.2 151.4h11M502.7 145.9v11M498.8 147.5l7.8 7.8M498.8 155.3l7.8-7.8M497.8 151.1h11M503.3 145.6v11M499.4 147.2l7.8 7.8M499.4 155l7.8-7.8M498.4 150.7h11M503.9 145.2v11M500 146.8l7.8 7.8M500 154.6l7.8-7.8M498.9 150.4h11M504.4 144.9v11M500.5 146.5l7.8 7.8M500.5 154.3l7.8-7.8M499.5 150.1h11M505 144.6v11M501.1 146.2l7.8 7.8M501.1 154l7.8-7.8M500 149.7h11M505.5 144.2v11M501.6 145.8l7.8 7.8M501.6 153.6l7.8-7.8M500.6 149.4h11M506.1 143.9v11M502.2 145.5l7.8 7.8M502.2 153.3l7.8-7.8M501.1 149.1h11M506.6 143.6v11M502.7 145.2l7.8 7.8M502.7 153l7.8-7.8M501.7 148.7h11M507.2 143.2v11M503.3 144.8l7.8 7.8M503.3 152.6l7.8-7.8M502.2 148.4h11M507.7 142.9v11M503.8 144.5l7.8 7.8M503.8 152.3l7.8-7.8M502.8 148.1h11M508.3 142.6v11M504.4 144.2l7.8 7.8M504.4 152l7.8-7.8M503.3 147.8h11M508.8 142.3v11M504.9 143.9l7.8 7.8M504.9 151.7l7.8-7.8M503.8 147.5h11M509.3 142v11M505.4 143.6l7.8 7.8M505.4 151.4l7.8-7.8M504.4 147.2h11M509.9 141.7v11M506 143.3l7.8 7.8M506 151.1l7.8-7.8M504.9 146.8h11M510.4 141.3v11M506.5 142.9l7.8 7.8M506.5 150.7l7.8-7.8M505.4 146.5h11M510.9 141v11M507 142.6l7.8 7.8M507 150.4l7.8-7.8M506 146.2h11M511.5 140.7v11M507.6 142.3l7.8 7.8M507.6 150.1l7.8-7.8M506.5 145.9h11M512 140.4v11M508.1 142l7.8 7.8M508.1 149.8l7.8-7.8M507 145.6h11M512.5 140.1v11M508.6 141.7l7.8 7.8M508.6 149.5l7.8-7.8M507.5 145.3h11M513 139.8v11M509.1 141.4l7.8 7.8M509.1 149.2l7.8-7.8M508.1 145h11M513.6 139.5v11M509.7 141.1l7.8 7.8M509.7 148.9l7.8-7.8M508.6 144.7h11M514.1 139.2v11M510.2 140.8l7.8 7.8M510.2 148.6l7.8-7.8M509.1 144.5h11M514.6 139v11M510.7 140.6l7.8 7.8M510.7 148.4l7.8-7.8M509.6 144.2h11M515.1 138.7v11M511.2 140.3l7.8 7.8M511.2 148.1l7.8-7.8M510.1 143.9h11M515.6 138.4v11M511.7 140l7.8 7.8M511.7 147.8l7.8-7.8M510.6 143.6h11M516.1 138.1v11M512.2 139.7l7.8 7.8M512.2 147.5l7.8-7.8M511.1 143.3h11M516.6 137.8v11M512.7 139.4l7.8 7.8M512.7 147.2l7.8-7.8M511.6 143h11M517.1 137.5v11M513.2 139.1l7.8 7.8M513.2 146.9l7.8-7.8M512.1 142.8h11M517.6 137.3v11M513.7 138.9l7.8 7.8M513.7 146.7l7.8-7.8M512.6 142.5h11M518.1 137v11M514.2 138.6l7.8 7.8M514.2 146.4l7.8-7.8M513.1 142.2h11M518.6 136.7v11M514.7 138.3l7.8 7.8M514.7 146.1l7.8-7.8M513.6 142h11M519.1 136.5v11M515.2 138.1l7.8 7.8M515.2 145.9l7.8-7.8M514.1 141.7h11M519.6 136.2v11M515.7 137.8l7.8 7.8M515.7 145.6l7.8-7.8M514.6 141.4h11M520.1 135.9v11M516.2 137.5l7.8 7.8M516.2 145.3l7.8-7.8M515.1 141.2h11M520.6 135.7v11M516.7 137.3l7.8 7.8M516.7 145.1l7.8-7.8M515.6 140.9h11M521.1 135.4v11M517.2 137l7.8 7.8M517.2 144.8l7.8-7.8M516.1 140.7h11M521.6 135.2v11M517.7 136.8l7.8 7.8M517.7 144.6l7.8-7.8M516.6 140.4h11M522.1 134.9v11M518.2 136.5l7.8 7.8M518.2 144.3l7.8-7.8M517 140.2h11M522.5 134.7v11M518.6 136.3l7.8 7.8M518.6 144.1l7.8-7.8M517.5 140h11M523 134.5v11M519.1 136.1l7.8 7.8M519.1 143.9l7.8-7.8M518 139.7h11M523.5 134.2v11M519.6 135.8l7.8 7.8M519.6 143.6l7.8-7.8M518.5 139.5h11M524 134v11M520.1 135.6l7.8 7.8M520.1 143.4l7.8-7.8M518.9 139.3h11M524.4 133.8v11M520.5 135.4l7.8 7.8M520.5 143.2l7.8-7.8M519.4 139h11M524.9 133.5v11M521 135.1l7.8 7.8M521 142.9l7.8-7.8M519.9 138.8h11M525.4 133.3v11M521.5 134.9l7.8 7.8M521.5 142.7l7.8-7.8M520.3 138.6h11M525.8 133.1v11M521.9 134.7l7.8 7.8M521.9 142.5l7.8-7.8M520.8 138.4h11M526.3 132.9v11M522.4 134.5l7.8 7.8M522.4 142.3l7.8-7.8M521.3 138.1h11M526.8 132.6v11M522.9 134.2l7.8 7.8M522.9 142l7.8-7.8M521.7 137.9h11M527.2 132.4v11M523.3 134l7.8 7.8M523.3 141.8l7.8-7.8M522.2 137.7h11M527.7 132.2v11M523.8 133.8l7.8 7.8M523.8 141.6l7.8-7.8M522.7 137.5h11M528.2 132v11M524.3 133.6l7.8 7.8M524.3 141.4l7.8-7.8M523.1 137.3h11M528.6 131.8v11M524.7 133.4l7.8 7.8M524.7 141.2l7.8-7.8M523.6 137h11M529.1 131.5v11M525.2 133.1l7.8 7.8M525.2 140.9l7.8-7.8M524 136.8h11M529.5 131.3v11M525.6 132.9l7.8 7.8M525.6 140.7l7.8-7.8M524.5 136.6h11M530 131.1v11M526.1 132.7l7.8 7.8M526.1 140.5l7.8-7.8M524.9 136.4h11M530.4 130.9v11M526.5 132.5l7.8 7.8M526.5 140.3l7.8-7.8M525.4 136.2h11M530.9 130.7v11M527 132.3l7.8 7.8M527 140.1l7.8-7.8M525.8 136h11M531.3 130.5v11M527.4 132.1l7.8 7.8M527.4 139.9l7.8-7.8M526.3 135.7h11M531.8 130.2v11M527.9 131.8l7.8 7.8M527.9 139.6l7.8-7.8M526.7 135.5h11M532.2 130v11M528.3 131.6l7.8 7.8M528.3 139.4l7.8-7.8M527.1 135.3h11M532.6 129.8v11M528.7 131.4l7.8 7.8M528.7 139.2l7.8-7.8M527.6 135.1h11M533.1 129.6v11M529.2 131.2l7.8 7.8M529.2 139l7.8-7.8M528 134.9h11M533.5 129.4v11M529.6 131l7.8 7.8M529.6 138.8l7.8-7.8M528.5 134.7h11M534 129.2v11M530.1 130.8l7.8 7.8M530.1 138.6l7.8-7.8M528.9 134.5h11M534.4 129v11M530.5 130.6l7.8 7.8M530.5 138.4l7.8-7.8M529.3 134.3h11M534.8 128.8v11M530.9 130.4l7.8 7.8M530.9 138.2l7.8-7.8M529.8 134.1h11M535.3 128.6v11M531.4 130.2l7.8 7.8M531.4 138l7.8-7.8M530.2 133.8h11M535.7 128.3v11M531.8 129.9l7.8 7.8M531.8 137.7l7.8-7.8M530.6 133.6h11M536.1 128.1v11M532.2 129.7l7.8 7.8M532.2 137.5l7.8-7.8M531 133.4h11M536.5 127.9v11M532.6 129.5l7.8 7.8M532.6 137.3l7.8-7.8M531.5 133.2h11M537 127.7v11M533.1 129.3l7.8 7.8M533.1 137.1l7.8-7.8M531.9 133h11M537.4 127.5v11M533.5 129.1l7.8 7.8M533.5 136.9l7.8-7.8M532.3 132.8h11M537.8 127.3v11M533.9 128.9l7.8 7.8M533.9 136.7l7.8-7.8M532.7 132.6h11M538.2 127.1v11M534.3 128.7l7.8 7.8M534.3 136.5l7.8-7.8M533.2 132.4h11M538.7 126.9v11M534.8 128.5l7.8 7.8M534.8 136.3l7.8-7.8M533.6 132.2h11M539.1 126.7v11M535.2 128.3l7.8 7.8M535.2 136.1l7.8-7.8M534 132h11M539.5 126.5v11M535.6 128.1l7.8 7.8M535.6 135.9l7.8-7.8M534.4 131.8h11M539.9 126.3v11M536 127.9l7.8 7.8M536 135.7l7.8-7.8M534.8 131.6h11M540.3 126.1v11M536.4 127.7l7.8 7.8M536.4 135.5l7.8-7.8M535.2 131.4h11M540.7 125.9v11M536.8 127.5l7.8 7.8M536.8 135.3l7.8-7.8M535.6 131.2h11M541.1 125.7v11M537.2 127.3l7.8 7.8M537.2 135.1l7.8-7.8M536 131h11M541.5 125.5v11M537.6 127.1l7.8 7.8M537.6 134.9l7.8-7.8M536.5 130.8h11M542 125.3v11M538.1 126.9l7.8 7.8M538.1 134.7l7.8-7.8M536.9 130.6h11M542.4 125.1v11M538.5 126.7l7.8 7.8M538.5 134.5l7.8-7.8M537.3 130.4h11M542.8 124.9v11M538.9 126.5l7.8 7.8M538.9 134.3l7.8-7.8M537.7 130.2h11M543.2 124.7v11M539.3 126.3l7.8 7.8M539.3 134.1l7.8-7.8M538.1 130h11M543.6 124.5v11M539.7 126.1l7.8 7.8M539.7 133.9l7.8-7.8M538.5 129.8h11M544 124.3v11M540.1 125.9l7.8 7.8M540.1 133.7l7.8-7.8M539.1 129.5h11M544.6 124v11M540.7 125.6l7.8 7.8M540.7 133.4l7.8-7.8M539.7 129.2h11M545.2 123.7v11M541.3 125.3l7.8 7.8M541.3 133.1l7.8-7.8M540.3 128.9h11M545.8 123.4v11M541.9 125l7.8 7.8M541.9 132.8l7.8-7.8M540.8 128.6h11M546.3 123.1v11M542.4 124.7l7.8 7.8M542.4 132.5l7.8-7.8M541.4 128.3h11M546.9 122.8v11M543 124.4l7.8 7.8M543 132.2l7.8-7.8M542 128h11M547.5 122.5v11M543.6 124.1l7.8 7.8M543.6 131.9l7.8-7.8M542.6 127.7h11M548.1 122.2v11M544.2 123.8l7.8 7.8M544.2 131.6l7.8-7.8M543.2 127.4h11M548.7 121.9v11M544.8 123.5l7.8 7.8M544.8 131.3l7.8-7.8M543.7 127.1h11M549.2 121.6v11M545.3 123.2l7.8 7.8M545.3 131l7.8-7.8M544.3 126.8h11M549.8 121.3v11M545.9 122.9l7.8 7.8M545.9 130.7l7.8-7.8M544.9 126.6h11M550.4 121.1v11M546.5 122.7l7.8 7.8M546.5 130.5l7.8-7.8M545.5 126.3h11M551 120.8v11M547.1 122.4l7.8 7.8M547.1 130.2l7.8-7.8M546 126h11M551.5 120.5v11M547.6 122.1l7.8 7.8M547.6 129.9l7.8-7.8M546.6 125.7h11M552.1 120.2v11M548.2 121.8l7.8 7.8M548.2 129.6l7.8-7.8M547.1 125.4h11M552.6 119.9v11M548.7 121.5l7.8 7.8M548.7 129.3l7.8-7.8M547.7 125.1h11M553.2 119.6v11M549.3 121.2l7.8 7.8M549.3 129l7.8-7.8M548.2 124.9h11M553.7 119.4v11M549.8 121l7.8 7.8M549.8 128.8l7.8-7.8M548.8 124.6h11M554.3 119.1v11M550.4 120.7l7.8 7.8M550.4 128.5l7.8-7.8M549.3 124.3h11M554.8 118.8v11M550.9 120.4l7.8 7.8M550.9 128.2l7.8-7.8M549.9 124h11M555.4 118.5v11M551.5 120.1l7.8 7.8M551.5 127.9l7.8-7.8M550.4 123.8h11M555.9 118.3v11M552 119.9l7.8 7.8M552 127.7l7.8-7.8M551 123.5h11M556.5 118v11M552.6 119.6l7.8 7.8M552.6 127.4l7.8-7.8M551.5 123.2h11M557 117.7v11M553.1 119.3l7.8 7.8M553.1 127.1l7.8-7.8M552.1 122.9h11M557.6 117.4v11M553.7 119l7.8 7.8M553.7 126.8l7.8-7.8M552.6 122.7h11M558.1 117.2v11M554.2 118.8l7.8 7.8M554.2 126.6l7.8-7.8M553.1 122.4h11M558.6 116.9v11M554.7 118.5l7.8 7.8M554.7 126.3l7.8-7.8M553.6 122.1h11M559.1 116.6v11M555.2 118.2l7.8 7.8M555.2 126l7.8-7.8M554.2 121.9h11M559.7 116.4v11M555.8 118l7.8 7.8M555.8 125.8l7.8-7.8M554.7 121.6h11M560.2 116.1v11M556.3 117.7l7.8 7.8M556.3 125.5l7.8-7.8M555.2 121.4h11M560.7 115.9v11M556.8 117.5l7.8 7.8M556.8 125.3l7.8-7.8M555.7 121.1h11M561.2 115.6v11M557.3 117.2l7.8 7.8M557.3 125l7.8-7.8M556.2 120.9h11M561.7 115.4v11M557.8 117l7.8 7.8M557.8 124.8l7.8-7.8M556.8 120.6h11M562.3 115.1v11M558.4 116.7l7.8 7.8M558.4 124.5l7.8-7.8M557.3 120.4h11M562.8 114.9v11M558.9 116.5l7.8 7.8M558.9 124.3l7.8-7.8M557.8 120.1h11M563.3 114.6v11M559.4 116.2l7.8 7.8M559.4 124l7.8-7.8M558.3 119.9h11M563.8 114.4v11M559.9 116l7.8 7.8M559.9 123.8l7.8-7.8M558.8 119.6h11M564.3 114.1v11M560.4 115.7l7.8 7.8M560.4 123.5l7.8-7.8M559.3 119.4h11M564.8 113.9v11M560.9 115.5l7.8 7.8M560.9 123.3l7.8-7.8M559.8 119.1h11M565.3 113.6v11M561.4 115.2l7.8 7.8M561.4 123l7.8-7.8M560.3 118.9h11M565.8 113.4v11M561.9 115l7.8 7.8M561.9 122.8l7.8-7.8M560.8 118.7h11M566.3 113.2v11M562.4 114.8l7.8 7.8M562.4 122.6l7.8-7.8M561.3 118.4h11M566.8 112.9v11M562.9 114.5l7.8 7.8M562.9 122.3l7.8-7.8M561.8 118.2h11M567.3 112.7v11M563.4 114.3l7.8 7.8M563.4 122.1l7.8-7.8M562.3 118h11M567.8 112.5v11M563.9 114.1l7.8 7.8M563.9 121.9l7.8-7.8M562.8 117.7h11M568.3 112.2v11M564.4 113.8l7.8 7.8M564.4 121.6l7.8-7.8M563.3 117.5h11M568.8 112v11M564.9 113.6l7.8 7.8M564.9 121.4l7.8-7.8M563.7 117.2h11M569.2 111.7v11M565.3 113.3l7.8 7.8M565.3 121.1l7.8-7.8M564.2 117h11M569.7 111.5v11M565.8 113.1l7.8 7.8M565.8 120.9l7.8-7.8M564.7 116.8h11M570.2 111.3v11M566.3 112.9l7.8 7.8M566.3 120.7l7.8-7.8M565.2 116.5h11M570.7 111v11M566.8 112.6l7.8 7.8M566.8 120.4l7.8-7.8M565.7 116.3h11M571.2 110.8v11M567.3 112.4l7.8 7.8M567.3 120.2l7.8-7.8M566.1 116.1h11M571.6 110.6v11M567.7 112.2l7.8 7.8M567.7 120l7.8-7.8M566.6 115.9h11M572.1 110.4v11M568.2 112l7.8 7.8M568.2 119.8l7.8-7.8M567.1 115.6h11M572.6 110.1v11M568.7 111.7l7.8 7.8M568.7 119.5l7.8-7.8M567.5 115.4h11M573 109.9v11M569.1 111.5l7.8 7.8M569.1 119.3l7.8-7.8M568 115.2h11M573.5 109.7v11M569.6 111.3l7.8 7.8M569.6 119.1l7.8-7.8M568.5 115h11M574 109.5v11M570.1 111.1l7.8 7.8M570.1 118.9l7.8-7.8M568.9 114.7h11M574.4 109.2v11M570.5 110.8l7.8 7.8M570.5 118.6l7.8-7.8M569.4 114.5h11M574.9 109v11M571 110.6l7.8 7.8M571 118.4l7.8-7.8M569.9 114.3h11M575.4 108.8v11M571.5 110.4l7.8 7.8M571.5 118.2l7.8-7.8M570.3 114.1h11M575.8 108.6v11M571.9 110.2l7.8 7.8M571.9 118l7.8-7.8M570.8 113.9h11M576.3 108.4v11M572.4 110l7.8 7.8M572.4 117.8l7.8-7.8M571.2 113.6h11M576.7 108.1v11M572.8 109.7l7.8 7.8M572.8 117.5l7.8-7.8M571.7 113.4h11M577.2 107.9v11M573.3 109.5l7.8 7.8M573.3 117.3l7.8-7.8M572.1 113.2h11M577.6 107.7v11M573.7 109.3l7.8 7.8M573.7 117.1l7.8-7.8M572.6 113h11M578.1 107.5v11M574.2 109.1l7.8 7.8M574.2 116.9l7.8-7.8M573 112.8h11M578.5 107.3v11M574.6 108.9l7.8 7.8M574.6 116.7l7.8-7.8M573.5 112.5h11M579 107v11M575.1 108.6l7.8 7.8M575.1 116.4l7.8-7.8M573.9 112.3h11M579.4 106.8v11M575.5 108.4l7.8 7.8M575.5 116.2l7.8-7.8M574.4 112.1h11M579.9 106.6v11M576 108.2l7.8 7.8M576 116l7.8-7.8M574.8 111.9h11M580.3 106.4v11M576.4 108l7.8 7.8M576.4 115.8l7.8-7.8M575.3 111.6h11M580.8 106.1v11M576.9 107.7l7.8 7.8M576.9 115.5l7.8-7.8M575.7 111.4h11M581.2 105.9v11M577.3 107.5l7.8 7.8M577.3 115.3l7.8-7.8M576.1 111.2h11M581.6 105.7v11M577.7 107.3l7.8 7.8M577.7 115.1l7.8-7.8M576.6 111h11M582.1 105.5v11M578.2 107.1l7.8 7.8M578.2 114.9l7.8-7.8M577 110.8h11M582.5 105.3v11M578.6 106.9l7.8 7.8M578.6 114.7l7.8-7.8M577.4 110.5h11M582.9 105v11M579 106.6l7.8 7.8M579 114.4l7.8-7.8M577.9 110.3h11M583.4 104.8v11M579.5 106.4l7.8 7.8M579.5 114.2l7.8-7.8M578.3 110.1h11M583.8 104.6v11M579.9 106.2l7.8 7.8M579.9 114l7.8-7.8M578.7 109.9h11M584.2 104.4v11M580.3 106l7.8 7.8M580.3 113.8l7.8-7.8M579.1 109.7h11M584.6 104.2v11M580.7 105.8l7.8 7.8M580.7 113.6l7.8-7.8M579.6 109.4h11M585.1 103.9v11M581.2 105.5l7.8 7.8M581.2 113.3l7.8-7.8M580 109.2h11M585.5 103.7v11M581.6 105.3l7.8 7.8M581.6 113.1l7.8-7.8M580.4 109h11M585.9 103.5v11M582 105.1l7.8 7.8M582 112.9l7.8-7.8M580.8 108.8h11M586.3 103.3v11M582.4 104.9l7.8 7.8M582.4 112.7l7.8-7.8M581.2 108.6h11M586.7 103.1v11M582.8 104.7l7.8 7.8M582.8 112.5l7.8-7.8M581.7 108.3h11M587.2 102.8v11M583.3 104.4l7.8 7.8M583.3 112.2l7.8-7.8M582.1 108.1h11M587.6 102.6v11M583.7 104.2l7.8 7.8M583.7 112l7.8-7.8M582.5 107.9h11M588 102.4v11M584.1 104l7.8 7.8M584.1 111.8l7.8-7.8M582.9 107.7h11M588.4 102.2v11M584.5 103.8l7.8 7.8M584.5 111.6l7.8-7.8M583.3 107.5h11M588.8 102v11M584.9 103.6l7.8 7.8M584.9 111.4l7.8-7.8M583.7 107.2h11M589.2 101.7v11M585.3 103.3l7.8 7.8M585.3 111.1l7.8-7.8M584.1 107h11M589.6 101.5v11M585.7 103.1l7.8 7.8M585.7 110.9l7.8-7.8M584.5 106.8h11M590 101.3v11M586.1 102.9l7.8 7.8M586.1 110.7l7.8-7.8M584.9 106.6h11M590.4 101.1v11M586.5 102.7l7.8 7.8M586.5 110.5l7.8-7.8M585.3 106.4h11M590.8 100.9v11M586.9 102.5l7.8 7.8M586.9 110.3l7.8-7.8M585.7 106.1h11M591.2 100.6v11M587.3 102.2l7.8 7.8M587.3 110l7.8-7.8M586.1 105.9h11M591.6 100.4v11M587.7 102l7.8 7.8M587.7 109.8l7.8-7.8M586.7 105.6h11M592.2 100.1v11M588.3 101.7l7.8 7.8M588.3 109.5l7.8-7.8M587.2 105.3h11M592.7 99.8v11M588.8 101.4l7.8 7.8M588.8 109.2l7.8-7.8M587.7 105h11M593.2 99.5v11M589.3 101.1l7.8 7.8M589.3 108.9l7.8-7.8M588.3 104.8h11M593.8 99.3v11M589.9 100.9l7.8 7.8M589.9 108.7l7.8-7.8M588.8 104.5h11M594.3 99v11M590.4 100.6l7.8 7.8M590.4 108.4l7.8-7.8M589.3 104.2h11M594.8 98.7v11M590.9 100.3l7.8 7.8M590.9 108.1l7.8-7.8M589.8 103.9h11M595.3 98.4v11M591.4 100l7.8 7.8M591.4 107.8l7.8-7.8M590.3 103.6h11M595.8 98.1v11M591.9 99.7l7.8 7.8M591.9 107.5l7.8-7.8M590.8 103.3h11M596.3 97.8v11M592.4 99.4l7.8 7.8M592.4 107.2l7.8-7.8M591.4 103h11M596.9 97.5v11M593 99.1l7.8 7.8M593 106.9l7.8-7.8M591.9 102.7h11M597.4 97.2v11M593.5 98.8l7.8 7.8M593.5 106.6l7.8-7.8M592.4 102.4h11M597.9 96.9v11M594 98.5l7.8 7.8M594 106.3l7.8-7.8M592.9 102.1h11M598.4 96.6v11M594.5 98.2l7.8 7.8M594.5 106l7.8-7.8M593.4 101.9h11M598.9 96.4v11M595 98l7.8 7.8M595 105.8l7.8-7.8M593.9 101.6h11M599.4 96.1v11M595.5 97.7l7.8 7.8M595.5 105.5l7.8-7.8M594.4 101.3h11M599.9 95.8v11M596 97.4l7.8 7.8M596 105.2l7.8-7.8M594.9 101h11M600.4 95.5v11M596.5 97.1l7.8 7.8M596.5 104.9l7.8-7.8M595.4 100.7h11M600.9 95.2v11M597 96.8l7.8 7.8M597 104.6l7.8-7.8M595.9 100.4h11M601.4 94.9v11M597.5 96.5l7.8 7.8M597.5 104.3l7.8-7.8M596.3 100.1h11M601.8 94.6v11M597.9 96.2l7.8 7.8M597.9 104l7.8-7.8M596.8 99.8h11M602.3 94.3v11M598.4 95.9l7.8 7.8M598.4 103.7l7.8-7.8M597.3 99.5h11M602.8 94v11M598.9 95.6l7.8 7.8M598.9 103.4l7.8-7.8M597.8 99.2h11M603.3 93.7v11M599.4 95.3l7.8 7.8M599.4 103.1l7.8-7.8M598.3 98.9h11M603.8 93.4v11M599.9 95l7.8 7.8M599.9 102.8l7.8-7.8M598.8 98.7h11M604.3 93.2v11M600.4 94.8l7.8 7.8M600.4 102.6l7.8-7.8M599.2 98.4h11M604.7 92.9v11M600.8 94.5l7.8 7.8M600.8 102.3l7.8-7.8M599.7 98.1h11M605.2 92.6v11M601.3 94.2l7.8 7.8M601.3 102l7.8-7.8M600.2 97.8h11M605.7 92.3v11M601.8 93.9l7.8 7.8M601.8 101.7l7.8-7.8M600.7 97.5h11M606.2 92v11M602.3 93.6l7.8 7.8M602.3 101.4l7.8-7.8M601.1 97.2h11M606.6 91.7v11M602.7 93.3l7.8 7.8M602.7 101.1l7.8-7.8M601.6 96.9h11M607.1 91.4v11M603.2 93l7.8 7.8M603.2 100.8l7.8-7.8M602.1 96.6h11M607.6 91.1v11M603.7 92.7l7.8 7.8M603.7 100.5l7.8-7.8M602.5 96.4h11M608 90.9v11M604.1 92.5l7.8 7.8M604.1 100.3l7.8-7.8M603 96.1h11M608.5 90.6v11M604.6 92.2l7.8 7.8M604.6 100l7.8-7.8M603.5 95.8h11M609 90.3v11M605.1 91.9l7.8 7.8M605.1 99.7l7.8-7.8M603.9 95.5h11M609.4 90v11M605.5 91.6l7.8 7.8M605.5 99.4l7.8-7.8M604.4 95.2h11M609.9 89.7v11M606 91.3l7.8 7.8M606 99.1l7.8-7.8M604.8 95h11M610.3 89.5v11M606.4 91.1l7.8 7.8M606.4 98.9l7.8-7.8M605.3 94.7h11M610.8 89.2v11M606.9 90.8l7.8 7.8M606.9 98.6l7.8-7.8M605.7 94.4h11M611.2 88.9v11M607.3 90.5l7.8 7.8M607.3 98.3l7.8-7.8M606.2 94.1h11M611.7 88.6v11M607.8 90.2l7.8 7.8M607.8 98l7.8-7.8M606.6 93.9h11M612.1 88.4v11M608.2 90l7.8 7.8M608.2 97.8l7.8-7.8M607.1 93.6h11M612.6 88.1v11M608.7 89.7l7.8 7.8M608.7 97.5l7.8-7.8M607.5 93.3h11M613 87.8v11M609.1 89.4l7.8 7.8M609.1 97.2l7.8-7.8M608 93.1h11M613.5 87.6v11M609.6 89.2l7.8 7.8M609.6 97l7.8-7.8M608.4 92.8h11M613.9 87.3v11M610 88.9l7.8 7.8M610 96.7l7.8-7.8M608.9 92.5h11M614.4 87v11M610.5 88.6l7.8 7.8M610.5 96.4l7.8-7.8M609.3 92.3h11M614.8 86.8v11M610.9 88.4l7.8 7.8M610.9 96.2l7.8-7.8M609.7 92h11M615.2 86.5v11M611.3 88.1l7.8 7.8M611.3 95.9l7.8-7.8M610.2 91.7h11M615.7 86.2v11M611.8 87.8l7.8 7.8M611.8 95.6l7.8-7.8M610.6 91.5h11M616.1 86v11M612.2 87.6l7.8 7.8M612.2 95.4l7.8-7.8M611 91.2h11M616.5 85.7v11M612.6 87.3l7.8 7.8M612.6 95.1l7.8-7.8M611.5 90.9h11M617 85.4v11M613.1 87l7.8 7.8M613.1 94.8l7.8-7.8M611.9 90.7h11M617.4 85.2v11M613.5 86.8l7.8 7.8M613.5 94.6l7.8-7.8M612.3 90.4h11M617.8 84.9v11M613.9 86.5l7.8 7.8M613.9 94.3l7.8-7.8M612.7 90.2h11M618.2 84.7v11M614.3 86.3l7.8 7.8M614.3 94.1l7.8-7.8M613.2 89.9h11M618.7 84.4v11M614.8 86l7.8 7.8M614.8 93.8l7.8-7.8M613.6 89.7h11M619.1 84.2v11M615.2 85.8l7.8 7.8M615.2 93.6l7.8-7.8M614 89.5h11M619.5 84v11M615.6 85.6l7.8 7.8M615.6 93.4l7.8-7.8M614.4 89.2h11M619.9 83.7v11M616 85.3l7.8 7.8M616 93.1l7.8-7.8M614.9 89h11M620.4 83.5v11M616.5 85.1l7.8 7.8M616.5 92.9l7.8-7.8M615.3 88.7h11M620.8 83.2v11M616.9 84.8l7.8 7.8M616.9 92.6l7.8-7.8M615.7 88.5h11M621.2 83v11M617.3 84.6l7.8 7.8M617.3 92.4l7.8-7.8M616.1 88.3h11M621.6 82.8v11M617.7 84.4l7.8 7.8M617.7 92.2l7.8-7.8M616.5 88.1h11M622 82.6v11M618.1 84.2l7.8 7.8M618.1 92l7.8-7.8M616.9 87.8h11M622.4 82.3v11M618.5 83.9l7.8 7.8M618.5 91.7l7.8-7.8M617.3 87.6h11M622.8 82.1v11M618.9 83.7l7.8 7.8M618.9 91.5l7.8-7.8M617.7 87.4h11M623.2 81.9v11M619.3 83.5l7.8 7.8M619.3 91.3l7.8-7.8M618.1 87.2h11M623.6 81.7v11M619.7 83.3l7.8 7.8M619.7 91.1l7.8-7.8M618.6 86.9h11M624.1 81.4v11M620.2 83l7.8 7.8M620.2 90.8l7.8-7.8M619 86.7h11M624.5 81.2v11M620.6 82.8l7.8 7.8M620.6 90.6l7.8-7.8M619.4 86.5h11M624.9 81v11M621 82.6l7.8 7.8M621 90.4l7.8-7.8M619.8 86.3h11M625.3 80.8v11M621.4 82.4l7.8 7.8M621.4 90.2l7.8-7.8M620.3 86h11M625.8 80.5v11M621.9 82.1l7.8 7.8M621.9 89.9l7.8-7.8M620.8 85.8h11M626.3 80.3v11M622.4 81.9l7.8 7.8M622.4 89.7l7.8-7.8M621.3 85.5h11M626.8 80v11M622.9 81.6l7.8 7.8M622.9 89.4l7.8-7.8M621.7 85.2h11M627.2 79.7v11M623.3 81.3l7.8 7.8M623.3 89.1l7.8-7.8M622.2 85h11M627.7 79.5v11M623.8 81.1l7.8 7.8M623.8 88.9l7.8-7.8M622.7 84.7h11M628.2 79.2v11M624.3 80.8l7.8 7.8M624.3 88.6l7.8-7.8M623.2 84.5h11M628.7 79v11M624.8 80.6l7.8 7.8M624.8 88.4l7.8-7.8M623.7 84.2h11M629.2 78.7v11M625.3 80.3l7.8 7.8M625.3 88.1l7.8-7.8M624.2 83.9h11M629.7 78.4v11M625.8 80l7.8 7.8M625.8 87.8l7.8-7.8M624.7 83.7h11M630.2 78.2v11M626.3 79.8l7.8 7.8M626.3 87.6l7.8-7.8M625.1 83.4h11M630.6 77.9v11M626.7 79.5l7.8 7.8M626.7 87.3l7.8-7.8M625.6 83.2h11M631.1 77.7v11M627.2 79.3l7.8 7.8M627.2 87.1l7.8-7.8M626.1 82.9h11M631.6 77.4v11M627.7 79l7.8 7.8M627.7 86.8l7.8-7.8M626.6 82.7h11M632.1 77.2v11M628.2 78.8l7.8 7.8M628.2 86.6l7.8-7.8M627 82.4h11M632.5 76.9v11M628.6 78.5l7.8 7.8M628.6 86.3l7.8-7.8M627.5 82.2h11M633 76.7v11M629.1 78.3l7.8 7.8M629.1 86.1l7.8-7.8M628 81.9h11M633.5 76.4v11M629.6 78l7.8 7.8M629.6 85.8l7.8-7.8M628.4 81.7h11M633.9 76.2v11M630 77.8l7.8 7.8M630 85.6l7.8-7.8M628.9 81.4h11M634.4 75.9v11M630.5 77.5l7.8 7.8M630.5 85.3l7.8-7.8M629.4 81.2h11M634.9 75.7v11M631 77.3l7.8 7.8M631 85.1l7.8-7.8M629.8 80.9h11M635.3 75.4v11M631.4 77l7.8 7.8M631.4 84.8l7.8-7.8M630.3 80.7h11M635.8 75.2v11M631.9 76.8l7.8 7.8M631.9 84.6l7.8-7.8M630.7 80.5h11M636.2 75v11M632.3 76.6l7.8 7.8M632.3 84.4l7.8-7.8M631.2 80.2h11M636.7 74.7v11M632.8 76.3l7.8 7.8M632.8 84.1l7.8-7.8M631.7 80h11M637.2 74.5v11M633.3 76.1l7.8 7.8M633.3 83.9l7.8-7.8M632.1 79.7h11M637.6 74.2v11M633.7 75.8l7.8 7.8M633.7 83.6l7.8-7.8M632.6 79.5h11M638.1 74v11M634.2 75.6l7.8 7.8M634.2 83.4l7.8-7.8"/><path fill="none" stroke="#7e2f8e" stroke-width="1.1" d="M72.3 343.2l7.8 7.8M72.3 351l7.8-7.8M82.5 337.1l7.8 7.8M82.5 344.9l7.8-7.8M91.9 335.7l7.8 7.8M91.9 343.5l7.8-7.8M100.7 329l7.8 7.8M100.7 336.8l7.8-7.8M108.8 328.7l7.8 7.8M108.8 336.5l7.8-7.8M116.4 323.1l7.8 7.8M116.4 330.9l7.8-7.8M123.5 320.1l7.8 7.8M123.5 327.9l7.8-7.8M130.2 315.7l7.8 7.8M130.2 323.5l7.8-7.8M136.6 312.1l7.8 7.8M136.6 319.9l7.8-7.8M142.6 309.4l7.8 7.8M142.6 317.2l7.8-7.8M148.3 304.8l7.8 7.8M148.3 312.6l7.8-7.8M153.8 301l7.8 7.8M153.8 308.8l7.8-7.8M159 299l7.8 7.8M159 306.8l7.8-7.8M164 295.3l7.8 7.8M164 303.1l7.8-7.8M168.8 292.9l7.8 7.8M168.8 300.7l7.8-7.8M173.4 291.1l7.8 7.8M173.4 298.9l7.8-7.8M177.9 288.1l7.8 7.8M177.9 295.9l7.8-7.8M182.1 286.9l7.8 7.8M182.1 294.7l7.8-7.8M186.3 284.6l7.8 7.8M186.3 292.4l7.8-7.8M190.3 284l7.8 7.8M190.3 291.8l7.8-7.8M194.1 282.6l7.8 7.8M194.1 290.4l7.8-7.8M197.8 280.5l7.8 7.8M197.8 288.3l7.8-7.8M201.5 279.3l7.8 7.8M201.5 287.1l7.8-7.8M205 277.6l7.8 7.8M205 285.4l7.8-7.8M208.4 276.6l7.8 7.8M208.4 284.4l7.8-7.8M211.7 275.5l7.8 7.8M211.7 283.3l7.8-7.8M214.9 273l7.8 7.8M214.9 280.8l7.8-7.8M218 272.4l7.8 7.8M218 280.2l7.8-7.8M221.1 270l7.8 7.8M221.1 277.8l7.8-7.8M224.1 268.7l7.8 7.8M224.1 276.5l7.8-7.8M227 266.8l7.8 7.8M227 274.6l7.8-7.8M229.8 266.7l7.8 7.8M229.8 274.5l7.8-7.8M232.6 264.5l7.8 7.8M232.6 272.3l7.8-7.8M235.3 263l7.8 7.8M235.3 270.8l7.8-7.8M237.9 261.1l7.8 7.8M237.9 268.9l7.8-7.8M240.5 260.1l7.8 7.8M240.5 267.9l7.8-7.8M243 257.5l7.8 7.8M243 265.3l7.8-7.8M245.5 256.6l7.8 7.8M245.5 264.4l7.8-7.8M247.9 255.8l7.8 7.8M247.9 263.6l7.8-7.8M250.3 253.6l7.8 7.8M250.3 261.4l7.8-7.8M252.6 252.3l7.8 7.8M252.6 260.1l7.8-7.8M254.9 251.2l7.8 7.8M254.9 259l7.8-7.8M257.2 249.6l7.8 7.8M257.2 257.4l7.8-7.8M259.4 248.7l7.8 7.8M259.4 256.5l7.8-7.8M261.5 247.9l7.8 7.8M261.5 255.7l7.8-7.8M263.6 246.7l7.8 7.8M263.6 254.5l7.8-7.8M265.7 245.8l7.8 7.8M265.7 253.6l7.8-7.8M267.8 244.6l7.8 7.8M267.8 252.4l7.8-7.8M269.8 243.9l7.8 7.8M269.8 251.7l7.8-7.8M271.7 242.9l7.8 7.8M271.7 250.7l7.8-7.8M273.7 242.4l7.8 7.8M273.7 250.2l7.8-7.8M275.6 241.4l7.8 7.8M275.6 249.2l7.8-7.8M277.5 240.3l7.8 7.8M277.5 248.1l7.8-7.8M279.3 238.9l7.8 7.8M279.3 246.7l7.8-7.8M281.2 238.8l7.8 7.8M281.2 246.6l7.8-7.8M283 238l7.8 7.8M283 245.8l7.8-7.8M284.7 236.8l7.8 7.8M284.7 244.6l7.8-7.8M286.5 235.7l7.8 7.8M286.5 243.5l7.8-7.8M288.2 235.1l7.8 7.8M288.2 242.9l7.8-7.8M289.9 234.7l7.8 7.8M289.9 242.5l7.8-7.8M291.5 233.4l7.8 7.8M291.5 241.2l7.8-7.8M293.2 232.7l7.8 7.8M293.2 240.5l7.8-7.8M294.8 232l7.8 7.8M294.8 239.8l7.8-7.8M296.4 231.4l7.8 7.8M296.4 239.2l7.8-7.8M298 230.3l7.8 7.8M298 238.1l7.8-7.8M299.5 229.4l7.8 7.8M299.5 237.2l7.8-7.8M301.1 228.5l7.8 7.8M301.1 236.3l7.8-7.8M302.6 228.1l7.8 7.8M302.6 235.9l7.8-7.8M304.1 227.2l7.8 7.8M304.1 235l7.8-7.8M305.6 226.2l7.8 7.8M305.6 234l7.8-7.8M307 225.2l7.8 7.8M307 233l7.8-7.8M308.5 224.6l7.8 7.8M308.5 232.4l7.8-7.8M309.9 224.1l7.8 7.8M309.9 231.9l7.8-7.8M311.3 223.2l7.8 7.8M311.3 231l7.8-7.8M312.7 222.8l7.8 7.8M312.7 230.6l7.8-7.8M314.1 222.1l7.8 7.8M314.1 229.9l7.8-7.8M315.4 221.4l7.8 7.8M315.4 229.2l7.8-7.8M316.8 220.9l7.8 7.8M316.8 228.7l7.8-7.8M318.1 220.3l7.8 7.8M318.1 228.1l7.8-7.8M319.4 219.6l7.8 7.8M319.4 227.4l7.8-7.8M320.7 219.1l7.8 7.8M320.7 226.9l7.8-7.8M322 219l7.8 7.8M322 226.8l7.8-7.8M323.3 218l7.8 7.8M323.3 225.8l7.8-7.8M324.5 217.6l7.8 7.8M324.5 225.4l7.8-7.8M325.8 217.3l7.8 7.8M325.8 225.1l7.8-7.8M327 216.7l7.8 7.8M327 224.5l7.8-7.8M328.2 216.1l7.8 7.8M328.2 223.9l7.8-7.8M329.4 215.6l7.8 7.8M329.4 223.4l7.8-7.8M330.6 215.5l7.8 7.8M330.6 223.3l7.8-7.8M331.8 215.1l7.8 7.8M331.8 222.9l7.8-7.8M333 214.7l7.8 7.8M333 222.5l7.8-7.8M334.1 214.1l7.8 7.8M334.1 221.9l7.8-7.8M335.3 213.8l7.8 7.8M335.3 221.6l7.8-7.8M336.4 213.1l7.8 7.8M336.4 220.9l7.8-7.8M337.5 212.9l7.8 7.8M337.5 220.7l7.8-7.8M338.7 212.4l7.8 7.8M338.7 220.2l7.8-7.8M339.8 212.1l7.8 7.8M339.8 219.9l7.8-7.8M340.8 211.7l7.8 7.8M340.8 219.5l7.8-7.8M341.9 211.3l7.8 7.8M341.9 219.1l7.8-7.8M343 210.7l7.8 7.8M343 218.5l7.8-7.8M344.1 210.5l7.8 7.8M344.1 218.3l7.8-7.8M345.1 209.9l7.8 7.8M345.1 217.7l7.8-7.8M346.2 209.5l7.8 7.8M346.2 217.3l7.8-7.8M347.2 209.1l7.8 7.8M347.2 216.9l7.8-7.8M348.2 208.6l7.8 7.8M348.2 216.4l7.8-7.8M349.2 208.3l7.8 7.8M349.2 216.1l7.8-7.8M350.3 207.9l7.8 7.8M350.3 215.7l7.8-7.8M351.3 207.4l7.8 7.8M351.3 215.2l7.8-7.8M352.3 207.1l7.8 7.8M352.3 214.9l7.8-7.8M353.2 206.6l7.8 7.8M353.2 214.4l7.8-7.8M354.2 206.1l7.8 7.8M354.2 213.9l7.8-7.8M355.2 205.6l7.8 7.8M355.2 213.4l7.8-7.8M356.1 205.3l7.8 7.8M356.1 213.1l7.8-7.8M357.1 204.8l7.8 7.8M357.1 212.6l7.8-7.8M358 204.4l7.8 7.8M358 212.2l7.8-7.8M359 204l7.8 7.8M359 211.8l7.8-7.8M359.9 203.6l7.8 7.8M359.9 211.4l7.8-7.8M360.8 203.1l7.8 7.8M360.8 210.9l7.8-7.8M361.7 202.7l7.8 7.8M361.7 210.5l7.8-7.8M362.6 202.4l7.8 7.8M362.6 210.2l7.8-7.8M363.5 202l7.8 7.8M363.5 209.8l7.8-7.8M364.4 201.6l7.8 7.8M364.4 209.4l7.8-7.8M365.3 201.3l7.8 7.8M365.3 209.1l7.8-7.8M366.2 201l7.8 7.8M366.2 208.8l7.8-7.8M367.1 200.5l7.8 7.8M367.1 208.3l7.8-7.8M367.9 200.1l7.8 7.8M367.9 207.9l7.8-7.8M368.8 199.7l7.8 7.8M368.8 207.5l7.8-7.8M369.7 199.4l7.8 7.8M369.7 207.2l7.8-7.8M370.5 199.1l7.8 7.8M370.5 206.9l7.8-7.8M371.4 198.8l7.8 7.8M371.4 206.6l7.8-7.8M372.2 198.5l7.8 7.8M372.2 206.3l7.8-7.8M373 198.2l7.8 7.8M373 206l7.8-7.8M373.8 197.9l7.8 7.8M373.8 205.7l7.8-7.8M374.7 197.6l7.8 7.8M374.7 205.4l7.8-7.8M375.5 197.3l7.8 7.8M375.5 205.1l7.8-7.8M376.3 197.1l7.8 7.8M376.3 204.9l7.8-7.8M377.1 196.8l7.8 7.8M377.1 204.6l7.8-7.8M377.9 196.5l7.8 7.8M377.9 204.3l7.8-7.8M378.7 196.2l7.8 7.8M378.7 204l7.8-7.8M379.5 196.1l7.8 7.8M379.5 203.9l7.8-7.8M380.2 195.9l7.8 7.8M380.2 203.7l7.8-7.8M381 195.6l7.8 7.8M381 203.4l7.8-7.8M381.8 195.4l7.8 7.8M381.8 203.2l7.8-7.8M382.6 195.3l7.8 7.8M382.6 203.1l7.8-7.8M383.3 194.9l7.8 7.8M383.3 202.7l7.8-7.8M384.1 194.8l7.8 7.8M384.1 202.6l7.8-7.8M384.8 194.6l7.8 7.8M384.8 202.4l7.8-7.8M385.6 194.3l7.8 7.8M385.6 202.1l7.8-7.8M386.3 194.2l7.8 7.8M386.3 202l7.8-7.8M387.1 194.1l7.8 7.8M387.1 201.9l7.8-7.8M387.8 193.9l7.8 7.8M387.8 201.7l7.8-7.8M388.5 193.7l7.8 7.8M388.5 201.5l7.8-7.8M389.2 193.5l7.8 7.8M389.2 201.3l7.8-7.8M390 193.3l7.8 7.8M390 201.1l7.8-7.8M390.7 193.2l7.8 7.8M390.7 201l7.8-7.8M391.4 192.9l7.8 7.8M391.4 200.7l7.8-7.8M392.1 192.8l7.8 7.8M392.1 200.6l7.8-7.8M392.8 192.6l7.8 7.8M392.8 200.4l7.8-7.8M393.5 192.5l7.8 7.8M393.5 200.3l7.8-7.8M394.2 192.3l7.8 7.8M394.2 200.1l7.8-7.8M394.9 192.1l7.8 7.8M394.9 199.9l7.8-7.8M395.6 191.8l7.8 7.8M395.6 199.6l7.8-7.8M396.2 191.8l7.8 7.8M396.2 199.6l7.8-7.8M396.9 191.7l7.8 7.8M396.9 199.5l7.8-7.8M397.6 191.5l7.8 7.8M397.6 199.3l7.8-7.8M398.3 191.2l7.8 7.8M398.3 199l7.8-7.8M398.9 191.1l7.8 7.8M398.9 198.9l7.8-7.8M399.6 190.9l7.8 7.8M399.6 198.7l7.8-7.8M400.2 190.7l7.8 7.8M400.2 198.5l7.8-7.8M400.9 190.6l7.8 7.8M400.9 198.4l7.8-7.8M401.6 190.4l7.8 7.8M401.6 198.2l7.8-7.8M402.2 190.3l7.8 7.8M402.2 198.1l7.8-7.8M402.8 190.1l7.8 7.8M402.8 197.9l7.8-7.8M403.5 189.8l7.8 7.8M403.5 197.6l7.8-7.8M404.1 189.7l7.8 7.8M404.1 197.5l7.8-7.8M404.8 189.5l7.8 7.8M404.8 197.3l7.8-7.8M405.4 189.3l7.8 7.8M405.4 197.1l7.8-7.8M406 189.1l7.8 7.8M406 196.9l7.8-7.8M406.6 188.9l7.8 7.8M406.6 196.7l7.8-7.8M407.3 188.8l7.8 7.8M407.3 196.6l7.8-7.8M407.9 188.5l7.8 7.8M407.9 196.3l7.8-7.8M408.5 188.4l7.8 7.8M408.5 196.2l7.8-7.8M409.1 188.2l7.8 7.8M409.1 196l7.8-7.8M409.7 188l7.8 7.8M409.7 195.8l7.8-7.8M410.3 187.8l7.8 7.8M410.3 195.6l7.8-7.8M410.9 187.6l7.8 7.8M410.9 195.4l7.8-7.8M411.5 187.4l7.8 7.8M411.5 195.2l7.8-7.8M412.1 187.2l7.8 7.8M412.1 195l7.8-7.8M412.7 187l7.8 7.8M412.7 194.8l7.8-7.8M413.3 186.8l7.8 7.8M413.3 194.6l7.8-7.8M413.9 186.7l7.8 7.8M413.9 194.5l7.8-7.8M414.5 186.5l7.8 7.8M414.5 194.3l7.8-7.8M415 186.3l7.8 7.8M415 194.1l7.8-7.8M415.6 186.1l7.8 7.8M415.6 193.9l7.8-7.8M416.2 185.8l7.8 7.8M416.2 193.6l7.8-7.8M416.8 185.6l7.8 7.8M416.8 193.4l7.8-7.8M417.3 185.5l7.8 7.8M417.3 193.3l7.8-7.8M417.9 185.3l7.8 7.8M417.9 193.1l7.8-7.8M418.5 185.1l7.8 7.8M418.5 192.9l7.8-7.8M419 184.9l7.8 7.8M419 192.7l7.8-7.8M419.6 184.7l7.8 7.8M419.6 192.5l7.8-7.8M420.1 184.5l7.8 7.8M420.1 192.3l7.8-7.8M420.7 184.3l7.8 7.8M420.7 192.1l7.8-7.8M421.2 184.1l7.8 7.8M421.2 191.9l7.8-7.8M421.8 183.9l7.8 7.8M421.8 191.7l7.8-7.8M422.3 183.8l7.8 7.8M422.3 191.6l7.8-7.8M422.9 183.5l7.8 7.8M422.9 191.3l7.8-7.8M423.4 183.4l7.8 7.8M423.4 191.2l7.8-7.8M424 183.2l7.8 7.8M424 191l7.8-7.8M424.5 183l7.8 7.8M424.5 190.8l7.8-7.8M425 182.8l7.8 7.8M425 190.6l7.8-7.8M425.6 182.6l7.8 7.8M425.6 190.4l7.8-7.8M426.1 182.4l7.8 7.8M426.1 190.2l7.8-7.8M426.6 182.2l7.8 7.8M426.6 190l7.8-7.8M427.1 182l7.8 7.8M427.1 189.8l7.8-7.8M427.7 181.8l7.8 7.8M427.7 189.6l7.8-7.8M428.2 181.6l7.8 7.8M428.2 189.4l7.8-7.8M428.7 181.4l7.8 7.8M428.7 189.2l7.8-7.8M429.2 181.2l7.8 7.8M429.2 189l7.8-7.8M429.7 181.1l7.8 7.8M429.7 188.9l7.8-7.8M430.2 180.8l7.8 7.8M430.2 188.6l7.8-7.8M430.7 180.6l7.8 7.8M430.7 188.4l7.8-7.8M431.2 180.5l7.8 7.8M431.2 188.3l7.8-7.8M431.7 180.3l7.8 7.8M431.7 188.1l7.8-7.8M432.2 180.1l7.8 7.8M432.2 187.9l7.8-7.8M432.7 179.9l7.8 7.8M432.7 187.7l7.8-7.8M433.2 179.7l7.8 7.8M433.2 187.5l7.8-7.8M433.7 179.5l7.8 7.8M433.7 187.3l7.8-7.8M434.2 179.3l7.8 7.8M434.2 187.1l7.8-7.8M434.7 179.2l7.8 7.8M434.7 187l7.8-7.8M435.2 178.9l7.8 7.8M435.2 186.7l7.8-7.8M435.7 178.8l7.8 7.8M435.7 186.6l7.8-7.8M436.2 178.6l7.8 7.8M436.2 186.4l7.8-7.8M436.7 178.4l7.8 7.8M436.7 186.2l7.8-7.8M437.1 178.2l7.8 7.8M437.1 186l7.8-7.8M437.6 178l7.8 7.8M437.6 185.8l7.8-7.8M438.1 177.8l7.8 7.8M438.1 185.6l7.8-7.8M438.6 177.6l7.8 7.8M438.6 185.4l7.8-7.8M439.1 177.4l7.8 7.8M439.1 185.2l7.8-7.8M439.5 177.3l7.8 7.8M439.5 185.1l7.8-7.8M440 177.1l7.8 7.8M440 184.9l7.8-7.8M440.5 176.9l7.8 7.8M440.5 184.7l7.8-7.8M440.9 176.7l7.8 7.8M440.9 184.5l7.8-7.8M441.4 176.5l7.8 7.8M441.4 184.3l7.8-7.8M441.9 176.3l7.8 7.8M441.9 184.1l7.8-7.8M442.3 176.2l7.8 7.8M442.3 184l7.8-7.8M442.8 176l7.8 7.8M442.8 183.8l7.8-7.8M443.2 175.8l7.8 7.8M443.2 183.6l7.8-7.8M443.7 175.6l7.8 7.8M443.7 183.4l7.8-7.8M444.1 175.4l7.8 7.8M444.1 183.2l7.8-7.8M444.6 175.2l7.8 7.8M444.6 183l7.8-7.8M445 175l7.8 7.8M445 182.8l7.8-7.8M445.5 174.9l7.8 7.8M445.5 182.7l7.8-7.8M445.9 174.7l7.8 7.8M445.9 182.5l7.8-7.8M446.4 174.5l7.8 7.8M446.4 182.3l7.8-7.8M446.8 174.3l7.8 7.8M446.8 182.1l7.8-7.8M447.3 174.1l7.8 7.8M447.3 181.9l7.8-7.8M447.7 173.9l7.8 7.8M447.7 181.7l7.8-7.8M448.1 173.8l7.8 7.8M448.1 181.6l7.8-7.8M448.6 173.6l7.8 7.8M448.6 181.4l7.8-7.8M449 173.4l7.8 7.8M449 181.2l7.8-7.8M449.4 173.2l7.8 7.8M449.4 181l7.8-7.8M449.9 173l7.8 7.8M449.9 180.8l7.8-7.8M450.3 172.8l7.8 7.8M450.3 180.6l7.8-7.8M450.7 172.7l7.8 7.8M450.7 180.5l7.8-7.8M451.2 172.5l7.8 7.8M451.2 180.3l7.8-7.8M451.6 172.3l7.8 7.8M451.6 180.1l7.8-7.8M452 172.1l7.8 7.8M452 179.9l7.8-7.8M452.4 171.9l7.8 7.8M452.4 179.7l7.8-7.8M452.8 171.7l7.8 7.8M452.8 179.5l7.8-7.8M453.3 171.6l7.8 7.8M453.3 179.4l7.8-7.8M453.7 171.4l7.8 7.8M453.7 179.2l7.8-7.8M454.1 171.2l7.8 7.8M454.1 179l7.8-7.8M454.5 171l7.8 7.8M454.5 178.8l7.8-7.8M454.9 170.8l7.8 7.8M454.9 178.6l7.8-7.8M455.3 170.6l7.8 7.8M455.3 178.4l7.8-7.8M455.7 170.5l7.8 7.8M455.7 178.3l7.8-7.8M456.2 170.3l7.8 7.8M456.2 178.1l7.8-7.8M456.6 170.1l7.8 7.8M456.6 177.9l7.8-7.8M457 169.9l7.8 7.8M457 177.7l7.8-7.8M457.4 169.7l7.8 7.8M457.4 177.5l7.8-7.8M457.8 169.5l7.8 7.8M457.8 177.3l7.8-7.8M458.2 169.3l7.8 7.8M458.2 177.1l7.8-7.8M458.6 169.2l7.8 7.8M458.6 177l7.8-7.8M459.4 168.8l7.8 7.8M459.4 176.6l7.8-7.8M460.2 168.4l7.8 7.8M460.2 176.2l7.8-7.8M461 168l7.8 7.8M461 175.8l7.8-7.8M461.7 167.7l7.8 7.8M461.7 175.5l7.8-7.8M462.5 167.3l7.8 7.8M462.5 175.1l7.8-7.8M463.3 166.9l7.8 7.8M463.3 174.7l7.8-7.8M464.1 166.5l7.8 7.8M464.1 174.3l7.8-7.8M464.8 166.2l7.8 7.8M464.8 174l7.8-7.8M465.6 165.8l7.8 7.8M465.6 173.6l7.8-7.8M466.3 165.4l7.8 7.8M466.3 173.2l7.8-7.8M467.1 165l7.8 7.8M467.1 172.8l7.8-7.8M467.8 164.6l7.8 7.8M467.8 172.4l7.8-7.8M468.5 164.2l7.8 7.8M468.5 172l7.8-7.8M469.3 163.8l7.8 7.8M469.3 171.6l7.8-7.8M470 163.3l7.8 7.8M470 171.1l7.8-7.8M470.7 162.9l7.8 7.8M470.7 170.7l7.8-7.8M471.4 162.5l7.8 7.8M471.4 170.3l7.8-7.8M472.2 162.1l7.8 7.8M472.2 169.9l7.8-7.8M472.9 161.6l7.8 7.8M472.9 169.4l7.8-7.8M473.6 161.2l7.8 7.8M473.6 169l7.8-7.8M474.3 160.8l7.8 7.8M474.3 168.6l7.8-7.8M475 160.4l7.8 7.8M475 168.2l7.8-7.8M475.7 160l7.8 7.8M475.7 167.8l7.8-7.8M476.4 159.6l7.8 7.8M476.4 167.4l7.8-7.8M477 159.2l7.8 7.8M477 167l7.8-7.8M477.7 158.8l7.8 7.8M477.7 166.6l7.8-7.8M478.4 158.4l7.8 7.8M478.4 166.2l7.8-7.8M479.1 158l7.8 7.8M479.1 165.8l7.8-7.8M479.7 157.7l7.8 7.8M479.7 165.5l7.8-7.8M480.4 157.3l7.8 7.8M480.4 165.1l7.8-7.8M481.1 156.9l7.8 7.8M481.1 164.7l7.8-7.8M481.7 156.5l7.8 7.8M481.7 164.3l7.8-7.8M482.4 156.2l7.8 7.8M482.4 164l7.8-7.8M483 155.8l7.8 7.8M483 163.6l7.8-7.8M483.7 155.4l7.8 7.8M483.7 163.2l7.8-7.8M484.3 155.1l7.8 7.8M484.3 162.9l7.8-7.8M485 154.7l7.8 7.8M485 162.5l7.8-7.8M485.6 154.4l7.8 7.8M485.6 162.2l7.8-7.8M486.2 154l7.8 7.8M486.2 161.8l7.8-7.8M486.9 153.7l7.8 7.8M486.9 161.5l7.8-7.8M487.5 153.3l7.8 7.8M487.5 161.1l7.8-7.8M488.1 153l7.8 7.8M488.1 160.8l7.8-7.8M488.7 152.7l7.8 7.8M488.7 160.5l7.8-7.8M489.4 152.3l7.8 7.8M489.4 160.1l7.8-7.8M490 152l7.8 7.8M490 159.8l7.8-7.8M490.6 151.7l7.8 7.8M490.6 159.5l7.8-7.8M491.2 151.4l7.8 7.8M491.2 159.2l7.8-7.8M491.8 151.1l7.8 7.8M491.8 158.9l7.8-7.8M492.4 150.7l7.8 7.8M492.4 158.5l7.8-7.8M493 150.4l7.8 7.8M493 158.2l7.8-7.8M493.6 150.1l7.8 7.8M493.6 157.9l7.8-7.8M494.2 149.8l7.8 7.8M494.2 157.6l7.8-7.8M494.8 149.5l7.8 7.8M494.8 157.3l7.8-7.8M495.4 149.1l7.8 7.8M495.4 156.9l7.8-7.8M495.9 148.8l7.8 7.8M495.9 156.6l7.8-7.8M496.5 148.5l7.8 7.8M496.5 156.3l7.8-7.8M497.1 148.2l7.8 7.8M497.1 156l7.8-7.8M497.7 147.9l7.8 7.8M497.7 155.7l7.8-7.8M498.3 147.5l7.8 7.8M498.3 155.3l7.8-7.8M498.8 147.2l7.8 7.8M498.8 155l7.8-7.8M499.4 146.9l7.8 7.8M499.4 154.7l7.8-7.8M500 146.5l7.8 7.8M500 154.3l7.8-7.8M500.5 146.2l7.8 7.8M500.5 154l7.8-7.8M501.1 145.9l7.8 7.8M501.1 153.7l7.8-7.8M501.6 145.6l7.8 7.8M501.6 153.4l7.8-7.8M502.2 145.2l7.8 7.8M502.2 153l7.8-7.8M502.7 144.9l7.8 7.8M502.7 152.7l7.8-7.8M503.3 144.6l7.8 7.8M503.3 152.4l7.8-7.8M503.8 144.3l7.8 7.8M503.8 152.1l7.8-7.8M504.4 144l7.8 7.8M504.4 151.8l7.8-7.8M504.9 143.6l7.8 7.8M504.9 151.4l7.8-7.8M505.4 143.3l7.8 7.8M505.4 151.1l7.8-7.8M506 143l7.8 7.8M506 150.8l7.8-7.8M506.5 142.7l7.8 7.8M506.5 150.5l7.8-7.8M507 142.4l7.8 7.8M507 150.2l7.8-7.8M507.6 142.1l7.8 7.8M507.6 149.9l7.8-7.8M508.1 141.9l7.8 7.8M508.1 149.7l7.8-7.8M508.6 141.6l7.8 7.8M508.6 149.4l7.8-7.8M509.1 141.3l7.8 7.8M509.1 149.1l7.8-7.8M509.7 141l7.8 7.8M509.7 148.8l7.8-7.8M510.2 140.7l7.8 7.8M510.2 148.5l7.8-7.8M510.7 140.4l7.8 7.8M510.7 148.2l7.8-7.8M511.2 140.1l7.8 7.8M511.2 147.9l7.8-7.8M511.7 139.9l7.8 7.8M511.7 147.7l7.8-7.8M512.2 139.6l7.8 7.8M512.2 147.4l7.8-7.8M512.7 139.3l7.8 7.8M512.7 147.1l7.8-7.8M513.2 139l7.8 7.8M513.2 146.8l7.8-7.8M513.7 138.8l7.8 7.8M513.7 146.6l7.8-7.8M514.2 138.5l7.8 7.8M514.2 146.3l7.8-7.8M514.7 138.2l7.8 7.8M514.7 146l7.8-7.8M515.2 138l7.8 7.8M515.2 145.8l7.8-7.8M515.7 137.7l7.8 7.8M515.7 145.5l7.8-7.8M516.2 137.5l7.8 7.8M516.2 145.3l7.8-7.8M516.7 137.2l7.8 7.8M516.7 145l7.8-7.8M517.2 137l7.8 7.8M517.2 144.8l7.8-7.8M517.7 136.7l7.8 7.8M517.7 144.5l7.8-7.8M518.2 136.5l7.8 7.8M518.2 144.3l7.8-7.8M518.6 136.3l7.8 7.8M518.6 144.1l7.8-7.8M519.1 136l7.8 7.8M519.1 143.8l7.8-7.8M519.6 135.8l7.8 7.8M519.6 143.6l7.8-7.8M520.1 135.6l7.8 7.8M520.1 143.4l7.8-7.8M520.5 135.3l7.8 7.8M520.5 143.1l7.8-7.8M521 135.1l7.8 7.8M521 142.9l7.8-7.8M521.5 134.9l7.8 7.8M521.5 142.7l7.8-7.8M521.9 134.7l7.8 7.8M521.9 142.5l7.8-7.8M522.4 134.5l7.8 7.8M522.4 142.3l7.8-7.8M522.9 134.2l7.8 7.8M522.9 142l7.8-7.8M523.3 134l7.8 7.8M523.3 141.8l7.8-7.8M523.8 133.8l7.8 7.8M523.8 141.6l7.8-7.8M524.3 133.6l7.8 7.8M524.3 141.4l7.8-7.8M524.7 133.4l7.8 7.8M524.7 141.2l7.8-7.8M525.2 133.1l7.8 7.8M525.2 140.9l7.8-7.8M525.6 132.9l7.8 7.8M525.6 140.7l7.8-7.8M526.1 132.7l7.8 7.8M526.1 140.5l7.8-7.8M526.5 132.5l7.8 7.8M526.5 140.3l7.8-7.8M527 132.3l7.8 7.8M527 140.1l7.8-7.8M527.4 132.1l7.8 7.8M527.4 139.9l7.8-7.8M527.9 131.8l7.8 7.8M527.9 139.6l7.8-7.8M528.3 131.6l7.8 7.8M528.3 139.4l7.8-7.8M528.7 131.4l7.8 7.8M528.7 139.2l7.8-7.8M529.2 131.2l7.8 7.8M529.2 139l7.8-7.8M529.6 131l7.8 7.8M529.6 138.8l7.8-7.8M530.1 130.8l7.8 7.8M530.1 138.6l7.8-7.8M530.5 130.6l7.8 7.8M530.5 138.4l7.8-7.8M530.9 130.4l7.8 7.8M530.9 138.2l7.8-7.8M531.4 130.2l7.8 7.8M531.4 138l7.8-7.8M531.8 130l7.8 7.8M531.8 137.8l7.8-7.8M532.2 129.7l7.8 7.8M532.2 137.5l7.8-7.8M532.6 129.5l7.8 7.8M532.6 137.3l7.8-7.8M533.1 129.3l7.8 7.8M533.1 137.1l7.8-7.8M533.5 129.1l7.8 7.8M533.5 136.9l7.8-7.8M533.9 128.9l7.8 7.8M533.9 136.7l7.8-7.8M534.3 128.7l7.8 7.8M534.3 136.5l7.8-7.8M534.8 128.5l7.8 7.8M534.8 136.3l7.8-7.8M535.2 128.3l7.8 7.8M535.2 136.1l7.8-7.8M535.6 128.1l7.8 7.8M535.6 135.9l7.8-7.8M536 127.9l7.8 7.8M536 135.7l7.8-7.8M536.4 127.7l7.8 7.8M536.4 135.5l7.8-7.8M536.8 127.5l7.8 7.8M536.8 135.3l7.8-7.8M537.2 127.3l7.8 7.8M537.2 135.1l7.8-7.8M537.6 127.1l7.8 7.8M537.6 134.9l7.8-7.8M538.1 126.9l7.8 7.8M538.1 134.7l7.8-7.8M538.5 126.7l7.8 7.8M538.5 134.5l7.8-7.8M538.9 126.5l7.8 7.8M538.9 134.3l7.8-7.8M539.3 126.3l7.8 7.8M539.3 134.1l7.8-7.8M539.7 126l7.8 7.8M539.7 133.8l7.8-7.8M540.1 125.8l7.8 7.8M540.1 133.6l7.8-7.8M540.7 125.5l7.8 7.8M540.7 133.3l7.8-7.8M541.3 125.2l7.8 7.8M541.3 133l7.8-7.8M541.9 124.9l7.8 7.8M541.9 132.7l7.8-7.8M542.4 124.6l7.8 7.8M542.4 132.4l7.8-7.8M543 124.3l7.8 7.8M543 132.1l7.8-7.8M543.6 124l7.8 7.8M543.6 131.8l7.8-7.8M544.2 123.7l7.8 7.8M544.2 131.5l7.8-7.8M544.8 123.4l7.8 7.8M544.8 131.2l7.8-7.8M545.3 123.1l7.8 7.8M545.3 130.9l7.8-7.8M545.9 122.8l7.8 7.8M545.9 130.6l7.8-7.8M546.5 122.5l7.8 7.8M546.5 130.3l7.8-7.8M547.1 122.2l7.8 7.8M547.1 130l7.8-7.8M547.6 121.9l7.8 7.8M547.6 129.7l7.8-7.8M548.2 121.6l7.8 7.8M548.2 129.4l7.8-7.8M548.7 121.3l7.8 7.8M548.7 129.1l7.8-7.8M549.3 121l7.8 7.8M549.3 128.8l7.8-7.8M549.8 120.8l7.8 7.8M549.8 128.6l7.8-7.8M550.4 120.5l7.8 7.8M550.4 128.3l7.8-7.8M550.9 120.2l7.8 7.8M550.9 128l7.8-7.8M551.5 119.9l7.8 7.8M551.5 127.7l7.8-7.8M552 119.6l7.8 7.8M552 127.4l7.8-7.8M552.6 119.3l7.8 7.8M552.6 127.1l7.8-7.8M553.1 119l7.8 7.8M553.1 126.8l7.8-7.8M553.7 118.7l7.8 7.8M553.7 126.5l7.8-7.8M554.2 118.5l7.8 7.8M554.2 126.3l7.8-7.8M554.7 118.2l7.8 7.8M554.7 126l7.8-7.8M555.2 117.9l7.8 7.8M555.2 125.7l7.8-7.8M555.8 117.6l7.8 7.8M555.8 125.4l7.8-7.8M556.3 117.4l7.8 7.8M556.3 125.2l7.8-7.8M556.8 117.1l7.8 7.8M556.8 124.9l7.8-7.8M557.3 116.8l7.8 7.8M557.3 124.6l7.8-7.8M557.8 116.5l7.8 7.8M557.8 124.3l7.8-7.8M558.4 116.3l7.8 7.8M558.4 124.1l7.8-7.8M558.9 116l7.8 7.8M558.9 123.8l7.8-7.8M559.4 115.8l7.8 7.8M559.4 123.6l7.8-7.8M559.9 115.5l7.8 7.8M559.9 123.3l7.8-7.8M560.4 115.2l7.8 7.8M560.4 123l7.8-7.8M560.9 115l7.8 7.8M560.9 122.8l7.8-7.8M561.4 114.7l7.8 7.8M561.4 122.5l7.8-7.8M561.9 114.5l7.8 7.8M561.9 122.3l7.8-7.8M562.4 114.2l7.8 7.8M562.4 122l7.8-7.8M562.9 114l7.8 7.8M562.9 121.8l7.8-7.8M563.4 113.7l7.8 7.8M563.4 121.5l7.8-7.8M563.9 113.5l7.8 7.8M563.9 121.3l7.8-7.8M564.4 113.2l7.8 7.8M564.4 121l7.8-7.8M564.9 113l7.8 7.8M564.9 120.8l7.8-7.8M565.3 112.7l7.8 7.8M565.3 120.5l7.8-7.8M565.8 112.5l7.8 7.8M565.8 120.3l7.8-7.8M566.3 112.3l7.8 7.8M566.3 120.1l7.8-7.8M566.8 112l7.8 7.8M566.8 119.8l7.8-7.8M567.3 111.8l7.8 7.8M567.3 119.6l7.8-7.8M567.7 111.5l7.8 7.8M567.7 119.3l7.8-7.8M568.2 111.3l7.8 7.8M568.2 119.1l7.8-7.8M568.7 111l7.8 7.8M568.7 118.8l7.8-7.8M569.1 110.8l7.8 7.8M569.1 118.6l7.8-7.8M569.6 110.6l7.8 7.8M569.6 118.4l7.8-7.8M570.1 110.3l7.8 7.8M570.1 118.1l7.8-7.8M570.5 110.1l7.8 7.8M570.5 117.9l7.8-7.8M571 109.9l7.8 7.8M571 117.7l7.8-7.8M571.5 109.6l7.8 7.8M571.5 117.4l7.8-7.8M571.9 109.4l7.8 7.8M571.9 117.2l7.8-7.8M572.4 109.2l7.8 7.8M572.4 117l7.8-7.8M572.8 108.9l7.8 7.8M572.8 116.7l7.8-7.8M573.3 108.7l7.8 7.8M573.3 116.5l7.8-7.8M573.7 108.5l7.8 7.8M573.7 116.3l7.8-7.8M574.2 108.2l7.8 7.8M574.2 116l7.8-7.8M574.6 108l7.8 7.8M574.6 115.8l7.8-7.8M575.1 107.8l7.8 7.8M575.1 115.6l7.8-7.8M575.5 107.5l7.8 7.8M575.5 115.3l7.8-7.8M576 107.3l7.8 7.8M576 115.1l7.8-7.8M576.4 107.1l7.8 7.8M576.4 114.9l7.8-7.8M576.9 106.9l7.8 7.8M576.9 114.7l7.8-7.8M577.3 106.6l7.8 7.8M577.3 114.4l7.8-7.8M577.7 106.4l7.8 7.8M577.7 114.2l7.8-7.8M578.2 106.2l7.8 7.8M578.2 114l7.8-7.8M578.6 105.9l7.8 7.8M578.6 113.7l7.8-7.8M579 105.7l7.8 7.8M579 113.5l7.8-7.8M579.5 105.5l7.8 7.8M579.5 113.3l7.8-7.8M579.9 105.3l7.8 7.8M579.9 113.1l7.8-7.8M580.3 105l7.8 7.8M580.3 112.8l7.8-7.8M580.7 104.8l7.8 7.8M580.7 112.6l7.8-7.8M581.2 104.6l7.8 7.8M581.2 112.4l7.8-7.8M581.6 104.4l7.8 7.8M581.6 112.2l7.8-7.8M582 104.1l7.8 7.8M582 111.9l7.8-7.8M582.4 103.9l7.8 7.8M582.4 111.7l7.8-7.8M582.8 103.7l7.8 7.8M582.8 111.5l7.8-7.8M583.3 103.5l7.8 7.8M583.3 111.3l7.8-7.8M583.7 103.2l7.8 7.8M583.7 111l7.8-7.8M584.1 103l7.8 7.8M584.1 110.8l7.8-7.8M584.5 102.8l7.8 7.8M584.5 110.6l7.8-7.8M584.9 102.6l7.8 7.8M584.9 110.4l7.8-7.8M585.3 102.3l7.8 7.8M585.3 110.1l7.8-7.8M585.7 102.1l7.8 7.8M585.7 109.9l7.8-7.8M586.1 101.9l7.8 7.8M586.1 109.7l7.8-7.8M586.5 101.7l7.8 7.8M586.5 109.5l7.8-7.8M586.9 101.5l7.8 7.8M586.9 109.3l7.8-7.8M587.3 101.2l7.8 7.8M587.3 109l7.8-7.8M587.7 101l7.8 7.8M587.7 108.8l7.8-7.8M588.3 100.7l7.8 7.8M588.3 108.5l7.8-7.8M588.8 100.4l7.8 7.8M588.8 108.2l7.8-7.8M589.3 100.1l7.8 7.8M589.3 107.9l7.8-7.8M589.9 99.8l7.8 7.8M589.9 107.6l7.8-7.8M590.4 99.6l7.8 7.8M590.4 107.4l7.8-7.8M590.9 99.3l7.8 7.8M590.9 107.1l7.8-7.8M591.4 99l7.8 7.8M591.4 106.8l7.8-7.8M591.9 98.7l7.8 7.8M591.9 106.5l7.8-7.8M592.4 98.4l7.8 7.8M592.4 106.2l7.8-7.8M593 98.1l7.8 7.8M593 105.9l7.8-7.8M593.5 97.8l7.8 7.8M593.5 105.6l7.8-7.8M594 97.5l7.8 7.8M594 105.3l7.8-7.8M594.5 97.2l7.8 7.8M594.5 105l7.8-7.8M595 97l7.8 7.8M595 104.8l7.8-7.8M595.5 96.7l7.8 7.8M595.5 104.5l7.8-7.8M596 96.4l7.8 7.8M596 104.2l7.8-7.8M596.5 96.1l7.8 7.8M596.5 103.9l7.8-7.8M597 95.8l7.8 7.8M597 103.6l7.8-7.8M597.5 95.5l7.8 7.8M597.5 103.3l7.8-7.8M597.9 95.2l7.8 7.8M597.9 103l7.8-7.8M598.4 94.9l7.8 7.8M598.4 102.7l7.8-7.8M598.9 94.6l7.8 7.8M598.9 102.4l7.8-7.8M599.4 94.3l7.8 7.8M599.4 102.1l7.8-7.8M599.9 94l7.8 7.8M599.9 101.8l7.8-7.8M600.4 93.8l7.8 7.8M600.4 101.6l7.8-7.8M600.8 93.5l7.8 7.8M600.8 101.3l7.8-7.8M601.3 93.2l7.8 7.8M601.3 101l7.8-7.8M601.8 92.9l7.8 7.8M601.8 100.7l7.8-7.8M602.3 92.6l7.8 7.8M602.3 100.4l7.8-7.8M602.7 92.3l7.8 7.8M602.7 100.1l7.8-7.8M603.2 92l7.8 7.8M603.2 99.8l7.8-7.8M603.7 91.7l7.8 7.8M603.7 99.5l7.8-7.8M604.1 91.5l7.8 7.8M604.1 99.3l7.8-7.8M604.6 91.2l7.8 7.8M604.6 99l7.8-7.8M605.1 90.9l7.8 7.8M605.1 98.7l7.8-7.8M605.5 90.6l7.8 7.8M605.5 98.4l7.8-7.8M606 90.3l7.8 7.8M606 98.1l7.8-7.8M606.4 90.1l7.8 7.8M606.4 97.9l7.8-7.8M606.9 89.8l7.8 7.8M606.9 97.6l7.8-7.8M607.3 89.5l7.8 7.8M607.3 97.3l7.8-7.8M607.8 89.2l7.8 7.8M607.8 97l7.8-7.8M608.2 89l7.8 7.8M608.2 96.8l7.8-7.8M608.7 88.7l7.8 7.8M608.7 96.5l7.8-7.8M609.1 88.4l7.8 7.8M609.1 96.2l7.8-7.8M609.6 88.2l7.8 7.8M609.6 96l7.8-7.8M610 87.9l7.8 7.8M610 95.7l7.8-7.8M610.5 87.6l7.8 7.8M610.5 95.4l7.8-7.8M610.9 87.4l7.8 7.8M610.9 95.2l7.8-7.8M611.3 87.1l7.8 7.8M611.3 94.9l7.8-7.8M611.8 86.8l7.8 7.8M611.8 94.6l7.8-7.8M612.2 86.6l7.8 7.8M612.2 94.4l7.8-7.8M612.6 86.3l7.8 7.8M612.6 94.1l7.8-7.8M613.1 86l7.8 7.8M613.1 93.8l7.8-7.8M613.5 85.8l7.8 7.8M613.5 93.6l7.8-7.8M613.9 85.5l7.8 7.8M613.9 93.3l7.8-7.8M614.3 85.3l7.8 7.8M614.3 93.1l7.8-7.8M614.8 85l7.8 7.8M614.8 92.8l7.8-7.8M615.2 84.8l7.8 7.8M615.2 92.6l7.8-7.8M615.6 84.6l7.8 7.8M615.6 92.4l7.8-7.8M616 84.3l7.8 7.8M616 92.1l7.8-7.8M616.5 84.1l7.8 7.8M616.5 91.9l7.8-7.8M616.9 83.8l7.8 7.8M616.9 91.6l7.8-7.8M617.3 83.6l7.8 7.8M617.3 91.4l7.8-7.8M617.7 83.4l7.8 7.8M617.7 91.2l7.8-7.8M618.1 83.2l7.8 7.8M618.1 91l7.8-7.8M618.5 82.9l7.8 7.8M618.5 90.7l7.8-7.8M618.9 82.7l7.8 7.8M618.9 90.5l7.8-7.8M619.3 82.5l7.8 7.8M619.3 90.3l7.8-7.8M619.7 82.3l7.8 7.8M619.7 90.1l7.8-7.8M620.2 82l7.8 7.8M620.2 89.8l7.8-7.8M620.6 81.8l7.8 7.8M620.6 89.6l7.8-7.8M621 81.6l7.8 7.8M621 89.4l7.8-7.8M621.4 81.4l7.8 7.8M621.4 89.2l7.8-7.8M621.9 81.1l7.8 7.8M621.9 88.9l7.8-7.8M622.4 80.9l7.8 7.8M622.4 88.7l7.8-7.8M622.9 80.6l7.8 7.8M622.9 88.4l7.8-7.8M623.3 80.3l7.8 7.8M623.3 88.1l7.8-7.8M623.8 80.1l7.8 7.8M623.8 87.9l7.8-7.8M624.3 79.8l7.8 7.8M624.3 87.6l7.8-7.8M624.8 79.6l7.8 7.8M624.8 87.4l7.8-7.8M625.3 79.3l7.8 7.8M625.3 87.1l7.8-7.8M625.8 79l7.8 7.8M625.8 86.8l7.8-7.8M626.3 78.8l7.8 7.8M626.3 86.6l7.8-7.8M626.7 78.5l7.8 7.8M626.7 86.3l7.8-7.8M627.2 78.3l7.8 7.8M627.2 86.1l7.8-7.8M627.7 78l7.8 7.8M627.7 85.8l7.8-7.8M628.2 77.8l7.8 7.8M628.2 85.6l7.8-7.8M628.6 77.5l7.8 7.8M628.6 85.3l7.8-7.8M629.1 77.3l7.8 7.8M629.1 85.1l7.8-7.8M629.6 77l7.8 7.8M629.6 84.8l7.8-7.8M630 76.8l7.8 7.8M630 84.6l7.8-7.8M630.5 76.5l7.8 7.8M630.5 84.3l7.8-7.8M631 76.3l7.8 7.8M631 84.1l7.8-7.8M631.4 76l7.8 7.8M631.4 83.8l7.8-7.8M631.9 75.8l7.8 7.8M631.9 83.6l7.8-7.8M632.3 75.6l7.8 7.8M632.3 83.4l7.8-7.8M632.8 75.3l7.8 7.8M632.8 83.1l7.8-7.8M633.3 75.1l7.8 7.8M633.3 82.9l7.8-7.8M633.7 74.8l7.8 7.8M633.7 82.6l7.8-7.8M634.2 74.6l7.8 7.8M634.2 82.4l7.8-7.8"/><path fill="none" stroke="#008000" stroke-width="1.1" d="M71.7 332.3h9v9h-9zM81.9 325.7h9v9h-9zM91.3 391.5h9v9h-9zM100.1 302.8h9v9h-9zM108.2 329.1h9v9h-9zM115.8 312.2h9v9h-9zM122.9 383.2h9v9h-9zM129.6 325.5h9v9h-9zM136 324.3h9v9h-9zM142 323.7h9v9h-9zM147.7 320.8h9v9h-9zM153.2 313.4h9v9h-9zM158.4 312h9v9h-9zM163.4 311.6h9v9h-9zM168.2 307.6h9v9h-9zM172.8 304.4h9v9h-9zM177.3 307.1h9v9h-9zM181.5 299h9v9h-9zM185.7 302.2h9v9h-9zM189.7 298.7h9v9h-9zM193.5 293.4h9v9h-9zM197.2 293.6h9v9h-9zM200.9 289.2h9v9h-9zM204.4 285.8h9v9h-9zM207.8 285.4h9v9h-9zM211.1 282.3h9v9h-9zM214.3 283.7h9v9h-9zM217.4 281h9v9h-9zM220.5 280.4h9v9h-9zM223.5 279.2h9v9h-9zM226.4 270.4h9v9h-9zM229.2 274.8h9v9h-9zM232 269.6h9v9h-9zM234.7 271.2h9v9h-9zM237.3 267.8h9v9h-9zM239.9 267.7h9v9h-9zM242.4 267.8h9v9h-9zM244.9 261.9h9v9h-9zM247.3 262.9h9v9h-9zM249.7 261.1h9v9h-9zM252 257.5h9v9h-9zM254.3 259.1h9v9h-9zM256.6 257.1h9v9h-9zM258.8 255.3h9v9h-9zM260.9 253.9h9v9h-9zM263 256.7h9v9h-9zM265.1 252h9v9h-9zM267.2 249.6h9v9h-9zM269.2 249.4h9v9h-9zM271.1 248.9h9v9h-9zM273.1 247.9h9v9h-9zM275 247.1h9v9h-9zM276.9 245.4h9v9h-9zM278.7 245.7h9v9h-9zM280.6 244h9v9h-9zM282.4 242.5h9v9h-9zM284.1 241.9h9v9h-9zM285.9 241.2h9v9h-9zM287.6 241h9v9h-9zM289.3 239.9h9v9h-9zM290.9 238.5h9v9h-9zM292.6 237.7h9v9h-9zM294.2 236.8h9v9h-9zM295.8 236.7h9v9h-9zM297.4 234.5h9v9h-9zM298.9 234h9v9h-9zM300.5 233.1h9v9h-9zM302 231.5h9v9h-9zM303.5 231h9v9h-9zM305 230.1h9v9h-9zM306.4 228.9h9v9h-9zM307.9 228.4h9v9h-9zM309.3 227.7h9v9h-9zM310.7 226.9h9v9h-9zM312.1 225.7h9v9h-9zM313.5 225.1h9v9h-9zM314.8 225h9v9h-9zM316.2 223.4h9v9h-9zM317.5 223.1h9v9h-9zM318.8 222.6h9v9h-9zM320.1 221.9h9v9h-9zM321.4 221.4h9v9h-9zM322.7 220.7h9v9h-9zM323.9 220.3h9v9h-9zM325.2 219.9h9v9h-9zM326.4 219.1h9v9h-9zM327.6 218.7h9v9h-9zM328.8 218.1h9v9h-9zM330 217.6h9v9h-9zM331.2 217.2h9v9h-9zM332.4 216.6h9v9h-9zM333.5 216.4h9v9h-9zM334.7 216.1h9v9h-9zM335.8 215.7h9v9h-9zM336.9 215.1h9v9h-9zM338.1 214.4h9v9h-9zM339.2 214.3h9v9h-9zM340.2 213.6h9v9h-9zM341.3 213.2h9v9h-9zM342.4 213h9v9h-9zM343.5 212.2h9v9h-9zM344.5 212h9v9h-9zM345.6 211.5h9v9h-9zM346.6 211h9v9h-9zM347.6 210.5h9v9h-9zM348.6 210.2h9v9h-9zM349.7 209.6h9v9h-9zM350.7 209.3h9v9h-9zM351.7 208.9h9v9h-9zM352.6 208.2h9v9h-9zM353.6 207.8h9v9h-9zM354.6 207.4h9v9h-9zM355.5 206.9h9v9h-9zM356.5 206.4h9v9h-9zM357.4 206.1h9v9h-9zM358.4 205.6h9v9h-9zM359.3 205.1h9v9h-9zM360.2 204.7h9v9h-9zM361.1 204.4h9v9h-9zM362 203.9h9v9h-9zM362.9 203.5h9v9h-9zM363.8 203.2h9v9h-9zM364.7 202.8h9v9h-9zM365.6 202.3h9v9h-9zM366.5 201.9h9v9h-9zM367.3 201.6h9v9h-9zM368.2 201.2h9v9h-9zM369.1 200.9h9v9h-9zM369.9 200.5h9v9h-9zM370.8 200.2h9v9h-9zM371.6 199.8h9v9h-9zM372.4 199.5h9v9h-9zM373.2 199.2h9v9h-9zM374.1 199h9v9h-9zM374.9 198.7h9v9h-9zM375.7 198.4h9v9h-9zM376.5 198.2h9v9h-9zM377.3 197.9h9v9h-9zM378.1 197.7h9v9h-9zM378.9 197.4h9v9h-9zM379.6 197.2h9v9h-9zM380.4 197h9v9h-9zM381.2 196.8h9v9h-9zM382 196.6h9v9h-9zM382.7 196.4h9v9h-9zM383.5 196.2h9v9h-9zM384.2 196h9v9h-9zM385 195.8h9v9h-9zM385.7 195.6h9v9h-9zM386.5 195.4h9v9h-9zM387.2 195.3h9v9h-9zM387.9 195.1h9v9h-9zM388.6 194.9h9v9h-9zM389.4 194.7h9v9h-9zM390.1 194.6h9v9h-9zM390.8 194.4h9v9h-9zM391.5 194.2h9v9h-9zM392.2 194h9v9h-9zM392.9 193.9h9v9h-9zM393.6 193.7h9v9h-9zM394.3 193.5h9v9h-9zM395 193.4h9v9h-9zM395.6 193.2h9v9h-9zM396.3 193h9v9h-9zM397 192.9h9v9h-9zM397.7 192.7h9v9h-9zM398.3 192.5h9v9h-9zM399 192.4h9v9h-9zM399.6 192.2h9v9h-9zM400.3 192h9v9h-9zM401 191.8h9v9h-9zM401.6 191.7h9v9h-9zM402.2 191.5h9v9h-9zM402.9 191.3h9v9h-9zM403.5 191.1h9v9h-9zM404.2 190.9h9v9h-9zM404.8 190.7h9v9h-9zM405.4 190.5h9v9h-9zM406 190.3h9v9h-9zM406.7 190.1h9v9h-9zM407.3 189.9h9v9h-9zM407.9 189.7h9v9h-9zM408.5 189.5h9v9h-9zM409.1 189.3h9v9h-9zM409.7 189.1h9v9h-9zM410.3 188.9h9v9h-9zM410.9 188.7h9v9h-9zM411.5 188.5h9v9h-9zM412.1 188.3h9v9h-9zM412.7 188.1h9v9h-9zM413.3 187.9h9v9h-9zM413.9 187.7h9v9h-9zM414.4 187.5h9v9h-9zM415 187.2h9v9h-9zM415.6 187h9v9h-9zM416.2 186.8h9v9h-9zM416.7 186.6h9v9h-9zM417.3 186.4h9v9h-9zM417.9 186.2h9v9h-9zM418.4 186h9v9h-9zM419 185.7h9v9h-9zM419.5 185.5h9v9h-9zM420.1 185.3h9v9h-9zM420.6 185.1h9v9h-9zM421.2 184.9h9v9h-9zM421.7 184.7h9v9h-9zM422.3 184.4h9v9h-9zM422.8 184.2h9v9h-9zM423.4 184h9v9h-9zM423.9 183.8h9v9h-9zM424.4 183.6h9v9h-9zM425 183.4h9v9h-9zM425.5 183.1h9v9h-9zM426 182.9h9v9h-9zM426.5 182.7h9v9h-9zM427.1 182.5h9v9h-9zM427.6 182.3h9v9h-9zM428.1 182h9v9h-9zM428.6 181.8h9v9h-9zM429.1 181.6h9v9h-9zM429.6 181.4h9v9h-9zM430.1 181.2h9v9h-9zM430.6 180.9h9v9h-9zM431.1 180.7h9v9h-9zM431.6 180.5h9v9h-9zM432.1 180.3h9v9h-9zM432.6 180.1h9v9h-9zM433.1 179.9h9v9h-9zM433.6 179.6h9v9h-9zM434.1 179.4h9v9h-9zM434.6 179.2h9v9h-9zM435.1 179h9v9h-9zM435.6 178.8h9v9h-9zM436.1 178.5h9v9h-9zM436.5 178.3h9v9h-9zM437 178.1h9v9h-9zM437.5 177.9h9v9h-9zM438 177.7h9v9h-9zM438.5 177.4h9v9h-9zM438.9 177.2h9v9h-9zM439.4 177h9v9h-9zM439.9 176.8h9v9h-9zM440.3 176.5h9v9h-9zM440.8 176.3h9v9h-9zM441.3 176.1h9v9h-9zM441.7 175.8h9v9h-9zM442.2 175.6h9v9h-9zM442.6 175.4h9v9h-9zM443.1 175.1h9v9h-9zM443.5 174.9h9v9h-9zM444 174.7h9v9h-9zM444.4 174.4h9v9h-9zM444.9 174.2h9v9h-9zM445.3 174h9v9h-9zM445.8 173.7h9v9h-9zM446.2 173.5h9v9h-9zM446.7 173.3h9v9h-9zM447.1 173h9v9h-9zM447.5 172.8h9v9h-9zM448 172.6h9v9h-9zM448.4 172.3h9v9h-9zM448.8 172.1h9v9h-9zM449.3 171.9h9v9h-9zM449.7 171.6h9v9h-9zM450.1 171.4h9v9h-9zM450.6 171.2h9v9h-9zM451 170.9h9v9h-9zM451.4 170.7h9v9h-9zM451.8 170.5h9v9h-9zM452.2 170.2h9v9h-9zM452.7 170h9v9h-9zM453.1 169.8h9v9h-9zM453.5 169.5h9v9h-9zM453.9 169.3h9v9h-9zM454.3 169.1h9v9h-9zM454.7 168.9h9v9h-9zM455.1 168.6h9v9h-9zM455.6 168.4h9v9h-9zM456 168.2h9v9h-9zM456.4 167.9h9v9h-9zM456.8 167.7h9v9h-9zM457.2 167.5h9v9h-9zM457.6 167.3h9v9h-9zM458 167h9v9h-9zM458.8 166.6h9v9h-9zM459.6 166.2h9v9h-9zM460.4 165.7h9v9h-9zM461.1 165.3h9v9h-9zM461.9 164.9h9v9h-9zM462.7 164.4h9v9h-9zM463.5 164h9v9h-9zM464.2 163.6h9v9h-9zM465 163.2h9v9h-9zM465.7 162.8h9v9h-9zM466.5 162.4h9v9h-9zM467.2 162h9v9h-9zM467.9 161.6h9v9h-9zM468.7 161.2h9v9h-9zM469.4 160.8h9v9h-9zM470.1 160.4h9v9h-9zM470.8 160h9v9h-9zM471.6 159.6h9v9h-9zM472.3 159.2h9v9h-9zM473 158.8h9v9h-9zM473.7 158.4h9v9h-9zM474.4 158h9v9h-9zM475.1 157.6h9v9h-9zM475.8 157.3h9v9h-9zM476.4 156.9h9v9h-9zM477.1 156.5h9v9h-9zM477.8 156.2h9v9h-9zM478.5 155.8h9v9h-9zM479.1 155.4h9v9h-9zM479.8 155.1h9v9h-9zM480.5 154.7h9v9h-9zM481.1 154.4h9v9h-9zM481.8 154h9v9h-9zM482.4 153.7h9v9h-9zM483.1 153.3h9v9h-9zM483.7 153h9v9h-9zM484.4 152.6h9v9h-9zM485 152.3h9v9h-9zM485.6 151.9h9v9h-9zM486.3 151.6h9v9h-9zM486.9 151.2h9v9h-9zM487.5 150.8h9v9h-9zM488.1 150.5h9v9h-9zM488.8 150.1h9v9h-9zM489.4 149.7h9v9h-9zM490 149.3h9v9h-9zM490.6 149h9v9h-9zM491.2 148.6h9v9h-9zM491.8 148.2h9v9h-9zM492.4 147.9h9v9h-9zM493 147.5h9v9h-9zM493.6 147.1h9v9h-9zM494.2 146.8h9v9h-9zM494.8 146.4h9v9h-9zM495.3 146h9v9h-9zM495.9 145.7h9v9h-9zM496.5 145.3h9v9h-9zM497.1 144.9h9v9h-9zM497.7 144.6h9v9h-9zM498.2 144.2h9v9h-9zM498.8 143.8h9v9h-9zM499.4 143.4h9v9h-9zM499.9 143.1h9v9h-9zM500.5 142.7h9v9h-9zM501 142.3h9v9h-9zM501.6 142h9v9h-9zM502.1 141.6h9v9h-9zM502.7 141.3h9v9h-9zM503.2 140.9h9v9h-9zM503.8 140.6h9v9h-9zM504.3 140.2h9v9h-9zM504.8 139.9h9v9h-9zM505.4 139.5h9v9h-9zM505.9 139.2h9v9h-9zM506.4 138.8h9v9h-9zM507 138.5h9v9h-9zM507.5 138.2h9v9h-9zM508 137.8h9v9h-9zM508.5 137.5h9v9h-9zM509.1 137.2h9v9h-9zM509.6 136.9h9v9h-9zM510.1 136.5h9v9h-9zM510.6 136.2h9v9h-9zM511.1 135.9h9v9h-9zM511.6 135.6h9v9h-9zM512.1 135.3h9v9h-9zM512.6 135h9v9h-9zM513.1 134.7h9v9h-9zM513.6 134.4h9v9h-9zM514.1 134.1h9v9h-9zM514.6 133.8h9v9h-9zM515.1 133.5h9v9h-9zM515.6 133.2h9v9h-9zM516.1 132.9h9v9h-9zM516.6 132.7h9v9h-9zM517.1 132.4h9v9h-9zM517.6 132.1h9v9h-9zM518 131.9h9v9h-9zM518.5 131.6h9v9h-9zM519 131.3h9v9h-9zM519.5 131.1h9v9h-9zM519.9 130.8h9v9h-9zM520.4 130.6h9v9h-9zM520.9 130.3h9v9h-9zM521.3 130.1h9v9h-9zM521.8 129.8h9v9h-9zM522.3 129.6h9v9h-9zM522.7 129.3h9v9h-9zM523.2 129.1h9v9h-9zM523.7 128.8h9v9h-9zM524.1 128.6h9v9h-9zM524.6 128.3h9v9h-9zM525 128.1h9v9h-9zM525.5 127.9h9v9h-9zM525.9 127.6h9v9h-9zM526.4 127.4h9v9h-9zM526.8 127.1h9v9h-9zM527.3 126.9h9v9h-9zM527.7 126.7h9v9h-9zM528.1 126.4h9v9h-9zM528.6 126.2h9v9h-9zM529 126h9v9h-9zM529.5 125.7h9v9h-9zM529.9 125.5h9v9h-9zM530.3 125.3h9v9h-9zM530.8 125h9v9h-9zM531.2 124.8h9v9h-9zM531.6 124.6h9v9h-9zM532 124.3h9v9h-9zM532.5 124.1h9v9h-9zM532.9 123.9h9v9h-9zM533.3 123.7h9v9h-9zM533.7 123.4h9v9h-9zM534.2 123.2h9v9h-9zM534.6 123h9v9h-9zM535 122.8h9v9h-9zM535.4 122.5h9v9h-9zM535.8 122.3h9v9h-9zM536.2 122.1h9v9h-9zM536.6 121.9h9v9h-9zM537 121.7h9v9h-9zM537.5 121.5h9v9h-9zM537.9 121.2h9v9h-9zM538.3 121h9v9h-9zM538.7 120.8h9v9h-9zM539.1 120.6h9v9h-9zM539.5 120.4h9v9h-9zM540.1 120.1h9v9h-9zM540.7 119.8h9v9h-9zM541.3 119.4h9v9h-9zM541.8 119.1h9v9h-9zM542.4 118.8h9v9h-9zM543 118.5h9v9h-9zM543.6 118.2h9v9h-9zM544.2 117.9h9v9h-9zM544.7 117.6h9v9h-9zM545.3 117.3h9v9h-9zM545.9 117h9v9h-9zM546.5 116.7h9v9h-9zM547 116.4h9v9h-9zM547.6 116.1h9v9h-9zM548.1 115.8h9v9h-9zM548.7 115.5h9v9h-9zM549.2 115.3h9v9h-9zM549.8 115h9v9h-9zM550.3 114.7h9v9h-9zM550.9 114.4h9v9h-9zM551.4 114.1h9v9h-9zM552 113.9h9v9h-9zM552.5 113.6h9v9h-9zM553.1 113.3h9v9h-9zM553.6 113h9v9h-9zM554.1 112.8h9v9h-9zM554.6 112.5h9v9h-9zM555.2 112.2h9v9h-9zM555.7 112h9v9h-9zM556.2 111.7h9v9h-9zM556.7 111.5h9v9h-9zM557.2 111.2h9v9h-9zM557.8 110.9h9v9h-9zM558.3 110.7h9v9h-9zM558.8 110.4h9v9h-9zM559.3 110.2h9v9h-9zM559.8 109.9h9v9h-9zM560.3 109.7h9v9h-9zM560.8 109.4h9v9h-9zM561.3 109.2h9v9h-9zM561.8 109h9v9h-9zM562.3 108.7h9v9h-9zM562.8 108.5h9v9h-9zM563.3 108.2h9v9h-9zM563.8 108h9v9h-9zM564.3 107.7h9v9h-9zM564.7 107.5h9v9h-9zM565.2 107.3h9v9h-9zM565.7 107h9v9h-9zM566.2 106.8h9v9h-9zM566.7 106.6h9v9h-9zM567.1 106.3h9v9h-9zM567.6 106.1h9v9h-9zM568.1 105.9h9v9h-9zM568.5 105.6h9v9h-9zM569 105.4h9v9h-9zM569.5 105.2h9v9h-9zM569.9 104.9h9v9h-9zM570.4 104.7h9v9h-9zM570.9 104.5h9v9h-9zM571.3 104.3h9v9h-9zM571.8 104h9v9h-9zM572.2 103.8h9v9h-9zM572.7 103.6h9v9h-9zM573.1 103.4h9v9h-9zM573.6 103.1h9v9h-9zM574 102.9h9v9h-9zM574.5 102.7h9v9h-9zM574.9 102.5h9v9h-9zM575.4 102.2h9v9h-9zM575.8 102h9v9h-9zM576.3 101.8h9v9h-9zM576.7 101.6h9v9h-9zM577.1 101.3h9v9h-9zM577.6 101.1h9v9h-9zM578 100.9h9v9h-9zM578.4 100.7h9v9h-9zM578.9 100.5h9v9h-9zM579.3 100.2h9v9h-9zM579.7 100h9v9h-9zM580.1 99.8h9v9h-9zM580.6 99.6h9v9h-9zM581 99.4h9v9h-9zM581.4 99.1h9v9h-9zM581.8 98.9h9v9h-9zM582.2 98.7h9v9h-9zM582.7 98.5h9v9h-9zM583.1 98.3h9v9h-9zM583.5 98h9v9h-9zM583.9 97.8h9v9h-9zM584.3 97.6h9v9h-9zM584.7 97.4h9v9h-9zM585.1 97.2h9v9h-9zM585.5 97h9v9h-9zM585.9 96.7h9v9h-9zM586.3 96.5h9v9h-9zM586.7 96.3h9v9h-9zM587.1 96.1h9v9h-9zM587.7 95.8h9v9h-9zM588.2 95.5h9v9h-9zM588.7 95.2h9v9h-9zM589.3 95h9v9h-9zM589.8 94.7h9v9h-9zM590.3 94.4h9v9h-9zM590.8 94.1h9v9h-9zM591.3 93.8h9v9h-9zM591.8 93.5h9v9h-9zM592.4 93.3h9v9h-9zM592.9 93h9v9h-9zM593.4 92.7h9v9h-9zM593.9 92.4h9v9h-9zM594.4 92.1h9v9h-9zM594.9 91.9h9v9h-9zM595.4 91.6h9v9h-9zM595.9 91.3h9v9h-9zM596.4 91h9v9h-9zM596.9 90.7h9v9h-9zM597.3 90.4h9v9h-9zM597.8 90.2h9v9h-9zM598.3 89.9h9v9h-9zM598.8 89.6h9v9h-9zM599.3 89.3h9v9h-9zM599.8 89h9v9h-9zM600.2 88.7h9v9h-9zM600.7 88.4h9v9h-9zM601.2 88.2h9v9h-9zM601.7 87.9h9v9h-9zM602.1 87.6h9v9h-9zM602.6 87.3h9v9h-9zM603.1 87h9v9h-9zM603.5 86.8h9v9h-9zM604 86.5h9v9h-9zM604.5 86.2h9v9h-9zM604.9 85.9h9v9h-9zM605.4 85.7h9v9h-9zM605.8 85.4h9v9h-9zM606.3 85.1h9v9h-9zM606.7 84.9h9v9h-9zM607.2 84.6h9v9h-9zM607.6 84.3h9v9h-9zM608.1 84.1h9v9h-9zM608.5 83.8h9v9h-9zM609 83.5h9v9h-9zM609.4 83.3h9v9h-9zM609.9 83h9v9h-9zM610.3 82.7h9v9h-9zM610.7 82.5h9v9h-9zM611.2 82.2h9v9h-9zM611.6 82h9v9h-9zM612 81.7h9v9h-9zM612.5 81.5h9v9h-9zM612.9 81.2h9v9h-9zM613.3 81h9v9h-9zM613.7 80.7h9v9h-9zM614.2 80.5h9v9h-9zM614.6 80.2h9v9h-9zM615 80h9v9h-9zM615.4 79.8h9v9h-9zM615.9 79.5h9v9h-9zM616.3 79.3h9v9h-9zM616.7 79.1h9v9h-9zM617.1 78.9h9v9h-9zM617.5 78.6h9v9h-9zM617.9 78.4h9v9h-9zM618.3 78.2h9v9h-9zM618.7 78h9v9h-9zM619.1 77.8h9v9h-9zM619.6 77.6h9v9h-9zM620 77.3h9v9h-9zM620.4 77.1h9v9h-9zM620.8 76.9h9v9h-9zM621.3 76.7h9v9h-9zM621.8 76.4h9v9h-9zM622.3 76.2h9v9h-9zM622.7 75.9h9v9h-9zM623.2 75.6h9v9h-9zM623.7 75.4h9v9h-9zM624.2 75.1h9v9h-9zM624.7 74.9h9v9h-9zM625.2 74.6h9v9h-9zM625.7 74.4h9v9h-9zM626.1 74.1h9v9h-9zM626.6 73.9h9v9h-9zM627.1 73.6h9v9h-9zM627.6 73.4h9v9h-9zM628 73.1h9v9h-9zM628.5 72.9h9v9h-9zM629 72.7h9v9h-9zM629.4 72.4h9v9h-9zM629.9 72.2h9v9h-9zM630.4 71.9h9v9h-9zM630.8 71.7h9v9h-9zM631.3 71.5h9v9h-9zM631.7 71.2h9v9h-9zM632.2 71h9v9h-9zM632.7 70.8h9v9h-9zM633.1 70.5h9v9h-9zM633.6 70.3h9v9h-9z"/><path fill="none" stroke="#ff0000" stroke-width="1.1" d="M70.6 258.6a5.6 5.6 0 1 0 11.2 0a5.6 5.6 0 1 0-11.2 0M80.8 323.2a5.6 5.6 0 1 0 11.2 0a5.6 5.6 0 1 0-11.2 0M90.2 341.7a5.6 5.6 0 1 0 11.2 0a5.6 5.6 0 1 0-11.2 0M99 242.3a5.6 5.6 0 1 0 11.2 0a5.6 5.6 0 1 0-11.2 0M107.1 273.2a5.6 5.6 0 1 0 11.2 0a5.6 5.6 0 1 0-11.2 0M114.7 233.2a5.6 5.6 0 1 0 11.2 0a5.6 5.6 0 1 0-11.2 0M121.8 168a5.6 5.6 0 1 0 11.2 0a5.6 5.6 0 1 0-11.2 0M128.5 289a5.6 5.6 0 1 0 11.2 0a5.6 5.6 0 1 0-11.2 0M134.9 308.5a5.6 5.6 0 1 0 11.2 0a5.6 5.6 0 1 0-11.2 0M140.9 319a5.6 5.6 0 1 0 11.2 0a5.6 5.6 0 1 0-11.2 0M146.6 323.5a5.6 5.6 0 1 0 11.2 0a5.6 5.6 0 1 0-11.2 0M152.1 288.8a5.6 5.6 0 1 0 11.2 0a5.6 5.6 0 1 0-11.2 0M157.3 291.8a5.6 5.6 0 1 0 11.2 0a5.6 5.6 0 1 0-11.2 0M162.3 419.8a5.6 5.6 0 1 0 11.2 0a5.6 5.6 0 1 0-11.2 0M167.1 282a5.6 5.6 0 1 0 11.2 0a5.6 5.6 0 1 0-11.2 0M171.7 297.4a5.6 5.6 0 1 0 11.2 0a5.6 5.6 0 1 0-11.2 0M176.2 282.5a5.6 5.6 0 1 0 11.2 0a5.6 5.6 0 1 0-11.2 0M180.4 284.8a5.6 5.6 0 1 0 11.2 0a5.6 5.6 0 1 0-11.2 0M184.6 282.5a5.6 5.6 0 1 0 11.2 0a5.6 5.6 0 1 0-11.2 0M188.6 290a5.6 5.6 0 1 0 11.2 0a5.6 5.6 0 1 0-11.2 0M192.4 285.4a5.6 5.6 0 1 0 11.2 0a5.6 5.6 0 1 0-11.2 0M196.1 295.2a5.6 5.6 0 1 0 11.2 0a5.6 5.6 0 1 0-11.2 0M199.8 272.2a5.6 5.6 0 1 0 11.2 0a5.6 5.6 0 1 0-11.2 0M203.3 290a5.6 5.6 0 1 0 11.2 0a5.6 5.6 0 1 0-11.2 0M206.7 285a5.6 5.6 0 1 0 11.2 0a5.6 5.6 0 1 0-11.2 0M210 307.8a5.6 5.6 0 1 0 11.2 0a5.6 5.6 0 1 0-11.2 0M213.2 284.8a5.6 5.6 0 1 0 11.2 0a5.6 5.6 0 1 0-11.2 0M216.3 303.8a5.6 5.6 0 1 0 11.2 0a5.6 5.6 0 1 0-11.2 0M219.4 288.3a5.6 5.6 0 1 0 11.2 0a5.6 5.6 0 1 0-11.2 0M222.4 281.6a5.6 5.6 0 1 0 11.2 0a5.6 5.6 0 1 0-11.2 0M225.3 285.5a5.6 5.6 0 1 0 11.2 0a5.6 5.6 0 1 0-11.2 0M228.1 278.9a5.6 5.6 0 1 0 11.2 0a5.6 5.6 0 1 0-11.2 0M230.9 279.8a5.6 5.6 0 1 0 11.2 0a5.6 5.6 0 1 0-11.2 0M233.6 277a5.6 5.6 0 1 0 11.2 0a5.6 5.6 0 1 0-11.2 0M236.2 277.8a5.6 5.6 0 1 0 11.2 0a5.6 5.6 0 1 0-11.2 0M238.8 275.9a5.6 5.6 0 1 0 11.2 0a5.6 5.6 0 1 0-11.2 0M241.3 273.6a5.6 5.6 0 1 0 11.2 0a5.6 5.6 0 1 0-11.2 0M243.8 270.5a5.6 5.6 0 1 0 11.2 0a5.6 5.6 0 1 0-11.2 0M246.2 270.6a5.6 5.6 0 1 0 11.2 0a5.6 5.6 0 1 0-11.2 0M248.6 271a5.6 5.6 0 1 0 11.2 0a5.6 5.6 0 1 0-11.2 0M250.9 268.2a5.6 5.6 0 1 0 11.2 0a5.6 5.6 0 1 0-11.2 0M253.2 267.7a5.6 5.6 0 1 0 11.2 0a5.6 5.6 0 1 0-11.2 0M255.5 265.5a5.6 5.6 0 1 0 11.2 0a5.6 5.6 0 1 0-11.2 0M257.7 263.3a5.6 5.6 0 1 0 11.2 0a5.6 5.6 0 1 0-11.2 0M259.8 263.4a5.6 5.6 0 1 0 11.2 0a5.6 5.6 0 1 0-11.2 0M261.9 262a5.6 5.6 0 1 0 11.2 0a5.6 5.6 0 1 0-11.2 0M264 260.1a5.6 5.6 0 1 0 11.2 0a5.6 5.6 0 1 0-11.2 0M266.1 258.8a5.6 5.6 0 1 0 11.2 0a5.6 5.6 0 1 0-11.2 0M268.1 257.7a5.6 5.6 0 1 0 11.2 0a5.6 5.6 0 1 0-11.2 0M270 255.9a5.6 5.6 0 1 0 11.2 0a5.6 5.6 0 1 0-11.2 0M272 254.9a5.6 5.6 0 1 0 11.2 0a5.6 5.6 0 1 0-11.2 0M273.9 253.4a5.6 5.6 0 1 0 11.2 0a5.6 5.6 0 1 0-11.2 0M275.8 251.4a5.6 5.6 0 1 0 11.2 0a5.6 5.6 0 1 0-11.2 0M277.6 250.9a5.6 5.6 0 1 0 11.2 0a5.6 5.6 0 1 0-11.2 0M279.5 249.6a5.6 5.6 0 1 0 11.2 0a5.6 5.6 0 1 0-11.2 0M281.3 248.4a5.6 5.6 0 1 0 11.2 0a5.6 5.6 0 1 0-11.2 0M283 247.6a5.6 5.6 0 1 0 11.2 0a5.6 5.6 0 1 0-11.2 0M284.8 246.4a5.6 5.6 0 1 0 11.2 0a5.6 5.6 0 1 0-11.2 0M286.5 245.6a5.6 5.6 0 1 0 11.2 0a5.6 5.6 0 1 0-11.2 0M288.2 244.8a5.6 5.6 0 1 0 11.2 0a5.6 5.6 0 1 0-11.2 0M289.8 243.7a5.6 5.6 0 1 0 11.2 0a5.6 5.6 0 1 0-11.2 0M291.5 242.5a5.6 5.6 0 1 0 11.2 0a5.6 5.6 0 1 0-11.2 0M293.1 241.8a5.6 5.6 0 1 0 11.2 0a5.6 5.6 0 1 0-11.2 0M294.7 241.2a5.6 5.6 0 1 0 11.2 0a5.6 5.6 0 1 0-11.2 0M296.3 240.2a5.6 5.6 0 1 0 11.2 0a5.6 5.6 0 1 0-11.2 0M297.8 239.3a5.6 5.6 0 1 0 11.2 0a5.6 5.6 0 1 0-11.2 0M299.4 238.6a5.6 5.6 0 1 0 11.2 0a5.6 5.6 0 1 0-11.2 0M300.9 237.9a5.6 5.6 0 1 0 11.2 0a5.6 5.6 0 1 0-11.2 0M302.4 237.1a5.6 5.6 0 1 0 11.2 0a5.6 5.6 0 1 0-11.2 0M303.9 236.4a5.6 5.6 0 1 0 11.2 0a5.6 5.6 0 1 0-11.2 0M305.3 235.6a5.6 5.6 0 1 0 11.2 0a5.6 5.6 0 1 0-11.2 0M306.8 234.9a5.6 5.6 0 1 0 11.2 0a5.6 5.6 0 1 0-11.2 0M308.2 234.2a5.6 5.6 0 1 0 11.2 0a5.6 5.6 0 1 0-11.2 0M309.6 233.6a5.6 5.6 0 1 0 11.2 0a5.6 5.6 0 1 0-11.2 0M311 232.8a5.6 5.6 0 1 0 11.2 0a5.6 5.6 0 1 0-11.2 0M312.4 232.3a5.6 5.6 0 1 0 11.2 0a5.6 5.6 0 1 0-11.2 0M313.7 231.6a5.6 5.6 0 1 0 11.2 0a5.6 5.6 0 1 0-11.2 0M315.1 231.1a5.6 5.6 0 1 0 11.2 0a5.6 5.6 0 1 0-11.2 0M316.4 230.4a5.6 5.6 0 1 0 11.2 0a5.6 5.6 0 1 0-11.2 0M317.7 229.8a5.6 5.6 0 1 0 11.2 0a5.6 5.6 0 1 0-11.2 0M319 229.2a5.6 5.6 0 1 0 11.2 0a5.6 5.6 0 1 0-11.2 0M320.3 228.6a5.6 5.6 0 1 0 11.2 0a5.6 5.6 0 1 0-11.2 0M321.6 228a5.6 5.6 0 1 0 11.2 0a5.6 5.6 0 1 0-11.2 0M322.8 227.4a5.6 5.6 0 1 0 11.2 0a5.6 5.6 0 1 0-11.2 0M324.1 226.9a5.6 5.6 0 1 0 11.2 0a5.6 5.6 0 1 0-11.2 0M325.3 226.3a5.6 5.6 0 1 0 11.2 0a5.6 5.6 0 1 0-11.2 0M326.5 225.7a5.6 5.6 0 1 0 11.2 0a5.6 5.6 0 1 0-11.2 0M327.7 225.3a5.6 5.6 0 1 0 11.2 0a5.6 5.6 0 1 0-11.2 0M328.9 224.8a5.6 5.6 0 1 0 11.2 0a5.6 5.6 0 1 0-11.2 0M330.1 224.3a5.6 5.6 0 1 0 11.2 0a5.6 5.6 0 1 0-11.2 0M331.3 223.8a5.6 5.6 0 1 0 11.2 0a5.6 5.6 0 1 0-11.2 0M332.4 223.4a5.6 5.6 0 1 0 11.2 0a5.6 5.6 0 1 0-11.2 0M333.6 222.8a5.6 5.6 0 1 0 11.2 0a5.6 5.6 0 1 0-11.2 0M334.7 222.4a5.6 5.6 0 1 0 11.2 0a5.6 5.6 0 1 0-11.2 0M335.8 221.9a5.6 5.6 0 1 0 11.2 0a5.6 5.6 0 1 0-11.2 0M337 221.5a5.6 5.6 0 1 0 11.2 0a5.6 5.6 0 1 0-11.2 0M338.1 221a5.6 5.6 0 1 0 11.2 0a5.6 5.6 0 1 0-11.2 0M339.1 220.6a5.6 5.6 0 1 0 11.2 0a5.6 5.6 0 1 0-11.2 0M340.2 220.1a5.6 5.6 0 1 0 11.2 0a5.6 5.6 0 1 0-11.2 0M341.3 219.6a5.6 5.6 0 1 0 11.2 0a5.6 5.6 0 1 0-11.2 0M342.4 219.2a5.6 5.6 0 1 0 11.2 0a5.6 5.6 0 1 0-11.2 0M343.4 218.7a5.6 5.6 0 1 0 11.2 0a5.6 5.6 0 1 0-11.2 0M344.5 218.2a5.6 5.6 0 1 0 11.2 0a5.6 5.6 0 1 0-11.2 0M345.5 217.6a5.6 5.6 0 1 0 11.2 0a5.6 5.6 0 1 0-11.2 0M346.5 217.1a5.6 5.6 0 1 0 11.2 0a5.6 5.6 0 1 0-11.2 0M347.5 216.5a5.6 5.6 0 1 0 11.2 0a5.6 5.6 0 1 0-11.2 0M348.6 215.9a5.6 5.6 0 1 0 11.2 0a5.6 5.6 0 1 0-11.2 0M349.6 215.3a5.6 5.6 0 1 0 11.2 0a5.6 5.6 0 1 0-11.2 0M350.6 214.7a5.6 5.6 0 1 0 11.2 0a5.6 5.6 0 1 0-11.2 0M351.5 214.1a5.6 5.6 0 1 0 11.2 0a5.6 5.6 0 1 0-11.2 0M352.5 213.5a5.6 5.6 0 1 0 11.2 0a5.6 5.6 0 1 0-11.2 0M353.5 212.8a5.6 5.6 0 1 0 11.2 0a5.6 5.6 0 1 0-11.2 0M354.4 212.2a5.6 5.6 0 1 0 11.2 0a5.6 5.6 0 1 0-11.2 0M355.4 211.6a5.6 5.6 0 1 0 11.2 0a5.6 5.6 0 1 0-11.2 0M356.3 211a5.6 5.6 0 1 0 11.2 0a5.6 5.6 0 1 0-11.2 0M357.3 210.5a5.6 5.6 0 1 0 11.2 0a5.6 5.6 0 1 0-11.2 0M358.2 209.9a5.6 5.6 0 1 0 11.2 0a5.6 5.6 0 1 0-11.2 0M359.1 209.4a5.6 5.6 0 1 0 11.2 0a5.6 5.6 0 1 0-11.2 0M360 208.9a5.6 5.6 0 1 0 11.2 0a5.6 5.6 0 1 0-11.2 0M360.9 208.4a5.6 5.6 0 1 0 11.2 0a5.6 5.6 0 1 0-11.2 0M361.8 207.9a5.6 5.6 0 1 0 11.2 0a5.6 5.6 0 1 0-11.2 0M362.7 207.5a5.6 5.6 0 1 0 11.2 0a5.6 5.6 0 1 0-11.2 0M363.6 207.1a5.6 5.6 0 1 0 11.2 0a5.6 5.6 0 1 0-11.2 0M364.5 206.8a5.6 5.6 0 1 0 11.2 0a5.6 5.6 0 1 0-11.2 0M365.4 206.4a5.6 5.6 0 1 0 11.2 0a5.6 5.6 0 1 0-11.2 0M366.2 206.1a5.6 5.6 0 1 0 11.2 0a5.6 5.6 0 1 0-11.2 0M367.1 205.9a5.6 5.6 0 1 0 11.2 0a5.6 5.6 0 1 0-11.2 0M368 205.6a5.6 5.6 0 1 0 11.2 0a5.6 5.6 0 1 0-11.2 0M368.8 205.3a5.6 5.6 0 1 0 11.2 0a5.6 5.6 0 1 0-11.2 0M369.7 205.1a5.6 5.6 0 1 0 11.2 0a5.6 5.6 0 1 0-11.2 0M370.5 204.9a5.6 5.6 0 1 0 11.2 0a5.6 5.6 0 1 0-11.2 0M371.3 204.6a5.6 5.6 0 1 0 11.2 0a5.6 5.6 0 1 0-11.2 0M372.1 204.4a5.6 5.6 0 1 0 11.2 0a5.6 5.6 0 1 0-11.2 0M373 204.2a5.6 5.6 0 1 0 11.2 0a5.6 5.6 0 1 0-11.2 0M373.8 203.9a5.6 5.6 0 1 0 11.2 0a5.6 5.6 0 1 0-11.2 0M374.6 203.7a5.6 5.6 0 1 0 11.2 0a5.6 5.6 0 1 0-11.2 0M375.4 203.5a5.6 5.6 0 1 0 11.2 0a5.6 5.6 0 1 0-11.2 0M376.2 203.2a5.6 5.6 0 1 0 11.2 0a5.6 5.6 0 1 0-11.2 0M377 203a5.6 5.6 0 1 0 11.2 0a5.6 5.6 0 1 0-11.2 0M377.8 202.7a5.6 5.6 0 1 0 11.2 0a5.6 5.6 0 1 0-11.2 0M378.5 202.4a5.6 5.6 0 1 0 11.2 0a5.6 5.6 0 1 0-11.2 0M379.3 202.1a5.6 5.6 0 1 0 11.2 0a5.6 5.6 0 1 0-11.2 0M380.1 201.9a5.6 5.6 0 1 0 11.2 0a5.6 5.6 0 1 0-11.2 0M380.9 201.6a5.6 5.6 0 1 0 11.2 0a5.6 5.6 0 1 0-11.2 0M381.6 201.3a5.6 5.6 0 1 0 11.2 0a5.6 5.6 0 1 0-11.2 0M382.4 201a5.6 5.6 0 1 0 11.2 0a5.6 5.6 0 1 0-11.2 0M383.1 200.7a5.6 5.6 0 1 0 11.2 0a5.6 5.6 0 1 0-11.2 0M383.9 200.4a5.6 5.6 0 1 0 11.2 0a5.6 5.6 0 1 0-11.2 0M384.6 200.1a5.6 5.6 0 1 0 11.2 0a5.6 5.6 0 1 0-11.2 0M385.4 199.8a5.6 5.6 0 1 0 11.2 0a5.6 5.6 0 1 0-11.2 0M386.1 199.6a5.6 5.6 0 1 0 11.2 0a5.6 5.6 0 1 0-11.2 0M386.8 199.3a5.6 5.6 0 1 0 11.2 0a5.6 5.6 0 1 0-11.2 0M387.5 199a5.6 5.6 0 1 0 11.2 0a5.6 5.6 0 1 0-11.2 0M388.3 198.8a5.6 5.6 0 1 0 11.2 0a5.6 5.6 0 1 0-11.2 0M389 198.5a5.6 5.6 0 1 0 11.2 0a5.6 5.6 0 1 0-11.2 0M389.7 198.3a5.6 5.6 0 1 0 11.2 0a5.6 5.6 0 1 0-11.2 0M390.4 198.1a5.6 5.6 0 1 0 11.2 0a5.6 5.6 0 1 0-11.2 0M391.1 197.9a5.6 5.6 0 1 0 11.2 0a5.6 5.6 0 1 0-11.2 0M391.8 197.6a5.6 5.6 0 1 0 11.2 0a5.6 5.6 0 1 0-11.2 0M392.5 197.4a5.6 5.6 0 1 0 11.2 0a5.6 5.6 0 1 0-11.2 0M393.2 197.2a5.6 5.6 0 1 0 11.2 0a5.6 5.6 0 1 0-11.2 0M393.9 197a5.6 5.6 0 1 0 11.2 0a5.6 5.6 0 1 0-11.2 0M394.5 196.8a5.6 5.6 0 1 0 11.2 0a5.6 5.6 0 1 0-11.2 0M395.2 196.6a5.6 5.6 0 1 0 11.2 0a5.6 5.6 0 1 0-11.2 0M395.9 196.5a5.6 5.6 0 1 0 11.2 0a5.6 5.6 0 1 0-11.2 0M396.6 196.3a5.6 5.6 0 1 0 11.2 0a5.6 5.6 0 1 0-11.2 0M397.2 196.1a5.6 5.6 0 1 0 11.2 0a5.6 5.6 0 1 0-11.2 0M397.9 195.9a5.6 5.6 0 1 0 11.2 0a5.6 5.6 0 1 0-11.2 0M398.5 195.7a5.6 5.6 0 1 0 11.2 0a5.6 5.6 0 1 0-11.2 0M399.2 195.5a5.6 5.6 0 1 0 11.2 0a5.6 5.6 0 1 0-11.2 0M399.9 195.3a5.6 5.6 0 1 0 11.2 0a5.6 5.6 0 1 0-11.2 0M400.5 195.2a5.6 5.6 0 1 0 11.2 0a5.6 5.6 0 1 0-11.2 0M401.1 195a5.6 5.6 0 1 0 11.2 0a5.6 5.6 0 1 0-11.2 0M401.8 194.8a5.6 5.6 0 1 0 11.2 0a5.6 5.6 0 1 0-11.2 0M402.4 194.6a5.6 5.6 0 1 0 11.2 0a5.6 5.6 0 1 0-11.2 0M403.1 194.4a5.6 5.6 0 1 0 11.2 0a5.6 5.6 0 1 0-11.2 0M403.7 194.2a5.6 5.6 0 1 0 11.2 0a5.6 5.6 0 1 0-11.2 0M404.3 194a5.6 5.6 0 1 0 11.2 0a5.6 5.6 0 1 0-11.2 0M404.9 193.8a5.6 5.6 0 1 0 11.2 0a5.6 5.6 0 1 0-11.2 0M405.6 193.6a5.6 5.6 0 1 0 11.2 0a5.6 5.6 0 1 0-11.2 0M406.2 193.4a5.6 5.6 0 1 0 11.2 0a5.6 5.6 0 1 0-11.2 0M406.8 193.3a5.6 5.6 0 1 0 11.2 0a5.6 5.6 0 1 0-11.2 0M407.4 193.1a5.6 5.6 0 1 0 11.2 0a5.6 5.6 0 1 0-11.2 0M408 192.9a5.6 5.6 0 1 0 11.2 0a5.6 5.6 0 1 0-11.2 0M408.6 192.7a5.6 5.6 0 1 0 11.2 0a5.6 5.6 0 1 0-11.2 0M409.2 192.5a5.6 5.6 0 1 0 11.2 0a5.6 5.6 0 1 0-11.2 0M409.8 192.3a5.6 5.6 0 1 0 11.2 0a5.6 5.6 0 1 0-11.2 0M410.4 192.1a5.6 5.6 0 1 0 11.2 0a5.6 5.6 0 1 0-11.2 0M411 192a5.6 5.6 0 1 0 11.2 0a5.6 5.6 0 1 0-11.2 0M411.6 191.8a5.6 5.6 0 1 0 11.2 0a5.6 5.6 0 1 0-11.2 0M412.2 191.6a5.6 5.6 0 1 0 11.2 0a5.6 5.6 0 1 0-11.2 0M412.8 191.4a5.6 5.6 0 1 0 11.2 0a5.6 5.6 0 1 0-11.2 0M413.3 191.2a5.6 5.6 0 1 0 11.2 0a5.6 5.6 0 1 0-11.2 0M413.9 191.1a5.6 5.6 0 1 0 11.2 0a5.6 5.6 0 1 0-11.2 0M414.5 190.9a5.6 5.6 0 1 0 11.2 0a5.6 5.6 0 1 0-11.2 0M415.1 190.7a5.6 5.6 0 1 0 11.2 0a5.6 5.6 0 1 0-11.2 0M415.6 190.5a5.6 5.6 0 1 0 11.2 0a5.6 5.6 0 1 0-11.2 0M416.2 190.4a5.6 5.6 0 1 0 11.2 0a5.6 5.6 0 1 0-11.2 0M416.8 190.2a5.6 5.6 0 1 0 11.2 0a5.6 5.6 0 1 0-11.2 0M417.3 190a5.6 5.6 0 1 0 11.2 0a5.6 5.6 0 1 0-11.2 0M417.9 189.8a5.6 5.6 0 1 0 11.2 0a5.6 5.6 0 1 0-11.2 0M418.4 189.6a5.6 5.6 0 1 0 11.2 0a5.6 5.6 0 1 0-11.2 0M419 189.5a5.6 5.6 0 1 0 11.2 0a5.6 5.6 0 1 0-11.2 0M419.5 189.3a5.6 5.6 0 1 0 11.2 0a5.6 5.6 0 1 0-11.2 0M420.1 189.1a5.6 5.6 0 1 0 11.2 0a5.6 5.6 0 1 0-11.2 0M420.6 188.9a5.6 5.6 0 1 0 11.2 0a5.6 5.6 0 1 0-11.2 0M421.2 188.8a5.6 5.6 0 1 0 11.2 0a5.6 5.6 0 1 0-11.2 0M421.7 188.6a5.6 5.6 0 1 0 11.2 0a5.6 5.6 0 1 0-11.2 0M422.3 188.4a5.6 5.6 0 1 0 11.2 0a5.6 5.6 0 1 0-11.2 0M422.8 188.2a5.6 5.6 0 1 0 11.2 0a5.6 5.6 0 1 0-11.2 0M423.3 188a5.6 5.6 0 1 0 11.2 0a5.6 5.6 0 1 0-11.2 0M423.9 187.8a5.6 5.6 0 1 0 11.2 0a5.6 5.6 0 1 0-11.2 0M424.4 187.7a5.6 5.6 0 1 0 11.2 0a5.6 5.6 0 1 0-11.2 0M424.9 187.5a5.6 5.6 0 1 0 11.2 0a5.6 5.6 0 1 0-11.2 0M425.4 187.3a5.6 5.6 0 1 0 11.2 0a5.6 5.6 0 1 0-11.2 0M426 187.1a5.6 5.6 0 1 0 11.2 0a5.6 5.6 0 1 0-11.2 0M426.5 186.9a5.6 5.6 0 1 0 11.2 0a5.6 5.6 0 1 0-11.2 0M427 186.7a5.6 5.6 0 1 0 11.2 0a5.6 5.6 0 1 0-11.2 0M427.5 186.5a5.6 5.6 0 1 0 11.2 0a5.6 5.6 0 1 0-11.2 0M428 186.3a5.6 5.6 0 1 0 11.2 0a5.6 5.6 0 1 0-11.2 0M428.5 186.2a5.6 5.6 0 1 0 11.2 0a5.6 5.6 0 1 0-11.2 0M429 186a5.6 5.6 0 1 0 11.2 0a5.6 5.6 0 1 0-11.2 0M429.5 185.8a5.6 5.6 0 1 0 11.2 0a5.6 5.6 0 1 0-11.2 0M430 185.6a5.6 5.6 0 1 0 11.2 0a5.6 5.6 0 1 0-11.2 0M430.5 185.4a5.6 5.6 0 1 0 11.2 0a5.6 5.6 0 1 0-11.2 0M431 185.2a5.6 5.6 0 1 0 11.2 0a5.6 5.6 0 1 0-11.2 0M431.5 185a5.6 5.6 0 1 0 11.2 0a5.6 5.6 0 1 0-11.2 0M432 184.8a5.6 5.6 0 1 0 11.2 0a5.6 5.6 0 1 0-11.2 0M432.5 184.6a5.6 5.6 0 1 0 11.2 0a5.6 5.6 0 1 0-11.2 0M433 184.4a5.6 5.6 0 1 0 11.2 0a5.6 5.6 0 1 0-11.2 0M433.5 184.2a5.6 5.6 0 1 0 11.2 0a5.6 5.6 0 1 0-11.2 0M434 184a5.6 5.6 0 1 0 11.2 0a5.6 5.6 0 1 0-11.2 0M434.5 183.8a5.6 5.6 0 1 0 11.2 0a5.6 5.6 0 1 0-11.2 0M435 183.6a5.6 5.6 0 1 0 11.2 0a5.6 5.6 0 1 0-11.2 0M435.4 183.3a5.6 5.6 0 1 0 11.2 0a5.6 5.6 0 1 0-11.2 0M435.9 183.1a5.6 5.6 0 1 0 11.2 0a5.6 5.6 0 1 0-11.2 0M436.4 182.9a5.6 5.6 0 1 0 11.2 0a5.6 5.6 0 1 0-11.2 0M436.9 182.7a5.6 5.6 0 1 0 11.2 0a5.6 5.6 0 1 0-11.2 0M437.4 182.5a5.6 5.6 0 1 0 11.2 0a5.6 5.6 0 1 0-11.2 0M437.8 182.2a5.6 5.6 0 1 0 11.2 0a5.6 5.6 0 1 0-11.2 0M438.3 182a5.6 5.6 0 1 0 11.2 0a5.6 5.6 0 1 0-11.2 0M438.8 181.8a5.6 5.6 0 1 0 11.2 0a5.6 5.6 0 1 0-11.2 0M439.2 181.5a5.6 5.6 0 1 0 11.2 0a5.6 5.6 0 1 0-11.2 0M439.7 181.3a5.6 5.6 0 1 0 11.2 0a5.6 5.6 0 1 0-11.2 0M440.2 181a5.6 5.6 0 1 0 11.2 0a5.6 5.6 0 1 0-11.2 0M440.6 180.8a5.6 5.6 0 1 0 11.2 0a5.6 5.6 0 1 0-11.2 0M441.1 180.6a5.6 5.6 0 1 0 11.2 0a5.6 5.6 0 1 0-11.2 0M441.5 180.3a5.6 5.6 0 1 0 11.2 0a5.6 5.6 0 1 0-11.2 0M442 180.1a5.6 5.6 0 1 0 11.2 0a5.6 5.6 0 1 0-11.2 0M442.4 179.8a5.6 5.6 0 1 0 11.2 0a5.6 5.6 0 1 0-11.2 0M442.9 179.6a5.6 5.6 0 1 0 11.2 0a5.6 5.6 0 1 0-11.2 0M443.3 179.3a5.6 5.6 0 1 0 11.2 0a5.6 5.6 0 1 0-11.2 0M443.8 179.1a5.6 5.6 0 1 0 11.2 0a5.6 5.6 0 1 0-11.2 0M444.2 178.8a5.6 5.6 0 1 0 11.2 0a5.6 5.6 0 1 0-11.2 0M444.7 178.5a5.6 5.6 0 1 0 11.2 0a5.6 5.6 0 1 0-11.2 0M445.1 178.3a5.6 5.6 0 1 0 11.2 0a5.6 5.6 0 1 0-11.2 0M445.6 178a5.6 5.6 0 1 0 11.2 0a5.6 5.6 0 1 0-11.2 0M446 177.8a5.6 5.6 0 1 0 11.2 0a5.6 5.6 0 1 0-11.2 0M446.4 177.5a5.6 5.6 0 1 0 11.2 0a5.6 5.6 0 1 0-11.2 0M446.9 177.2a5.6 5.6 0 1 0 11.2 0a5.6 5.6 0 1 0-11.2 0M447.3 177a5.6 5.6 0 1 0 11.2 0a5.6 5.6 0 1 0-11.2 0M447.7 176.7a5.6 5.6 0 1 0 11.2 0a5.6 5.6 0 1 0-11.2 0M448.2 176.5a5.6 5.6 0 1 0 11.2 0a5.6 5.6 0 1 0-11.2 0M448.6 176.2a5.6 5.6 0 1 0 11.2 0a5.6 5.6 0 1 0-11.2 0M449 175.9a5.6 5.6 0 1 0 11.2 0a5.6 5.6 0 1 0-11.2 0M449.5 175.7a5.6 5.6 0 1 0 11.2 0a5.6 5.6 0 1 0-11.2 0M449.9 175.4a5.6 5.6 0 1 0 11.2 0a5.6 5.6 0 1 0-11.2 0M450.3 175.2a5.6 5.6 0 1 0 11.2 0a5.6 5.6 0 1 0-11.2 0M450.7 174.9a5.6 5.6 0 1 0 11.2 0a5.6 5.6 0 1 0-11.2 0M451.1 174.6a5.6 5.6 0 1 0 11.2 0a5.6 5.6 0 1 0-11.2 0M451.6 174.4a5.6 5.6 0 1 0 11.2 0a5.6 5.6 0 1 0-11.2 0M452 174.1a5.6 5.6 0 1 0 11.2 0a5.6 5.6 0 1 0-11.2 0M452.4 173.8a5.6 5.6 0 1 0 11.2 0a5.6 5.6 0 1 0-11.2 0M452.8 173.6a5.6 5.6 0 1 0 11.2 0a5.6 5.6 0 1 0-11.2 0M453.2 173.3a5.6 5.6 0 1 0 11.2 0a5.6 5.6 0 1 0-11.2 0M453.6 173.1a5.6 5.6 0 1 0 11.2 0a5.6 5.6 0 1 0-11.2 0M454 172.8a5.6 5.6 0 1 0 11.2 0a5.6 5.6 0 1 0-11.2 0M454.5 172.6a5.6 5.6 0 1 0 11.2 0a5.6 5.6 0 1 0-11.2 0M454.9 172.3a5.6 5.6 0 1 0 11.2 0a5.6 5.6 0 1 0-11.2 0M455.3 172a5.6 5.6 0 1 0 11.2 0a5.6 5.6 0 1 0-11.2 0M455.7 171.8a5.6 5.6 0 1 0 11.2 0a5.6 5.6 0 1 0-11.2 0M456.1 171.5a5.6 5.6 0 1 0 11.2 0a5.6 5.6 0 1 0-11.2 0M456.5 171.3a5.6 5.6 0 1 0 11.2 0a5.6 5.6 0 1 0-11.2 0M456.9 171a5.6 5.6 0 1 0 11.2 0a5.6 5.6 0 1 0-11.2 0M457.7 170.5a5.6 5.6 0 1 0 11.2 0a5.6 5.6 0 1 0-11.2 0M458.5 170a5.6 5.6 0 1 0 11.2 0a5.6 5.6 0 1 0-11.2 0M459.3 169.5a5.6 5.6 0 1 0 11.2 0a5.6 5.6 0 1 0-11.2 0M460 169a5.6 5.6 0 1 0 11.2 0a5.6 5.6 0 1 0-11.2 0M460.8 168.6a5.6 5.6 0 1 0 11.2 0a5.6 5.6 0 1 0-11.2 0M461.6 168.1a5.6 5.6 0 1 0 11.2 0a5.6 5.6 0 1 0-11.2 0M462.4 167.6a5.6 5.6 0 1 0 11.2 0a5.6 5.6 0 1 0-11.2 0M463.1 167.2a5.6 5.6 0 1 0 11.2 0a5.6 5.6 0 1 0-11.2 0M463.9 166.7a5.6 5.6 0 1 0 11.2 0a5.6 5.6 0 1 0-11.2 0M464.6 166.3a5.6 5.6 0 1 0 11.2 0a5.6 5.6 0 1 0-11.2 0M465.4 165.8a5.6 5.6 0 1 0 11.2 0a5.6 5.6 0 1 0-11.2 0M466.1 165.4a5.6 5.6 0 1 0 11.2 0a5.6 5.6 0 1 0-11.2 0M466.8 164.9a5.6 5.6 0 1 0 11.2 0a5.6 5.6 0 1 0-11.2 0M467.6 164.5a5.6 5.6 0 1 0 11.2 0a5.6 5.6 0 1 0-11.2 0M468.3 164.1a5.6 5.6 0 1 0 11.2 0a5.6 5.6 0 1 0-11.2 0M469 163.6a5.6 5.6 0 1 0 11.2 0a5.6 5.6 0 1 0-11.2 0M469.7 163.2a5.6 5.6 0 1 0 11.2 0a5.6 5.6 0 1 0-11.2 0M470.5 162.8a5.6 5.6 0 1 0 11.2 0a5.6 5.6 0 1 0-11.2 0M471.2 162.3a5.6 5.6 0 1 0 11.2 0a5.6 5.6 0 1 0-11.2 0M471.9 161.9a5.6 5.6 0 1 0 11.2 0a5.6 5.6 0 1 0-11.2 0M472.6 161.5a5.6 5.6 0 1 0 11.2 0a5.6 5.6 0 1 0-11.2 0M473.3 161.1a5.6 5.6 0 1 0 11.2 0a5.6 5.6 0 1 0-11.2 0M474 160.7a5.6 5.6 0 1 0 11.2 0a5.6 5.6 0 1 0-11.2 0M474.7 160.2a5.6 5.6 0 1 0 11.2 0a5.6 5.6 0 1 0-11.2 0M475.3 159.8a5.6 5.6 0 1 0 11.2 0a5.6 5.6 0 1 0-11.2 0M476 159.4a5.6 5.6 0 1 0 11.2 0a5.6 5.6 0 1 0-11.2 0M476.7 159a5.6 5.6 0 1 0 11.2 0a5.6 5.6 0 1 0-11.2 0M477.4 158.7a5.6 5.6 0 1 0 11.2 0a5.6 5.6 0 1 0-11.2 0M478 158.3a5.6 5.6 0 1 0 11.2 0a5.6 5.6 0 1 0-11.2 0M478.7 157.9a5.6 5.6 0 1 0 11.2 0a5.6 5.6 0 1 0-11.2 0M479.4 157.5a5.6 5.6 0 1 0 11.2 0a5.6 5.6 0 1 0-11.2 0M480 157.1a5.6 5.6 0 1 0 11.2 0a5.6 5.6 0 1 0-11.2 0M480.7 156.7a5.6 5.6 0 1 0 11.2 0a5.6 5.6 0 1 0-11.2 0M481.3 156.3a5.6 5.6 0 1 0 11.2 0a5.6 5.6 0 1 0-11.2 0M482 156a5.6 5.6 0 1 0 11.2 0a5.6 5.6 0 1 0-11.2 0M482.6 155.6a5.6 5.6 0 1 0 11.2 0a5.6 5.6 0 1 0-11.2 0M483.3 155.2a5.6 5.6 0 1 0 11.2 0a5.6 5.6 0 1 0-11.2 0M483.9 154.8a5.6 5.6 0 1 0 11.2 0a5.6 5.6 0 1 0-11.2 0M484.5 154.4a5.6 5.6 0 1 0 11.2 0a5.6 5.6 0 1 0-11.2 0M485.2 154a5.6 5.6 0 1 0 11.2 0a5.6 5.6 0 1 0-11.2 0M485.8 153.6a5.6 5.6 0 1 0 11.2 0a5.6 5.6 0 1 0-11.2 0M486.4 153.2a5.6 5.6 0 1 0 11.2 0a5.6 5.6 0 1 0-11.2 0M487 152.8a5.6 5.6 0 1 0 11.2 0a5.6 5.6 0 1 0-11.2 0M487.7 152.4a5.6 5.6 0 1 0 11.2 0a5.6 5.6 0 1 0-11.2 0M488.3 152a5.6 5.6 0 1 0 11.2 0a5.6 5.6 0 1 0-11.2 0M488.9 151.6a5.6 5.6 0 1 0 11.2 0a5.6 5.6 0 1 0-11.2 0M489.5 151.2a5.6 5.6 0 1 0 11.2 0a5.6 5.6 0 1 0-11.2 0M490.1 150.8a5.6 5.6 0 1 0 11.2 0a5.6 5.6 0 1 0-11.2 0M490.7 150.4a5.6 5.6 0 1 0 11.2 0a5.6 5.6 0 1 0-11.2 0M491.3 150.1a5.6 5.6 0 1 0 11.2 0a5.6 5.6 0 1 0-11.2 0M491.9 149.7a5.6 5.6 0 1 0 11.2 0a5.6 5.6 0 1 0-11.2 0M492.5 149.3a5.6 5.6 0 1 0 11.2 0a5.6 5.6 0 1 0-11.2 0M493.1 148.9a5.6 5.6 0 1 0 11.2 0a5.6 5.6 0 1 0-11.2 0M493.7 148.5a5.6 5.6 0 1 0 11.2 0a5.6 5.6 0 1 0-11.2 0M494.2 148.1a5.6 5.6 0 1 0 11.2 0a5.6 5.6 0 1 0-11.2 0M494.8 147.7a5.6 5.6 0 1 0 11.2 0a5.6 5.6 0 1 0-11.2 0M495.4 147.3a5.6 5.6 0 1 0 11.2 0a5.6 5.6 0 1 0-11.2 0M496 146.9a5.6 5.6 0 1 0 11.2 0a5.6 5.6 0 1 0-11.2 0M496.6 146.6a5.6 5.6 0 1 0 11.2 0a5.6 5.6 0 1 0-11.2 0M497.1 146.2a5.6 5.6 0 1 0 11.2 0a5.6 5.6 0 1 0-11.2 0M497.7 145.8a5.6 5.6 0 1 0 11.2 0a5.6 5.6 0 1 0-11.2 0M498.3 145.4a5.6 5.6 0 1 0 11.2 0a5.6 5.6 0 1 0-11.2 0M498.8 145a5.6 5.6 0 1 0 11.2 0a5.6 5.6 0 1 0-11.2 0M499.4 144.6a5.6 5.6 0 1 0 11.2 0a5.6 5.6 0 1 0-11.2 0M499.9 144.2a5.6 5.6 0 1 0 11.2 0a5.6 5.6 0 1 0-11.2 0M500.5 143.8a5.6 5.6 0 1 0 11.2 0a5.6 5.6 0 1 0-11.2 0M501 143.4a5.6 5.6 0 1 0 11.2 0a5.6 5.6 0 1 0-11.2 0M501.6 143.1a5.6 5.6 0 1 0 11.2 0a5.6 5.6 0 1 0-11.2 0M502.1 142.7a5.6 5.6 0 1 0 11.2 0a5.6 5.6 0 1 0-11.2 0M502.7 142.3a5.6 5.6 0 1 0 11.2 0a5.6 5.6 0 1 0-11.2 0M503.2 141.9a5.6 5.6 0 1 0 11.2 0a5.6 5.6 0 1 0-11.2 0M503.7 141.5a5.6 5.6 0 1 0 11.2 0a5.6 5.6 0 1 0-11.2 0M504.3 141.2a5.6 5.6 0 1 0 11.2 0a5.6 5.6 0 1 0-11.2 0M504.8 140.8a5.6 5.6 0 1 0 11.2 0a5.6 5.6 0 1 0-11.2 0M505.3 140.4a5.6 5.6 0 1 0 11.2 0a5.6 5.6 0 1 0-11.2 0M505.9 140.1a5.6 5.6 0 1 0 11.2 0a5.6 5.6 0 1 0-11.2 0M506.4 139.7a5.6 5.6 0 1 0 11.2 0a5.6 5.6 0 1 0-11.2 0M506.9 139.3a5.6 5.6 0 1 0 11.2 0a5.6 5.6 0 1 0-11.2 0M507.4 139a5.6 5.6 0 1 0 11.2 0a5.6 5.6 0 1 0-11.2 0M508 138.6a5.6 5.6 0 1 0 11.2 0a5.6 5.6 0 1 0-11.2 0M508.5 138.3a5.6 5.6 0 1 0 11.2 0a5.6 5.6 0 1 0-11.2 0M509 137.9a5.6 5.6 0 1 0 11.2 0a5.6 5.6 0 1 0-11.2 0M509.5 137.6a5.6 5.6 0 1 0 11.2 0a5.6 5.6 0 1 0-11.2 0M510 137.3a5.6 5.6 0 1 0 11.2 0a5.6 5.6 0 1 0-11.2 0M510.5 136.9a5.6 5.6 0 1 0 11.2 0a5.6 5.6 0 1 0-11.2 0M511 136.6a5.6 5.6 0 1 0 11.2 0a5.6 5.6 0 1 0-11.2 0M511.5 136.3a5.6 5.6 0 1 0 11.2 0a5.6 5.6 0 1 0-11.2 0M512 136a5.6 5.6 0 1 0 11.2 0a5.6 5.6 0 1 0-11.2 0M512.5 135.6a5.6 5.6 0 1 0 11.2 0a5.6 5.6 0 1 0-11.2 0M513 135.3a5.6 5.6 0 1 0 11.2 0a5.6 5.6 0 1 0-11.2 0M513.5 135a5.6 5.6 0 1 0 11.2 0a5.6 5.6 0 1 0-11.2 0M514 134.7a5.6 5.6 0 1 0 11.2 0a5.6 5.6 0 1 0-11.2 0M514.5 134.4a5.6 5.6 0 1 0 11.2 0a5.6 5.6 0 1 0-11.2 0M515 134.1a5.6 5.6 0 1 0 11.2 0a5.6 5.6 0 1 0-11.2 0M515.5 133.9a5.6 5.6 0 1 0 11.2 0a5.6 5.6 0 1 0-11.2 0M516 133.6a5.6 5.6 0 1 0 11.2 0a5.6 5.6 0 1 0-11.2 0M516.5 133.3a5.6 5.6 0 1 0 11.2 0a5.6 5.6 0 1 0-11.2 0M516.9 133a5.6 5.6 0 1 0 11.2 0a5.6 5.6 0 1 0-11.2 0M517.4 132.7a5.6 5.6 0 1 0 11.2 0a5.6 5.6 0 1 0-11.2 0M517.9 132.5a5.6 5.6 0 1 0 11.2 0a5.6 5.6 0 1 0-11.2 0M518.4 132.2a5.6 5.6 0 1 0 11.2 0a5.6 5.6 0 1 0-11.2 0M518.8 132a5.6 5.6 0 1 0 11.2 0a5.6 5.6 0 1 0-11.2 0M519.3 131.7a5.6 5.6 0 1 0 11.2 0a5.6 5.6 0 1 0-11.2 0M519.8 131.4a5.6 5.6 0 1 0 11.2 0a5.6 5.6 0 1 0-11.2 0M520.2 131.2a5.6 5.6 0 1 0 11.2 0a5.6 5.6 0 1 0-11.2 0M520.7 130.9a5.6 5.6 0 1 0 11.2 0a5.6 5.6 0 1 0-11.2 0M521.2 130.7a5.6 5.6 0 1 0 11.2 0a5.6 5.6 0 1 0-11.2 0M521.6 130.4a5.6 5.6 0 1 0 11.2 0a5.6 5.6 0 1 0-11.2 0M522.1 130.2a5.6 5.6 0 1 0 11.2 0a5.6 5.6 0 1 0-11.2 0M522.6 129.9a5.6 5.6 0 1 0 11.2 0a5.6 5.6 0 1 0-11.2 0M523 129.7a5.6 5.6 0 1 0 11.2 0a5.6 5.6 0 1 0-11.2 0M523.5 129.5a5.6 5.6 0 1 0 11.2 0a5.6 5.6 0 1 0-11.2 0M523.9 129.2a5.6 5.6 0 1 0 11.2 0a5.6 5.6 0 1 0-11.2 0M524.4 129a5.6 5.6 0 1 0 11.2 0a5.6 5.6 0 1 0-11.2 0M524.8 128.7a5.6 5.6 0 1 0 11.2 0a5.6 5.6 0 1 0-11.2 0M525.3 128.5a5.6 5.6 0 1 0 11.2 0a5.6 5.6 0 1 0-11.2 0M525.7 128.3a5.6 5.6 0 1 0 11.2 0a5.6 5.6 0 1 0-11.2 0M526.2 128.1a5.6 5.6 0 1 0 11.2 0a5.6 5.6 0 1 0-11.2 0M526.6 127.8a5.6 5.6 0 1 0 11.2 0a5.6 5.6 0 1 0-11.2 0M527 127.6a5.6 5.6 0 1 0 11.2 0a5.6 5.6 0 1 0-11.2 0M527.5 127.4a5.6 5.6 0 1 0 11.2 0a5.6 5.6 0 1 0-11.2 0M527.9 127.2a5.6 5.6 0 1 0 11.2 0a5.6 5.6 0 1 0-11.2 0M528.4 126.9a5.6 5.6 0 1 0 11.2 0a5.6 5.6 0 1 0-11.2 0M528.8 126.7a5.6 5.6 0 1 0 11.2 0a5.6 5.6 0 1 0-11.2 0M529.2 126.5a5.6 5.6 0 1 0 11.2 0a5.6 5.6 0 1 0-11.2 0M529.7 126.3a5.6 5.6 0 1 0 11.2 0a5.6 5.6 0 1 0-11.2 0M530.1 126.1a5.6 5.6 0 1 0 11.2 0a5.6 5.6 0 1 0-11.2 0M530.5 125.8a5.6 5.6 0 1 0 11.2 0a5.6 5.6 0 1 0-11.2 0M530.9 125.6a5.6 5.6 0 1 0 11.2 0a5.6 5.6 0 1 0-11.2 0M531.4 125.4a5.6 5.6 0 1 0 11.2 0a5.6 5.6 0 1 0-11.2 0M531.8 125.2a5.6 5.6 0 1 0 11.2 0a5.6 5.6 0 1 0-11.2 0M532.2 125a5.6 5.6 0 1 0 11.2 0a5.6 5.6 0 1 0-11.2 0M532.6 124.8a5.6 5.6 0 1 0 11.2 0a5.6 5.6 0 1 0-11.2 0M533.1 124.6a5.6 5.6 0 1 0 11.2 0a5.6 5.6 0 1 0-11.2 0M533.5 124.3a5.6 5.6 0 1 0 11.2 0a5.6 5.6 0 1 0-11.2 0M533.9 124.1a5.6 5.6 0 1 0 11.2 0a5.6 5.6 0 1 0-11.2 0M534.3 123.9a5.6 5.6 0 1 0 11.2 0a5.6 5.6 0 1 0-11.2 0M534.7 123.7a5.6 5.6 0 1 0 11.2 0a5.6 5.6 0 1 0-11.2 0M535.1 123.5a5.6 5.6 0 1 0 11.2 0a5.6 5.6 0 1 0-11.2 0M535.5 123.3a5.6 5.6 0 1 0 11.2 0a5.6 5.6 0 1 0-11.2 0M535.9 123.1a5.6 5.6 0 1 0 11.2 0a5.6 5.6 0 1 0-11.2 0M536.4 122.9a5.6 5.6 0 1 0 11.2 0a5.6 5.6 0 1 0-11.2 0M536.8 122.7a5.6 5.6 0 1 0 11.2 0a5.6 5.6 0 1 0-11.2 0M537.2 122.5a5.6 5.6 0 1 0 11.2 0a5.6 5.6 0 1 0-11.2 0M537.6 122.3a5.6 5.6 0 1 0 11.2 0a5.6 5.6 0 1 0-11.2 0M538 122a5.6 5.6 0 1 0 11.2 0a5.6 5.6 0 1 0-11.2 0M538.4 121.8a5.6 5.6 0 1 0 11.2 0a5.6 5.6 0 1 0-11.2 0M539 121.5a5.6 5.6 0 1 0 11.2 0a5.6 5.6 0 1 0-11.2 0M539.6 121.2a5.6 5.6 0 1 0 11.2 0a5.6 5.6 0 1 0-11.2 0M540.2 120.9a5.6 5.6 0 1 0 11.2 0a5.6 5.6 0 1 0-11.2 0M540.7 120.6a5.6 5.6 0 1 0 11.2 0a5.6 5.6 0 1 0-11.2 0M541.3 120.3a5.6 5.6 0 1 0 11.2 0a5.6 5.6 0 1 0-11.2 0M541.9 120a5.6 5.6 0 1 0 11.2 0a5.6 5.6 0 1 0-11.2 0M542.5 119.7a5.6 5.6 0 1 0 11.2 0a5.6 5.6 0 1 0-11.2 0M543.1 119.4a5.6 5.6 0 1 0 11.2 0a5.6 5.6 0 1 0-11.2 0M543.6 119.1a5.6 5.6 0 1 0 11.2 0a5.6 5.6 0 1 0-11.2 0M544.2 118.8a5.6 5.6 0 1 0 11.2 0a5.6 5.6 0 1 0-11.2 0M544.8 118.5a5.6 5.6 0 1 0 11.2 0a5.6 5.6 0 1 0-11.2 0M545.4 118.2a5.6 5.6 0 1 0 11.2 0a5.6 5.6 0 1 0-11.2 0M545.9 117.9a5.6 5.6 0 1 0 11.2 0a5.6 5.6 0 1 0-11.2 0M546.5 117.6a5.6 5.6 0 1 0 11.2 0a5.6 5.6 0 1 0-11.2 0M547 117.3a5.6 5.6 0 1 0 11.2 0a5.6 5.6 0 1 0-11.2 0M547.6 117a5.6 5.6 0 1 0 11.2 0a5.6 5.6 0 1 0-11.2 0M548.1 116.7a5.6 5.6 0 1 0 11.2 0a5.6 5.6 0 1 0-11.2 0M548.7 116.4a5.6 5.6 0 1 0 11.2 0a5.6 5.6 0 1 0-11.2 0M549.2 116.2a5.6 5.6 0 1 0 11.2 0a5.6 5.6 0 1 0-11.2 0M549.8 115.9a5.6 5.6 0 1 0 11.2 0a5.6 5.6 0 1 0-11.2 0M550.3 115.6a5.6 5.6 0 1 0 11.2 0a5.6 5.6 0 1 0-11.2 0M550.9 115.3a5.6 5.6 0 1 0 11.2 0a5.6 5.6 0 1 0-11.2 0M551.4 115a5.6 5.6 0 1 0 11.2 0a5.6 5.6 0 1 0-11.2 0M552 114.8a5.6 5.6 0 1 0 11.2 0a5.6 5.6 0 1 0-11.2 0M552.5 114.5a5.6 5.6 0 1 0 11.2 0a5.6 5.6 0 1 0-11.2 0M553 114.2a5.6 5.6 0 1 0 11.2 0a5.6 5.6 0 1 0-11.2 0M553.5 113.9a5.6 5.6 0 1 0 11.2 0a5.6 5.6 0 1 0-11.2 0M554.1 113.7a5.6 5.6 0 1 0 11.2 0a5.6 5.6 0 1 0-11.2 0M554.6 113.4a5.6 5.6 0 1 0 11.2 0a5.6 5.6 0 1 0-11.2 0M555.1 113.1a5.6 5.6 0 1 0 11.2 0a5.6 5.6 0 1 0-11.2 0M555.6 112.9a5.6 5.6 0 1 0 11.2 0a5.6 5.6 0 1 0-11.2 0M556.1 112.6a5.6 5.6 0 1 0 11.2 0a5.6 5.6 0 1 0-11.2 0M556.7 112.4a5.6 5.6 0 1 0 11.2 0a5.6 5.6 0 1 0-11.2 0M557.2 112.1a5.6 5.6 0 1 0 11.2 0a5.6 5.6 0 1 0-11.2 0M557.7 111.8a5.6 5.6 0 1 0 11.2 0a5.6 5.6 0 1 0-11.2 0M558.2 111.6a5.6 5.6 0 1 0 11.2 0a5.6 5.6 0 1 0-11.2 0M558.7 111.3a5.6 5.6 0 1 0 11.2 0a5.6 5.6 0 1 0-11.2 0M559.2 111.1a5.6 5.6 0 1 0 11.2 0a5.6 5.6 0 1 0-11.2 0M559.7 110.8a5.6 5.6 0 1 0 11.2 0a5.6 5.6 0 1 0-11.2 0M560.2 110.6a5.6 5.6 0 1 0 11.2 0a5.6 5.6 0 1 0-11.2 0M560.7 110.3a5.6 5.6 0 1 0 11.2 0a5.6 5.6 0 1 0-11.2 0M561.2 110.1a5.6 5.6 0 1 0 11.2 0a5.6 5.6 0 1 0-11.2 0M561.7 109.8a5.6 5.6 0 1 0 11.2 0a5.6 5.6 0 1 0-11.2 0M562.2 109.6a5.6 5.6 0 1 0 11.2 0a5.6 5.6 0 1 0-11.2 0M562.7 109.4a5.6 5.6 0 1 0 11.2 0a5.6 5.6 0 1 0-11.2 0M563.2 109.1a5.6 5.6 0 1 0 11.2 0a5.6 5.6 0 1 0-11.2 0M563.6 108.9a5.6 5.6 0 1 0 11.2 0a5.6 5.6 0 1 0-11.2 0M564.1 108.6a5.6 5.6 0 1 0 11.2 0a5.6 5.6 0 1 0-11.2 0M564.6 108.4a5.6 5.6 0 1 0 11.2 0a5.6 5.6 0 1 0-11.2 0M565.1 108.2a5.6 5.6 0 1 0 11.2 0a5.6 5.6 0 1 0-11.2 0M565.6 107.9a5.6 5.6 0 1 0 11.2 0a5.6 5.6 0 1 0-11.2 0M566 107.7a5.6 5.6 0 1 0 11.2 0a5.6 5.6 0 1 0-11.2 0M566.5 107.5a5.6 5.6 0 1 0 11.2 0a5.6 5.6 0 1 0-11.2 0M567 107.2a5.6 5.6 0 1 0 11.2 0a5.6 5.6 0 1 0-11.2 0M567.4 107a5.6 5.6 0 1 0 11.2 0a5.6 5.6 0 1 0-11.2 0M567.9 106.8a5.6 5.6 0 1 0 11.2 0a5.6 5.6 0 1 0-11.2 0M568.4 106.5a5.6 5.6 0 1 0 11.2 0a5.6 5.6 0 1 0-11.2 0M568.8 106.3a5.6 5.6 0 1 0 11.2 0a5.6 5.6 0 1 0-11.2 0M569.3 106.1a5.6 5.6 0 1 0 11.2 0a5.6 5.6 0 1 0-11.2 0M569.8 105.8a5.6 5.6 0 1 0 11.2 0a5.6 5.6 0 1 0-11.2 0M570.2 105.6a5.6 5.6 0 1 0 11.2 0a5.6 5.6 0 1 0-11.2 0M570.7 105.4a5.6 5.6 0 1 0 11.2 0a5.6 5.6 0 1 0-11.2 0M571.1 105.2a5.6 5.6 0 1 0 11.2 0a5.6 5.6 0 1 0-11.2 0M571.6 104.9a5.6 5.6 0 1 0 11.2 0a5.6 5.6 0 1 0-11.2 0M572 104.7a5.6 5.6 0 1 0 11.2 0a5.6 5.6 0 1 0-11.2 0M572.5 104.5a5.6 5.6 0 1 0 11.2 0a5.6 5.6 0 1 0-11.2 0M572.9 104.2a5.6 5.6 0 1 0 11.2 0a5.6 5.6 0 1 0-11.2 0M573.4 104a5.6 5.6 0 1 0 11.2 0a5.6 5.6 0 1 0-11.2 0M573.8 103.8a5.6 5.6 0 1 0 11.2 0a5.6 5.6 0 1 0-11.2 0M574.3 103.6a5.6 5.6 0 1 0 11.2 0a5.6 5.6 0 1 0-11.2 0M574.7 103.3a5.6 5.6 0 1 0 11.2 0a5.6 5.6 0 1 0-11.2 0M575.2 103.1a5.6 5.6 0 1 0 11.2 0a5.6 5.6 0 1 0-11.2 0M575.6 102.9a5.6 5.6 0 1 0 11.2 0a5.6 5.6 0 1 0-11.2 0M576 102.7a5.6 5.6 0 1 0 11.2 0a5.6 5.6 0 1 0-11.2 0M576.5 102.4a5.6 5.6 0 1 0 11.2 0a5.6 5.6 0 1 0-11.2 0M576.9 102.2a5.6 5.6 0 1 0 11.2 0a5.6 5.6 0 1 0-11.2 0M577.3 102a5.6 5.6 0 1 0 11.2 0a5.6 5.6 0 1 0-11.2 0M577.8 101.8a5.6 5.6 0 1 0 11.2 0a5.6 5.6 0 1 0-11.2 0M578.2 101.6a5.6 5.6 0 1 0 11.2 0a5.6 5.6 0 1 0-11.2 0M578.6 101.3a5.6 5.6 0 1 0 11.2 0a5.6 5.6 0 1 0-11.2 0M579 101.1a5.6 5.6 0 1 0 11.2 0a5.6 5.6 0 1 0-11.2 0M579.5 100.9a5.6 5.6 0 1 0 11.2 0a5.6 5.6 0 1 0-11.2 0M579.9 100.7a5.6 5.6 0 1 0 11.2 0a5.6 5.6 0 1 0-11.2 0M580.3 100.5a5.6 5.6 0 1 0 11.2 0a5.6 5.6 0 1 0-11.2 0M580.7 100.3a5.6 5.6 0 1 0 11.2 0a5.6 5.6 0 1 0-11.2 0M581.1 100a5.6 5.6 0 1 0 11.2 0a5.6 5.6 0 1 0-11.2 0M581.6 99.8a5.6 5.6 0 1 0 11.2 0a5.6 5.6 0 1 0-11.2 0M582 99.6a5.6 5.6 0 1 0 11.2 0a5.6 5.6 0 1 0-11.2 0M582.4 99.4a5.6 5.6 0 1 0 11.2 0a5.6 5.6 0 1 0-11.2 0M582.8 99.2a5.6 5.6 0 1 0 11.2 0a5.6 5.6 0 1 0-11.2 0M583.2 99a5.6 5.6 0 1 0 11.2 0a5.6 5.6 0 1 0-11.2 0M583.6 98.8a5.6 5.6 0 1 0 11.2 0a5.6 5.6 0 1 0-11.2 0M584 98.5a5.6 5.6 0 1 0 11.2 0a5.6 5.6 0 1 0-11.2 0M584.4 98.3a5.6 5.6 0 1 0 11.2 0a5.6 5.6 0 1 0-11.2 0M584.8 98.1a5.6 5.6 0 1 0 11.2 0a5.6 5.6 0 1 0-11.2 0M585.2 97.9a5.6 5.6 0 1 0 11.2 0a5.6 5.6 0 1 0-11.2 0M585.6 97.7a5.6 5.6 0 1 0 11.2 0a5.6 5.6 0 1 0-11.2 0M586 97.5a5.6 5.6 0 1 0 11.2 0a5.6 5.6 0 1 0-11.2 0M586.6 97.2a5.6 5.6 0 1 0 11.2 0a5.6 5.6 0 1 0-11.2 0M587.1 96.9a5.6 5.6 0 1 0 11.2 0a5.6 5.6 0 1 0-11.2 0M587.6 96.6a5.6 5.6 0 1 0 11.2 0a5.6 5.6 0 1 0-11.2 0M588.2 96.4a5.6 5.6 0 1 0 11.2 0a5.6 5.6 0 1 0-11.2 0M588.7 96.1a5.6 5.6 0 1 0 11.2 0a5.6 5.6 0 1 0-11.2 0M589.2 95.8a5.6 5.6 0 1 0 11.2 0a5.6 5.6 0 1 0-11.2 0M589.7 95.5a5.6 5.6 0 1 0 11.2 0a5.6 5.6 0 1 0-11.2 0M590.2 95.3a5.6 5.6 0 1 0 11.2 0a5.6 5.6 0 1 0-11.2 0M590.7 95a5.6 5.6 0 1 0 11.2 0a5.6 5.6 0 1 0-11.2 0M591.3 94.7a5.6 5.6 0 1 0 11.2 0a5.6 5.6 0 1 0-11.2 0M591.8 94.4a5.6 5.6 0 1 0 11.2 0a5.6 5.6 0 1 0-11.2 0M592.3 94.2a5.6 5.6 0 1 0 11.2 0a5.6 5.6 0 1 0-11.2 0M592.8 93.9a5.6 5.6 0 1 0 11.2 0a5.6 5.6 0 1 0-11.2 0M593.3 93.6a5.6 5.6 0 1 0 11.2 0a5.6 5.6 0 1 0-11.2 0M593.8 93.3a5.6 5.6 0 1 0 11.2 0a5.6 5.6 0 1 0-11.2 0M594.3 93.1a5.6 5.6 0 1 0 11.2 0a5.6 5.6 0 1 0-11.2 0M594.8 92.8a5.6 5.6 0 1 0 11.2 0a5.6 5.6 0 1 0-11.2 0M595.3 92.5a5.6 5.6 0 1 0 11.2 0a5.6 5.6 0 1 0-11.2 0M595.8 92.2a5.6 5.6 0 1 0 11.2 0a5.6 5.6 0 1 0-11.2 0M596.2 92a5.6 5.6 0 1 0 11.2 0a5.6 5.6 0 1 0-11.2 0M596.7 91.7a5.6 5.6 0 1 0 11.2 0a5.6 5.6 0 1 0-11.2 0M597.2 91.4a5.6 5.6 0 1 0 11.2 0a5.6 5.6 0 1 0-11.2 0M597.7 91.1a5.6 5.6 0 1 0 11.2 0a5.6 5.6 0 1 0-11.2 0M598.2 90.9a5.6 5.6 0 1 0 11.2 0a5.6 5.6 0 1 0-11.2 0M598.7 90.6a5.6 5.6 0 1 0 11.2 0a5.6 5.6 0 1 0-11.2 0M599.1 90.3a5.6 5.6 0 1 0 11.2 0a5.6 5.6 0 1 0-11.2 0M599.6 90a5.6 5.6 0 1 0 11.2 0a5.6 5.6 0 1 0-11.2 0M600.1 89.8a5.6 5.6 0 1 0 11.2 0a5.6 5.6 0 1 0-11.2 0M600.6 89.5a5.6 5.6 0 1 0 11.2 0a5.6 5.6 0 1 0-11.2 0M601 89.2a5.6 5.6 0 1 0 11.2 0a5.6 5.6 0 1 0-11.2 0M601.5 88.9a5.6 5.6 0 1 0 11.2 0a5.6 5.6 0 1 0-11.2 0M602 88.7a5.6 5.6 0 1 0 11.2 0a5.6 5.6 0 1 0-11.2 0M602.4 88.4a5.6 5.6 0 1 0 11.2 0a5.6 5.6 0 1 0-11.2 0M602.9 88.1a5.6 5.6 0 1 0 11.2 0a5.6 5.6 0 1 0-11.2 0M603.4 87.8a5.6 5.6 0 1 0 11.2 0a5.6 5.6 0 1 0-11.2 0M603.8 87.6a5.6 5.6 0 1 0 11.2 0a5.6 5.6 0 1 0-11.2 0M604.3 87.3a5.6 5.6 0 1 0 11.2 0a5.6 5.6 0 1 0-11.2 0M604.7 87a5.6 5.6 0 1 0 11.2 0a5.6 5.6 0 1 0-11.2 0M605.2 86.8a5.6 5.6 0 1 0 11.2 0a5.6 5.6 0 1 0-11.2 0M605.6 86.5a5.6 5.6 0 1 0 11.2 0a5.6 5.6 0 1 0-11.2 0M606.1 86.2a5.6 5.6 0 1 0 11.2 0a5.6 5.6 0 1 0-11.2 0M606.5 86a5.6 5.6 0 1 0 11.2 0a5.6 5.6 0 1 0-11.2 0M607 85.7a5.6 5.6 0 1 0 11.2 0a5.6 5.6 0 1 0-11.2 0M607.4 85.4a5.6 5.6 0 1 0 11.2 0a5.6 5.6 0 1 0-11.2 0M607.9 85.2a5.6 5.6 0 1 0 11.2 0a5.6 5.6 0 1 0-11.2 0M608.3 84.9a5.6 5.6 0 1 0 11.2 0a5.6 5.6 0 1 0-11.2 0M608.8 84.7a5.6 5.6 0 1 0 11.2 0a5.6 5.6 0 1 0-11.2 0M609.2 84.4a5.6 5.6 0 1 0 11.2 0a5.6 5.6 0 1 0-11.2 0M609.6 84.2a5.6 5.6 0 1 0 11.2 0a5.6 5.6 0 1 0-11.2 0M610.1 83.9a5.6 5.6 0 1 0 11.2 0a5.6 5.6 0 1 0-11.2 0M610.5 83.7a5.6 5.6 0 1 0 11.2 0a5.6 5.6 0 1 0-11.2 0M610.9 83.4a5.6 5.6 0 1 0 11.2 0a5.6 5.6 0 1 0-11.2 0M611.4 83.2a5.6 5.6 0 1 0 11.2 0a5.6 5.6 0 1 0-11.2 0M611.8 82.9a5.6 5.6 0 1 0 11.2 0a5.6 5.6 0 1 0-11.2 0M612.2 82.7a5.6 5.6 0 1 0 11.2 0a5.6 5.6 0 1 0-11.2 0M612.6 82.5a5.6 5.6 0 1 0 11.2 0a5.6 5.6 0 1 0-11.2 0M613.1 82.2a5.6 5.6 0 1 0 11.2 0a5.6 5.6 0 1 0-11.2 0M613.5 82a5.6 5.6 0 1 0 11.2 0a5.6 5.6 0 1 0-11.2 0M613.9 81.8a5.6 5.6 0 1 0 11.2 0a5.6 5.6 0 1 0-11.2 0M614.3 81.5a5.6 5.6 0 1 0 11.2 0a5.6 5.6 0 1 0-11.2 0M614.8 81.3a5.6 5.6 0 1 0 11.2 0a5.6 5.6 0 1 0-11.2 0M615.2 81.1a5.6 5.6 0 1 0 11.2 0a5.6 5.6 0 1 0-11.2 0M615.6 80.9a5.6 5.6 0 1 0 11.2 0a5.6 5.6 0 1 0-11.2 0M616 80.6a5.6 5.6 0 1 0 11.2 0a5.6 5.6 0 1 0-11.2 0M616.4 80.4a5.6 5.6 0 1 0 11.2 0a5.6 5.6 0 1 0-11.2 0M616.8 80.2a5.6 5.6 0 1 0 11.2 0a5.6 5.6 0 1 0-11.2 0M617.2 80a5.6 5.6 0 1 0 11.2 0a5.6 5.6 0 1 0-11.2 0M617.6 79.8a5.6 5.6 0 1 0 11.2 0a5.6 5.6 0 1 0-11.2 0M618 79.6a5.6 5.6 0 1 0 11.2 0a5.6 5.6 0 1 0-11.2 0M618.5 79.4a5.6 5.6 0 1 0 11.2 0a5.6 5.6 0 1 0-11.2 0M618.9 79.2a5.6 5.6 0 1 0 11.2 0a5.6 5.6 0 1 0-11.2 0M619.3 79a5.6 5.6 0 1 0 11.2 0a5.6 5.6 0 1 0-11.2 0M619.7 78.8a5.6 5.6 0 1 0 11.2 0a5.6 5.6 0 1 0-11.2 0M620.2 78.5a5.6 5.6 0 1 0 11.2 0a5.6 5.6 0 1 0-11.2 0M620.7 78.3a5.6 5.6 0 1 0 11.2 0a5.6 5.6 0 1 0-11.2 0M621.2 78a5.6 5.6 0 1 0 11.2 0a5.6 5.6 0 1 0-11.2 0M621.6 77.8a5.6 5.6 0 1 0 11.2 0a5.6 5.6 0 1 0-11.2 0M622.1 77.5a5.6 5.6 0 1 0 11.2 0a5.6 5.6 0 1 0-11.2 0M622.6 77.3a5.6 5.6 0 1 0 11.2 0a5.6 5.6 0 1 0-11.2 0M623.1 77a5.6 5.6 0 1 0 11.2 0a5.6 5.6 0 1 0-11.2 0M623.6 76.8a5.6 5.6 0 1 0 11.2 0a5.6 5.6 0 1 0-11.2 0M624.1 76.5a5.6 5.6 0 1 0 11.2 0a5.6 5.6 0 1 0-11.2 0M624.6 76.3a5.6 5.6 0 1 0 11.2 0a5.6 5.6 0 1 0-11.2 0M625 76a5.6 5.6 0 1 0 11.2 0a5.6 5.6 0 1 0-11.2 0M625.5 75.8a5.6 5.6 0 1 0 11.2 0a5.6 5.6 0 1 0-11.2 0M626 75.6a5.6 5.6 0 1 0 11.2 0a5.6 5.6 0 1 0-11.2 0M626.5 75.3a5.6 5.6 0 1 0 11.2 0a5.6 5.6 0 1 0-11.2 0M626.9 75.1a5.6 5.6 0 1 0 11.2 0a5.6 5.6 0 1 0-11.2 0M627.4 74.8a5.6 5.6 0 1 0 11.2 0a5.6 5.6 0 1 0-11.2 0M627.9 74.6a5.6 5.6 0 1 0 11.2 0a5.6 5.6 0 1 0-11.2 0M628.3 74.4a5.6 5.6 0 1 0 11.2 0a5.6 5.6 0 1 0-11.2 0M628.8 74.1a5.6 5.6 0 1 0 11.2 0a5.6 5.6 0 1 0-11.2 0M629.3 73.9a5.6 5.6 0 1 0 11.2 0a5.6 5.6 0 1 0-11.2 0M629.7 73.7a5.6 5.6 0 1 0 11.2 0a5.6 5.6 0 1 0-11.2 0M630.2 73.4a5.6 5.6 0 1 0 11.2 0a5.6 5.6 0 1 0-11.2 0M630.6 73.2a5.6 5.6 0 1 0 11.2 0a5.6 5.6 0 1 0-11.2 0M631.1 73a5.6 5.6 0 1 0 11.2 0a5.6 5.6 0 1 0-11.2 0M631.6 72.7a5.6 5.6 0 1 0 11.2 0a5.6 5.6 0 1 0-11.2 0M632 72.5a5.6 5.6 0 1 0 11.2 0a5.6 5.6 0 1 0-11.2 0M632.5 72.3a5.6 5.6 0 1 0 11.2 0a5.6 5.6 0 1 0-11.2 0"/><line x1="76.6" y1="378.2" x2="637.2" y2="58.2" stroke="#333" stroke-width="3.8" stroke-dasharray="12.9 13.46"/><path d="M65 479.5v-6M65 9.5v6M146.5 479.5v-3.2M146.5 9.5v3.2M194.2 479.5v-3.2M194.2 9.5v3.2M228 479.5v-3.2M228 9.5v3.2M254.2 479.5v-3.2M254.2 9.5v3.2M275.6 479.5v-3.2M275.6 9.5v3.2M293.8 479.5v-3.2M293.8 9.5v3.2M309.5 479.5v-3.2M309.5 9.5v3.2M323.3 479.5v-3.2M323.3 9.5v3.2M335.7 479.5v-6M335.7 9.5v6M417.2 479.5v-3.2M417.2 9.5v3.2M464.9 479.5v-3.2M464.9 9.5v3.2M498.7 479.5v-3.2M498.7 9.5v3.2M524.9 479.5v-3.2M524.9 9.5v3.2M546.3 479.5v-3.2M546.3 9.5v3.2M564.5 479.5v-3.2M564.5 9.5v3.2M580.2 479.5v-3.2M580.2 9.5v3.2M594 479.5v-3.2M594 9.5v3.2M606.4 479.5v-6M606.4 9.5v6M65 479.5h6M661.5 479.5h-6M65 451.2h3.2M661.5 451.2h-3.2M65 434.7h3.2M661.5 434.7h-3.2M65 422.9h3.2M661.5 422.9h-3.2M65 413.8h3.2M661.5 413.8h-3.2M65 406.4h3.2M661.5 406.4h-3.2M65 400.1h3.2M661.5 400.1h-3.2M65 394.6h3.2M661.5 394.6h-3.2M65 389.8h3.2M661.5 389.8h-3.2M65 385.5h6M661.5 385.5h-6M65 357.2h3.2M661.5 357.2h-3.2M65 340.7h3.2M661.5 340.7h-3.2M65 328.9h3.2M661.5 328.9h-3.2M65 319.8h3.2M661.5 319.8h-3.2M65 312.4h3.2M661.5 312.4h-3.2M65 306.1h3.2M661.5 306.1h-3.2M65 300.6h3.2M661.5 300.6h-3.2M65 295.8h3.2M661.5 295.8h-3.2M65 291.5h6M661.5 291.5h-6M65 263.2h3.2M661.5 263.2h-3.2M65 246.7h3.2M661.5 246.7h-3.2M65 234.9h3.2M661.5 234.9h-3.2M65 225.8h3.2M661.5 225.8h-3.2M65 218.4h3.2M661.5 218.4h-3.2M65 212.1h3.2M661.5 212.1h-3.2M65 206.6h3.2M661.5 206.6h-3.2M65 201.8h3.2M661.5 201.8h-3.2M65 197.5h6M661.5 197.5h-6M65 169.2h3.2M661.5 169.2h-3.2M65 152.7h3.2M661.5 152.7h-3.2M65 140.9h3.2M661.5 140.9h-3.2M65 131.8h3.2M661.5 131.8h-3.2M65 124.4h3.2M661.5 124.4h-3.2M65 118.1h3.2M661.5 118.1h-3.2M65 112.6h3.2M661.5 112.6h-3.2M65 107.8h3.2M661.5 107.8h-3.2M65 103.5h6M661.5 103.5h-6M65 75.2h3.2M661.5 75.2h-3.2M65 58.7h3.2M661.5 58.7h-3.2M65 46.9h3.2M661.5 46.9h-3.2M65 37.8h3.2M661.5 37.8h-3.2M65 30.4h3.2M661.5 30.4h-3.2M65 24.1h3.2M661.5 24.1h-3.2M65 18.6h3.2M661.5 18.6h-3.2M65 13.8h3.2M661.5 13.8h-3.2M65 4h0" stroke="#4d4d4d" stroke-width="1" fill="none"/><rect x="65" y="9.5" width="596.5" height="470" stroke="#4d4d4d" stroke-width="1" fill="none"/><g font-family="Liberation Sans" fill="#262626"><text x="56.4" y="489" text-anchor="end" font-size="18.2">10<tspan dx="1" dy="-9.3" font-size="14">-1</tspan></text><text x="56.4" y="395" text-anchor="end" font-size="18.2">10<tspan dx="1" dy="-9.3" font-size="14">0</tspan></text><text x="56.4" y="301" text-anchor="end" font-size="18.2">10<tspan dx="1" dy="-9.3" font-size="14">1</tspan></text><text x="56.4" y="207" text-anchor="end" font-size="18.2">10<tspan dx="1" dy="-9.3" font-size="14">2</tspan></text><text x="56.4" y="113" text-anchor="end" font-size="18.2">10<tspan dx="1" dy="-9.3" font-size="14">3</tspan></text><text x="56.4" y="19" text-anchor="end" font-size="18.2">10<tspan dx="1" dy="-9.3" font-size="14">4</tspan></text><text x="63.7" y="511.2" text-anchor="middle" font-size="18.2">10<tspan dy="-9.3" font-size="14">4</tspan></text><text x="334.4" y="511.2" text-anchor="middle" font-size="18.2">10<tspan dy="-9.3" font-size="14">5</tspan></text><text x="605.1" y="511.2" text-anchor="middle" font-size="18.2">10<tspan dy="-9.3" font-size="14">6</tspan></text></g><text x="376.3" y="521.5" text-anchor="middle" font-family="Liberation Sans" font-size="30" fill="#262626">t</text><g transform="translate(21.1 266.5) rotate(-90)"><text x="0" y="0" font-family="Liberation Sans" font-size="30" fill="#262626">M<tspan dy="14.3" font-size="24">2</tspan></text></g><rect x="71.5" y="16.5" width="161.8" height="162.8" fill="#fff" stroke="#262626" stroke-width="1"/><path fill="none" stroke="#808080" stroke-width="1.1" d="M98.9 30.3h11.2M104.5 24.7v11.2"/><path fill="none" stroke="#00bfbf" stroke-width="4.0" stroke-linecap="round" d="M104.5 52.9h0"/><path fill="none" stroke="#edb120" stroke-width="1.1" d="M99 75.5h11M104.5 70v11M100.6 71.6l7.8 7.8M100.6 79.4l7.8-7.8"/><path fill="none" stroke="#7e2f8e" stroke-width="1.1" d="M100.6 94.2l7.8 7.8M100.6 102l7.8-7.8"/><path fill="none" stroke="#008000" stroke-width="1.1" d="M100 116.2h9v9h-9z"/><path fill="none" stroke="#ff0000" stroke-width="1.1" d="M98.9 143.3a5.6 5.6 0 1 0 11.2 0a5.6 5.6 0 1 0-11.2 0"/><line x1="77.2" y1="165.9" x2="132" y2="165.9" stroke="#333" stroke-width="3.4" stroke-dasharray="13.2 13.2"/><text x="136.7" y="37" font-family="Liberation Sans" font-size="16.4" fill="#262626">Pe = 0.5</text><text x="136.7" y="59.6" font-family="Liberation Sans" font-size="16.4" fill="#262626">Pe = 1</text><text x="136.7" y="82.2" font-family="Liberation Sans" font-size="16.4" fill="#262626">Pe = 5</text><text x="136.7" y="104.8" font-family="Liberation Sans" font-size="16.4" fill="#262626">Pe = 10</text><text x="136.7" y="127.4" font-family="Liberation Sans" font-size="16.4" fill="#262626">Pe = 20</text><text x="136.7" y="150" font-family="Liberation Sans" font-size="16.4" fill="#262626">Pe = 50</text><text x="136.9" y="172.6" font-family="Liberation Sans" font-size="16.4" fill="#262626">slope = 1.64</text><rect x="425.5" y="246.5" width="205" height="172.3" fill="#fff" stroke="none"/><path d="M425.5 418.8v-2.4M425.5 246.5v2.4M459.7 418.8v-2.4M459.7 246.5v2.4M493.8 418.8v-2.4M493.8 246.5v2.4M528 418.8v-2.4M528 246.5v2.4M562.2 418.8v-2.4M562.2 246.5v2.4M596.3 418.8v-2.4M596.3 246.5v2.4M425.5 418.8h2.4M630.5 418.8h-2.4M425.5 365h2.4M630.5 365h-2.4M425.5 311.1h2.4M630.5 311.1h-2.4M425.5 257.3h2.4M630.5 257.3h-2.4" stroke="#777" stroke-width="1" fill="none"/><rect x="425.5" y="246.5" width="205" height="172.3" stroke="#6a6a6a" stroke-width="1" fill="none"/><polyline fill="none" stroke="#0072bd" stroke-width="2.9" stroke-dasharray="7.8 3.2 3.1 3.2" points="427.2,416.1 428.9,402.6 442.6,346.1 459.7,284.2 493.8,260 596.3,246.5"/><polyline fill="none" stroke="none" marker-start="url(#mb)" marker-mid="url(#mb)" marker-end="url(#mb)" points="427.2,416.1 428.9,402.6 442.6,346.1 459.7,284.2 493.8,260 596.3,246.5"/><g font-family="Liberation Sans" font-size="15" fill="#262626"><text x="425.5" y="439.6" text-anchor="middle">0</text><text x="459.7" y="439.6" text-anchor="middle">10</text><text x="493.8" y="439.6" text-anchor="middle">20</text><text x="528" y="439.6" text-anchor="middle">30</text><text x="562.2" y="439.6" text-anchor="middle">40</text><text x="596.3" y="439.6" text-anchor="middle">50</text><text x="420.5" y="425" text-anchor="end">1</text><text x="420.5" y="371.2" text-anchor="end">1.2</text><text x="420.5" y="317.3" text-anchor="end">1.4</text><text x="420.5" y="263.5" text-anchor="end">1.6</text></g><text x="527.8" y="461.5" text-anchor="middle" font-family="Liberation Sans" font-size="16.3" fill="#262626">Pe</text><g transform="translate(401 335.5) rotate(-90)"><text x="0" y="0" text-anchor="middle" font-family="Liberation Serif" font-style="italic" font-size="26.5" fill="#262626">&#946;</text></g></svg></body></html>
